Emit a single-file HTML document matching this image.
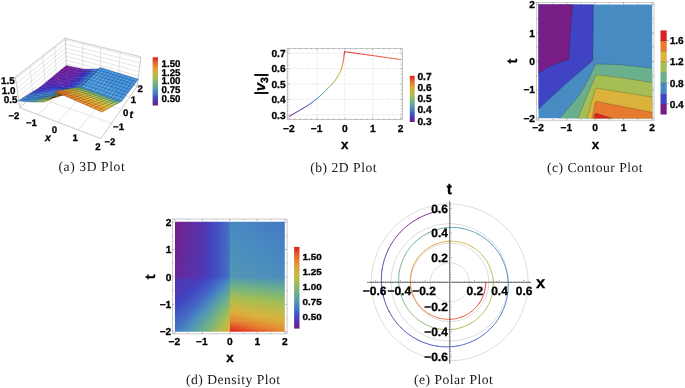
<!DOCTYPE html>
<html><head><meta charset="utf-8"><title>Plots</title>
<style>html,body{margin:0;padding:0;background:#fff}svg{display:block}</style></head>
<body>
<svg width="685" height="388" viewBox="0 0 685 388" font-family="Liberation Sans, Arial, Helvetica, sans-serif" text-rendering="geometricPrecision">
<style>text{stroke:#000;stroke-width:0.3px}text.cap{stroke:none}</style>
<defs><linearGradient id="cb" x1="0" y1="0" x2="0" y2="1"><stop offset="0.000" stop-color="#db2121"/><stop offset="0.083" stop-color="#e3552a"/><stop offset="0.167" stop-color="#e68332"/><stop offset="0.250" stop-color="#dea439"/><stop offset="0.333" stop-color="#c9b644"/><stop offset="0.417" stop-color="#aabd52"/><stop offset="0.500" stop-color="#88b770"/><stop offset="0.583" stop-color="#68ad91"/><stop offset="0.667" stop-color="#5497b0"/><stop offset="0.750" stop-color="#4679c3"/><stop offset="0.833" stop-color="#414fc4"/><stop offset="0.917" stop-color="#5733aa"/><stop offset="1.000" stop-color="#781c86"/></linearGradient></defs>
<rect width="685" height="388" fill="#fff"/>
<g id="p2d"><line x1="289.2" y1="48.3" x2="289.2" y2="119.4" stroke="#d2d2d2" stroke-width="0.6" stroke-dasharray="2 1.2 0.6 1.2"/>
<line x1="317.0" y1="48.3" x2="317.0" y2="119.4" stroke="#d2d2d2" stroke-width="0.6" stroke-dasharray="2 1.2 0.6 1.2"/>
<line x1="344.9" y1="48.3" x2="344.9" y2="119.4" stroke="#d2d2d2" stroke-width="0.6" stroke-dasharray="2 1.2 0.6 1.2"/>
<line x1="372.8" y1="48.3" x2="372.8" y2="119.4" stroke="#d2d2d2" stroke-width="0.6" stroke-dasharray="2 1.2 0.6 1.2"/>
<line x1="400.6" y1="48.3" x2="400.6" y2="119.4" stroke="#d2d2d2" stroke-width="0.6" stroke-dasharray="2 1.2 0.6 1.2"/>
<line x1="287.2" y1="114.9" x2="402.6" y2="114.9" stroke="#d2d2d2" stroke-width="0.6" stroke-dasharray="2 1.2 0.6 1.2"/>
<line x1="287.2" y1="99.4" x2="402.6" y2="99.4" stroke="#d2d2d2" stroke-width="0.6" stroke-dasharray="2 1.2 0.6 1.2"/>
<line x1="287.2" y1="83.9" x2="402.6" y2="83.9" stroke="#d2d2d2" stroke-width="0.6" stroke-dasharray="2 1.2 0.6 1.2"/>
<line x1="287.2" y1="68.5" x2="402.6" y2="68.5" stroke="#d2d2d2" stroke-width="0.6" stroke-dasharray="2 1.2 0.6 1.2"/>
<line x1="287.2" y1="53.0" x2="402.6" y2="53.0" stroke="#d2d2d2" stroke-width="0.6" stroke-dasharray="2 1.2 0.6 1.2"/>
<rect x="287.2" y="48.3" width="115.4" height="71.1" fill="none" stroke="#aaa" stroke-width="0.7"/>
<path d="M289.2 119.4v-2.2M289.2 48.3v2.2" stroke="#888" stroke-width="0.5"/>
<path d="M294.8 119.4v-1.2M294.8 48.3v1.2" stroke="#888" stroke-width="0.5"/>
<path d="M300.3 119.4v-1.2M300.3 48.3v1.2" stroke="#888" stroke-width="0.5"/>
<path d="M305.9 119.4v-1.2M305.9 48.3v1.2" stroke="#888" stroke-width="0.5"/>
<path d="M311.5 119.4v-1.2M311.5 48.3v1.2" stroke="#888" stroke-width="0.5"/>
<path d="M317.0 119.4v-2.2M317.0 48.3v2.2" stroke="#888" stroke-width="0.5"/>
<path d="M322.6 119.4v-1.2M322.6 48.3v1.2" stroke="#888" stroke-width="0.5"/>
<path d="M328.2 119.4v-1.2M328.2 48.3v1.2" stroke="#888" stroke-width="0.5"/>
<path d="M333.8 119.4v-1.2M333.8 48.3v1.2" stroke="#888" stroke-width="0.5"/>
<path d="M339.3 119.4v-1.2M339.3 48.3v1.2" stroke="#888" stroke-width="0.5"/>
<path d="M344.9 119.4v-2.2M344.9 48.3v2.2" stroke="#888" stroke-width="0.5"/>
<path d="M350.5 119.4v-1.2M350.5 48.3v1.2" stroke="#888" stroke-width="0.5"/>
<path d="M356.0 119.4v-1.2M356.0 48.3v1.2" stroke="#888" stroke-width="0.5"/>
<path d="M361.6 119.4v-1.2M361.6 48.3v1.2" stroke="#888" stroke-width="0.5"/>
<path d="M367.2 119.4v-1.2M367.2 48.3v1.2" stroke="#888" stroke-width="0.5"/>
<path d="M372.7 119.4v-2.2M372.7 48.3v2.2" stroke="#888" stroke-width="0.5"/>
<path d="M378.3 119.4v-1.2M378.3 48.3v1.2" stroke="#888" stroke-width="0.5"/>
<path d="M383.9 119.4v-1.2M383.9 48.3v1.2" stroke="#888" stroke-width="0.5"/>
<path d="M389.5 119.4v-1.2M389.5 48.3v1.2" stroke="#888" stroke-width="0.5"/>
<path d="M395.0 119.4v-1.2M395.0 48.3v1.2" stroke="#888" stroke-width="0.5"/>
<path d="M400.6 119.4v-2.2M400.6 48.3v2.2" stroke="#888" stroke-width="0.5"/>
<path d="M287.2 118.0h1.2M402.6 118.0h-1.2" stroke="#888" stroke-width="0.5"/>
<path d="M287.2 114.9h2.2M402.6 114.9h-2.2" stroke="#888" stroke-width="0.5"/>
<path d="M287.2 111.8h1.2M402.6 111.8h-1.2" stroke="#888" stroke-width="0.5"/>
<path d="M287.2 108.7h1.2M402.6 108.7h-1.2" stroke="#888" stroke-width="0.5"/>
<path d="M287.2 105.6h1.2M402.6 105.6h-1.2" stroke="#888" stroke-width="0.5"/>
<path d="M287.2 102.5h1.2M402.6 102.5h-1.2" stroke="#888" stroke-width="0.5"/>
<path d="M287.2 99.4h2.2M402.6 99.4h-2.2" stroke="#888" stroke-width="0.5"/>
<path d="M287.2 96.3h1.2M402.6 96.3h-1.2" stroke="#888" stroke-width="0.5"/>
<path d="M287.2 93.2h1.2M402.6 93.2h-1.2" stroke="#888" stroke-width="0.5"/>
<path d="M287.2 90.1h1.2M402.6 90.1h-1.2" stroke="#888" stroke-width="0.5"/>
<path d="M287.2 87.0h1.2M402.6 87.0h-1.2" stroke="#888" stroke-width="0.5"/>
<path d="M287.2 83.9h2.2M402.6 83.9h-2.2" stroke="#888" stroke-width="0.5"/>
<path d="M287.2 80.8h1.2M402.6 80.8h-1.2" stroke="#888" stroke-width="0.5"/>
<path d="M287.2 77.7h1.2M402.6 77.7h-1.2" stroke="#888" stroke-width="0.5"/>
<path d="M287.2 74.7h1.2M402.6 74.7h-1.2" stroke="#888" stroke-width="0.5"/>
<path d="M287.2 71.6h1.2M402.6 71.6h-1.2" stroke="#888" stroke-width="0.5"/>
<path d="M287.2 68.5h2.2M402.6 68.5h-2.2" stroke="#888" stroke-width="0.5"/>
<path d="M287.2 65.4h1.2M402.6 65.4h-1.2" stroke="#888" stroke-width="0.5"/>
<path d="M287.2 62.3h1.2M402.6 62.3h-1.2" stroke="#888" stroke-width="0.5"/>
<path d="M287.2 59.2h1.2M402.6 59.2h-1.2" stroke="#888" stroke-width="0.5"/>
<path d="M287.2 56.1h1.2M402.6 56.1h-1.2" stroke="#888" stroke-width="0.5"/>
<path d="M287.2 53.0h2.2M402.6 53.0h-2.2" stroke="#888" stroke-width="0.5"/>
<line x1="289.20" y1="116.29" x2="290.47" y2="115.59" stroke="#751e89" stroke-width="0.85" stroke-linecap="round"/>
<line x1="290.47" y1="115.59" x2="291.72" y2="114.89" stroke="#71218e" stroke-width="0.85" stroke-linecap="round"/>
<line x1="291.72" y1="114.89" x2="292.97" y2="114.19" stroke="#6c2493" stroke-width="0.85" stroke-linecap="round"/>
<line x1="292.97" y1="114.19" x2="294.20" y2="113.49" stroke="#682798" stroke-width="0.85" stroke-linecap="round"/>
<line x1="294.20" y1="113.49" x2="295.43" y2="112.78" stroke="#642a9d" stroke-width="0.85" stroke-linecap="round"/>
<line x1="295.43" y1="112.78" x2="296.64" y2="112.08" stroke="#5f2da1" stroke-width="0.85" stroke-linecap="round"/>
<line x1="296.64" y1="112.08" x2="297.84" y2="111.39" stroke="#5b30a6" stroke-width="0.85" stroke-linecap="round"/>
<line x1="297.84" y1="111.39" x2="299.03" y2="110.69" stroke="#5733ab" stroke-width="0.85" stroke-linecap="round"/>
<line x1="299.03" y1="110.69" x2="300.21" y2="110.00" stroke="#5236b0" stroke-width="0.85" stroke-linecap="round"/>
<line x1="300.21" y1="110.00" x2="301.37" y2="109.32" stroke="#4e39b4" stroke-width="0.85" stroke-linecap="round"/>
<line x1="301.37" y1="109.32" x2="302.53" y2="108.64" stroke="#4a3cb9" stroke-width="0.85" stroke-linecap="round"/>
<line x1="302.53" y1="108.64" x2="303.67" y2="107.96" stroke="#463fbe" stroke-width="0.85" stroke-linecap="round"/>
<line x1="303.67" y1="107.96" x2="304.80" y2="107.29" stroke="#4242c2" stroke-width="0.85" stroke-linecap="round"/>
<line x1="304.80" y1="107.29" x2="305.92" y2="106.60" stroke="#4046c4" stroke-width="0.85" stroke-linecap="round"/>
<line x1="305.92" y1="106.60" x2="307.03" y2="105.90" stroke="#414cc4" stroke-width="0.85" stroke-linecap="round"/>
<line x1="307.03" y1="105.90" x2="308.13" y2="105.19" stroke="#4252c4" stroke-width="0.85" stroke-linecap="round"/>
<line x1="308.13" y1="105.19" x2="309.21" y2="104.45" stroke="#4257c3" stroke-width="0.85" stroke-linecap="round"/>
<line x1="309.21" y1="104.45" x2="310.28" y2="103.71" stroke="#435dc3" stroke-width="0.85" stroke-linecap="round"/>
<line x1="310.28" y1="103.71" x2="311.34" y2="102.96" stroke="#4463c3" stroke-width="0.85" stroke-linecap="round"/>
<line x1="311.34" y1="102.96" x2="312.39" y2="102.20" stroke="#4469c3" stroke-width="0.85" stroke-linecap="round"/>
<line x1="312.39" y1="102.20" x2="313.42" y2="101.43" stroke="#456fc3" stroke-width="0.85" stroke-linecap="round"/>
<line x1="313.42" y1="101.43" x2="314.44" y2="100.64" stroke="#4675c3" stroke-width="0.85" stroke-linecap="round"/>
<line x1="314.44" y1="100.64" x2="315.45" y2="99.85" stroke="#467cc2" stroke-width="0.85" stroke-linecap="round"/>
<line x1="315.45" y1="99.85" x2="316.45" y2="99.06" stroke="#4782c2" stroke-width="0.85" stroke-linecap="round"/>
<line x1="316.45" y1="99.06" x2="317.43" y2="98.25" stroke="#4888c2" stroke-width="0.85" stroke-linecap="round"/>
<line x1="317.43" y1="98.25" x2="318.40" y2="97.43" stroke="#4a8dbf" stroke-width="0.85" stroke-linecap="round"/>
<line x1="318.40" y1="97.43" x2="319.36" y2="96.60" stroke="#4d90ba" stroke-width="0.85" stroke-linecap="round"/>
<line x1="319.36" y1="96.60" x2="320.30" y2="95.76" stroke="#5094b5" stroke-width="0.85" stroke-linecap="round"/>
<line x1="320.30" y1="95.76" x2="321.23" y2="94.90" stroke="#5397b0" stroke-width="0.85" stroke-linecap="round"/>
<line x1="321.23" y1="94.90" x2="322.15" y2="94.05" stroke="#579bab" stroke-width="0.85" stroke-linecap="round"/>
<line x1="322.15" y1="94.05" x2="323.05" y2="93.19" stroke="#5a9ea6" stroke-width="0.85" stroke-linecap="round"/>
<line x1="323.05" y1="93.19" x2="323.94" y2="92.33" stroke="#5da2a1" stroke-width="0.85" stroke-linecap="round"/>
<line x1="323.94" y1="92.33" x2="324.82" y2="91.47" stroke="#61a59c" stroke-width="0.85" stroke-linecap="round"/>
<line x1="324.82" y1="91.47" x2="325.68" y2="90.62" stroke="#64a997" stroke-width="0.85" stroke-linecap="round"/>
<line x1="325.68" y1="90.62" x2="326.53" y2="89.77" stroke="#67ac92" stroke-width="0.85" stroke-linecap="round"/>
<line x1="326.53" y1="89.77" x2="327.36" y2="88.94" stroke="#6aaf8d" stroke-width="0.85" stroke-linecap="round"/>
<line x1="327.36" y1="88.94" x2="328.18" y2="88.13" stroke="#6fb188" stroke-width="0.85" stroke-linecap="round"/>
<line x1="328.18" y1="88.13" x2="328.98" y2="87.33" stroke="#75b283" stroke-width="0.85" stroke-linecap="round"/>
<line x1="328.98" y1="87.33" x2="329.77" y2="86.53" stroke="#7ab47e" stroke-width="0.85" stroke-linecap="round"/>
<line x1="329.77" y1="86.53" x2="330.54" y2="85.72" stroke="#7fb579" stroke-width="0.85" stroke-linecap="round"/>
<line x1="330.54" y1="85.72" x2="331.30" y2="84.92" stroke="#84b674" stroke-width="0.85" stroke-linecap="round"/>
<line x1="331.30" y1="84.92" x2="332.04" y2="84.10" stroke="#89b76f" stroke-width="0.85" stroke-linecap="round"/>
<line x1="332.04" y1="84.10" x2="332.77" y2="83.26" stroke="#8fb96a" stroke-width="0.85" stroke-linecap="round"/>
<line x1="332.77" y1="83.26" x2="333.48" y2="82.41" stroke="#94ba64" stroke-width="0.85" stroke-linecap="round"/>
<line x1="333.48" y1="82.41" x2="334.17" y2="81.54" stroke="#9abb5f" stroke-width="0.85" stroke-linecap="round"/>
<line x1="334.17" y1="81.54" x2="334.85" y2="80.67" stroke="#9fbd5a" stroke-width="0.85" stroke-linecap="round"/>
<line x1="334.85" y1="80.67" x2="335.51" y2="79.78" stroke="#a5be54" stroke-width="0.85" stroke-linecap="round"/>
<line x1="335.51" y1="79.78" x2="336.16" y2="78.87" stroke="#aabd52" stroke-width="0.85" stroke-linecap="round"/>
<line x1="336.16" y1="78.87" x2="336.79" y2="77.93" stroke="#b0bc4f" stroke-width="0.85" stroke-linecap="round"/>
<line x1="336.79" y1="77.93" x2="337.40" y2="76.97" stroke="#b5ba4d" stroke-width="0.85" stroke-linecap="round"/>
<line x1="337.40" y1="76.97" x2="337.99" y2="75.97" stroke="#bbb94a" stroke-width="0.85" stroke-linecap="round"/>
<line x1="337.99" y1="75.97" x2="338.56" y2="74.95" stroke="#c1b847" stroke-width="0.85" stroke-linecap="round"/>
<line x1="338.56" y1="74.95" x2="339.11" y2="73.93" stroke="#c7b645" stroke-width="0.85" stroke-linecap="round"/>
<line x1="339.11" y1="73.93" x2="339.65" y2="72.90" stroke="#cdb542" stroke-width="0.85" stroke-linecap="round"/>
<line x1="339.65" y1="72.90" x2="340.16" y2="71.83" stroke="#d4b43f" stroke-width="0.85" stroke-linecap="round"/>
<line x1="340.16" y1="71.83" x2="340.66" y2="70.71" stroke="#dab23c" stroke-width="0.85" stroke-linecap="round"/>
<line x1="340.66" y1="70.71" x2="341.13" y2="69.52" stroke="#dcac3b" stroke-width="0.85" stroke-linecap="round"/>
<line x1="341.13" y1="69.52" x2="341.59" y2="68.26" stroke="#dea439" stroke-width="0.85" stroke-linecap="round"/>
<line x1="341.59" y1="68.26" x2="342.02" y2="66.93" stroke="#e09c37" stroke-width="0.85" stroke-linecap="round"/>
<line x1="342.02" y1="66.93" x2="342.42" y2="65.43" stroke="#e29335" stroke-width="0.85" stroke-linecap="round"/>
<line x1="342.42" y1="65.43" x2="342.81" y2="63.72" stroke="#e48a33" stroke-width="0.85" stroke-linecap="round"/>
<line x1="342.81" y1="63.72" x2="343.17" y2="61.88" stroke="#e77f31" stroke-width="0.85" stroke-linecap="round"/>
<line x1="343.17" y1="61.88" x2="343.50" y2="59.99" stroke="#e66f2e" stroke-width="0.85" stroke-linecap="round"/>
<line x1="343.50" y1="59.99" x2="343.81" y2="57.60" stroke="#e35a2b" stroke-width="0.85" stroke-linecap="round"/>
<line x1="343.81" y1="57.60" x2="344.08" y2="55.13" stroke="#e04227" stroke-width="0.85" stroke-linecap="round"/>
<line x1="344.08" y1="55.13" x2="344.33" y2="53.51" stroke="#dd2e23" stroke-width="0.85" stroke-linecap="round"/>
<line x1="344.33" y1="53.51" x2="344.54" y2="52.66" stroke="#db2221" stroke-width="0.85" stroke-linecap="round"/>
<line x1="344.54" y1="52.66" x2="344.71" y2="52.11" stroke="#db2121" stroke-width="0.85" stroke-linecap="round"/>
<line x1="344.71" y1="52.11" x2="344.84" y2="51.83" stroke="#db2121" stroke-width="0.85" stroke-linecap="round"/>
<line x1="344.84" y1="51.83" x2="344.90" y2="51.74" stroke="#db2121" stroke-width="0.85" stroke-linecap="round"/>
<line x1="344.90" y1="51.74" x2="349.54" y2="52.39" stroke="#db2121" stroke-width="0.85" stroke-linecap="round"/>
<line x1="349.54" y1="52.39" x2="354.18" y2="53.03" stroke="#db2121" stroke-width="0.85" stroke-linecap="round"/>
<line x1="354.18" y1="53.03" x2="358.82" y2="53.68" stroke="#dc2522" stroke-width="0.85" stroke-linecap="round"/>
<line x1="358.82" y1="53.68" x2="363.47" y2="54.32" stroke="#dc2b23" stroke-width="0.85" stroke-linecap="round"/>
<line x1="363.47" y1="54.32" x2="368.11" y2="54.97" stroke="#dd3124" stroke-width="0.85" stroke-linecap="round"/>
<line x1="368.11" y1="54.97" x2="372.75" y2="55.61" stroke="#de3825" stroke-width="0.85" stroke-linecap="round"/>
<line x1="372.75" y1="55.61" x2="377.39" y2="56.26" stroke="#df3e26" stroke-width="0.85" stroke-linecap="round"/>
<line x1="377.39" y1="56.26" x2="382.03" y2="56.90" stroke="#e04427" stroke-width="0.85" stroke-linecap="round"/>
<line x1="382.03" y1="56.90" x2="386.67" y2="57.55" stroke="#e14b28" stroke-width="0.85" stroke-linecap="round"/>
<line x1="386.67" y1="57.55" x2="391.32" y2="58.19" stroke="#e25129" stroke-width="0.85" stroke-linecap="round"/>
<line x1="391.32" y1="58.19" x2="395.96" y2="58.84" stroke="#e3572a" stroke-width="0.85" stroke-linecap="round"/>
<line x1="395.96" y1="58.84" x2="400.60" y2="59.48" stroke="#e45e2b" stroke-width="0.85" stroke-linecap="round"/>
<text x="288.8" y="131.9" font-size="10.2" font-weight="bold" text-anchor="middle" fill="#000" >−2</text>
<text x="316.6" y="131.9" font-size="10.2" font-weight="bold" text-anchor="middle" fill="#000" >−1</text>
<text x="344.9" y="131.9" font-size="10.2" font-weight="bold" text-anchor="middle" fill="#000" >0</text>
<text x="372.8" y="131.9" font-size="10.2" font-weight="bold" text-anchor="middle" fill="#000" >1</text>
<text x="400.6" y="131.9" font-size="10.2" font-weight="bold" text-anchor="middle" fill="#000" >2</text>
<text x="285.6" y="118.5" font-size="10.2" font-weight="bold" text-anchor="end" fill="#000" >0.3</text>
<text x="285.6" y="103.0" font-size="10.2" font-weight="bold" text-anchor="end" fill="#000" >0.4</text>
<text x="285.6" y="87.5" font-size="10.2" font-weight="bold" text-anchor="end" fill="#000" >0.5</text>
<text x="285.6" y="72.1" font-size="10.2" font-weight="bold" text-anchor="end" fill="#000" >0.6</text>
<text x="285.6" y="56.6" font-size="10.2" font-weight="bold" text-anchor="end" fill="#000" >0.7</text>
<text x="344.8" y="148.6" font-size="13.4" font-weight="bold" text-anchor="middle" fill="#000" >x</text>
<text transform="translate(265.2,84) rotate(-90)" font-size="14.5" font-weight="bold" text-anchor="middle">|<tspan font-style="italic">v</tspan><tspan font-size="10.5" dy="2.6">3</tspan><tspan dy="-2.6">|</tspan></text>
<rect x="409.8" y="75.8" width="4.9" height="46.2" fill="url(#cb)"/>
<text x="417.4" y="79.7" font-size="10.2" font-weight="bold" text-anchor="start" fill="#000" >0.7</text>
<text x="417.4" y="90.9" font-size="10.2" font-weight="bold" text-anchor="start" fill="#000" >0.6</text>
<text x="417.4" y="102.1" font-size="10.2" font-weight="bold" text-anchor="start" fill="#000" >0.5</text>
<text x="417.4" y="113.3" font-size="10.2" font-weight="bold" text-anchor="start" fill="#000" >0.4</text>
<text x="417.4" y="124.5" font-size="10.2" font-weight="bold" text-anchor="start" fill="#000" >0.3</text></g>
<g id="pcont"><clipPath id="cclip"><rect x="538.5" y="4.5" width="113.7" height="113.7"/></clipPath>
<g clip-path="url(#cclip)" stroke="#222" stroke-opacity="0.55" stroke-width="0.4" stroke-linejoin="round">
<rect x="537.5" y="3.5" width="115.70000000000005" height="115.7" fill="#488bc2" stroke="none"/>
<path d="M593.5 3.5 L593.2 30 L592.9 59.3 Q592.8 60.6 591 62.2 L566 83.5 L537.5 110 L537.5 3.5 Z" fill="#4043c4"/>
<path d="M572.8 3.5 L570.5 30 L568.9 57.5 Q568.8 59.8 566 60.6 Q551 64 537.5 74 L537.5 3.5 Z" fill="#781c86"/>
<path d="M558.8 119.2 L575 100.5 Q586 87 594.4 66.2 Q595.2 64.2 597 64 L620 64.7 L653.2 68.3 L653.2 119.2 Z" fill="#6bb08c"/>
<path d="M577.4 119.2 L595.2 76.4 Q595.6 74.6 597 74.8 L620 77.6 L653.2 82.7 L653.2 119.2 Z" fill="#a5be54"/>
<path d="M586.6 119.2 L595.4 89.2 Q595.6 88 597 88.2 L653.2 97.2 L653.2 119.2 Z" fill="#dbb23c"/>
<path d="M592 119.2 L595.3 102.4 Q595.5 101.3 597 101.5 L653.2 112.5 L653.2 119.2 Z" fill="#e87a30"/>
<path d="M594.1 119.2 L595 113.8 Q595.2 113.2 596.5 113.5 L613 118.4 L613 119.2 Z" fill="#db2121"/>
</g>
<rect x="536.6" y="2.3" width="117.4" height="117.9" fill="none" stroke="#aaa" stroke-width="0.6"/>
<path d="M538.4 120.2v-2.0M538.4 2.3v2.0" stroke="#777" stroke-width="0.5"/>
<path d="M536.6 118.2h2.0M654.0 118.2h-2.0" stroke="#777" stroke-width="0.5"/>
<path d="M552.6 120.2v-1.2M552.6 2.3v1.2" stroke="#777" stroke-width="0.5"/>
<path d="M536.6 104.0h1.2M654.0 104.0h-1.2" stroke="#777" stroke-width="0.5"/>
<path d="M566.8 120.2v-2.0M566.8 2.3v2.0" stroke="#777" stroke-width="0.5"/>
<path d="M536.6 89.8h2.0M654.0 89.8h-2.0" stroke="#777" stroke-width="0.5"/>
<path d="M581.0 120.2v-1.2M581.0 2.3v1.2" stroke="#777" stroke-width="0.5"/>
<path d="M536.6 75.6h1.2M654.0 75.6h-1.2" stroke="#777" stroke-width="0.5"/>
<path d="M595.2 120.2v-2.0M595.2 2.3v2.0" stroke="#777" stroke-width="0.5"/>
<path d="M536.6 61.4h2.0M654.0 61.4h-2.0" stroke="#777" stroke-width="0.5"/>
<path d="M609.4 120.2v-1.2M609.4 2.3v1.2" stroke="#777" stroke-width="0.5"/>
<path d="M536.6 47.2h1.2M654.0 47.2h-1.2" stroke="#777" stroke-width="0.5"/>
<path d="M623.6 120.2v-2.0M623.6 2.3v2.0" stroke="#777" stroke-width="0.5"/>
<path d="M536.6 33.0h2.0M654.0 33.0h-2.0" stroke="#777" stroke-width="0.5"/>
<path d="M637.8 120.2v-1.2M637.8 2.3v1.2" stroke="#777" stroke-width="0.5"/>
<path d="M536.6 18.8h1.2M654.0 18.8h-1.2" stroke="#777" stroke-width="0.5"/>
<path d="M652.0 120.2v-2.0M652.0 2.3v2.0" stroke="#777" stroke-width="0.5"/>
<path d="M536.6 4.6h2.0M654.0 4.6h-2.0" stroke="#777" stroke-width="0.5"/>
<text x="538.0" y="131.3" font-size="10.2" font-weight="bold" text-anchor="middle" fill="#000" >−2</text>
<text x="535.0" y="121.8" font-size="10.2" font-weight="bold" text-anchor="end" fill="#000" >−2</text>
<text x="566.4" y="131.3" font-size="10.2" font-weight="bold" text-anchor="middle" fill="#000" >−1</text>
<text x="535.0" y="93.4" font-size="10.2" font-weight="bold" text-anchor="end" fill="#000" >−1</text>
<text x="595.2" y="131.3" font-size="10.2" font-weight="bold" text-anchor="middle" fill="#000" >0</text>
<text x="535.0" y="65.0" font-size="10.2" font-weight="bold" text-anchor="end" fill="#000" >0</text>
<text x="623.6" y="131.3" font-size="10.2" font-weight="bold" text-anchor="middle" fill="#000" >1</text>
<text x="535.0" y="36.6" font-size="10.2" font-weight="bold" text-anchor="end" fill="#000" >1</text>
<text x="652.0" y="131.3" font-size="10.2" font-weight="bold" text-anchor="middle" fill="#000" >2</text>
<text x="535.0" y="8.2" font-size="10.2" font-weight="bold" text-anchor="end" fill="#000" >2</text>
<text x="595.4" y="148.8" font-size="13.4" font-weight="bold" text-anchor="middle" fill="#000" >x</text>
<text transform="translate(516.5,61) rotate(-90)" font-size="14.5" font-weight="bold" text-anchor="middle">t</text>
<rect x="660.5" y="103.90" width="6.2" height="10.6" fill="#781c86"/>
<rect x="660.5" y="93.40" width="6.2" height="10.6" fill="#4043c4"/>
<rect x="660.5" y="82.90" width="6.2" height="10.6" fill="#488bc2"/>
<rect x="660.5" y="72.40" width="6.2" height="10.6" fill="#6bb08c"/>
<rect x="660.5" y="61.90" width="6.2" height="10.6" fill="#a5be54"/>
<rect x="660.5" y="51.40" width="6.2" height="10.6" fill="#dbb23c"/>
<rect x="660.5" y="40.90" width="6.2" height="10.6" fill="#e87a30"/>
<rect x="660.5" y="30.40" width="6.2" height="10.6" fill="#db2121"/>
<line x1="660.5" x2="666.7" y1="103.90" y2="103.90" stroke="#333" stroke-opacity="0.5" stroke-width="0.4"/>
<line x1="660.5" x2="666.7" y1="93.40" y2="93.40" stroke="#333" stroke-opacity="0.5" stroke-width="0.4"/>
<line x1="660.5" x2="666.7" y1="82.90" y2="82.90" stroke="#333" stroke-opacity="0.5" stroke-width="0.4"/>
<line x1="660.5" x2="666.7" y1="72.40" y2="72.40" stroke="#333" stroke-opacity="0.5" stroke-width="0.4"/>
<line x1="660.5" x2="666.7" y1="61.90" y2="61.90" stroke="#333" stroke-opacity="0.5" stroke-width="0.4"/>
<line x1="660.5" x2="666.7" y1="51.40" y2="51.40" stroke="#333" stroke-opacity="0.5" stroke-width="0.4"/>
<line x1="660.5" x2="666.7" y1="40.90" y2="40.90" stroke="#333" stroke-opacity="0.5" stroke-width="0.4"/>
<line x1="666.7" x2="668.7" y1="40.60" y2="40.60" stroke="#555" stroke-width="0.5"/>
<text x="669.7" y="44.2" font-size="10.1" font-weight="bold" text-anchor="start" fill="#000" >1.6</text>
<line x1="666.7" x2="668.7" y1="61.80" y2="61.80" stroke="#555" stroke-width="0.5"/>
<text x="669.7" y="65.4" font-size="10.1" font-weight="bold" text-anchor="start" fill="#000" >1.2</text>
<line x1="666.7" x2="668.7" y1="82.90" y2="82.90" stroke="#555" stroke-width="0.5"/>
<text x="669.7" y="86.5" font-size="10.1" font-weight="bold" text-anchor="start" fill="#000" >0.8</text>
<line x1="666.7" x2="668.7" y1="103.90" y2="103.90" stroke="#555" stroke-width="0.5"/>
<text x="669.7" y="107.5" font-size="10.1" font-weight="bold" text-anchor="start" fill="#000" >0.4</text></g>
<g id="pdens"><clipPath id="dclip"><rect x="174.8" y="221.7" width="110.1" height="110.0"/></clipPath>
<defs><linearGradient id="d0"><stop offset="0.0000" stop-color="#781c86"/><stop offset="0.0625" stop-color="#6e2391"/><stop offset="0.1250" stop-color="#65299b"/><stop offset="0.1875" stop-color="#5d2fa4"/><stop offset="0.2500" stop-color="#5733aa"/><stop offset="0.3125" stop-color="#483dbb"/><stop offset="0.3750" stop-color="#414dc4"/><stop offset="0.4250" stop-color="#435bc3"/><stop offset="0.4625" stop-color="#4466c3"/><stop offset="0.4875" stop-color="#4571c3"/><stop offset="0.5000" stop-color="#467ac2"/><stop offset="0.5000" stop-color="#488ac2"/><stop offset="0.7500" stop-color="#4781c2"/><stop offset="1.0000" stop-color="#4678c3"/></linearGradient><linearGradient id="d1"><stop offset="0.0000" stop-color="#781c87"/><stop offset="0.0625" stop-color="#6d2392"/><stop offset="0.1250" stop-color="#642a9c"/><stop offset="0.1875" stop-color="#5d2fa4"/><stop offset="0.2500" stop-color="#5733ab"/><stop offset="0.3125" stop-color="#483dbb"/><stop offset="0.3750" stop-color="#414dc4"/><stop offset="0.4250" stop-color="#435bc3"/><stop offset="0.4625" stop-color="#4466c3"/><stop offset="0.4875" stop-color="#4571c3"/><stop offset="0.5000" stop-color="#467ac2"/><stop offset="0.5000" stop-color="#488bc2"/><stop offset="0.7500" stop-color="#4782c2"/><stop offset="1.0000" stop-color="#4679c3"/></linearGradient><linearGradient id="d2"><stop offset="0.0000" stop-color="#771d87"/><stop offset="0.0625" stop-color="#6d2492"/><stop offset="0.1250" stop-color="#642a9c"/><stop offset="0.1875" stop-color="#5c2fa5"/><stop offset="0.2500" stop-color="#5733ab"/><stop offset="0.3125" stop-color="#483dbb"/><stop offset="0.3750" stop-color="#414dc4"/><stop offset="0.4250" stop-color="#435bc3"/><stop offset="0.4625" stop-color="#4466c3"/><stop offset="0.4875" stop-color="#4571c3"/><stop offset="0.5000" stop-color="#467ac2"/><stop offset="0.5000" stop-color="#488bc1"/><stop offset="0.7500" stop-color="#4783c2"/><stop offset="1.0000" stop-color="#467ac2"/></linearGradient><linearGradient id="d3"><stop offset="0.0000" stop-color="#761d88"/><stop offset="0.0625" stop-color="#6d2493"/><stop offset="0.1250" stop-color="#642a9d"/><stop offset="0.1875" stop-color="#5c2fa5"/><stop offset="0.2500" stop-color="#5733ab"/><stop offset="0.3125" stop-color="#483ebb"/><stop offset="0.3750" stop-color="#414dc4"/><stop offset="0.4250" stop-color="#435cc3"/><stop offset="0.4625" stop-color="#4466c3"/><stop offset="0.4875" stop-color="#4571c3"/><stop offset="0.5000" stop-color="#467ac2"/><stop offset="0.5000" stop-color="#498cc1"/><stop offset="0.7500" stop-color="#4784c2"/><stop offset="1.0000" stop-color="#467ac2"/></linearGradient><linearGradient id="d4"><stop offset="0.0000" stop-color="#761d88"/><stop offset="0.0625" stop-color="#6c2493"/><stop offset="0.1250" stop-color="#632a9d"/><stop offset="0.1875" stop-color="#5c30a5"/><stop offset="0.2500" stop-color="#5633ab"/><stop offset="0.3125" stop-color="#483ebb"/><stop offset="0.3750" stop-color="#414dc4"/><stop offset="0.4250" stop-color="#435cc3"/><stop offset="0.4625" stop-color="#4466c3"/><stop offset="0.4875" stop-color="#4571c3"/><stop offset="0.5000" stop-color="#467ac2"/><stop offset="0.5000" stop-color="#498cc0"/><stop offset="0.7500" stop-color="#4784c2"/><stop offset="1.0000" stop-color="#467bc2"/></linearGradient><linearGradient id="d5"><stop offset="0.0000" stop-color="#751e89"/><stop offset="0.0625" stop-color="#6c2594"/><stop offset="0.1250" stop-color="#632b9d"/><stop offset="0.1875" stop-color="#5c30a6"/><stop offset="0.2500" stop-color="#5634ab"/><stop offset="0.3125" stop-color="#483ebc"/><stop offset="0.3750" stop-color="#414dc4"/><stop offset="0.4250" stop-color="#435cc3"/><stop offset="0.4625" stop-color="#4466c3"/><stop offset="0.4875" stop-color="#4571c3"/><stop offset="0.5000" stop-color="#467ac2"/><stop offset="0.5000" stop-color="#4a8dc0"/><stop offset="0.7500" stop-color="#4785c2"/><stop offset="1.0000" stop-color="#467cc2"/></linearGradient><linearGradient id="d6"><stop offset="0.0000" stop-color="#751e89"/><stop offset="0.0625" stop-color="#6b2594"/><stop offset="0.1250" stop-color="#622b9e"/><stop offset="0.1875" stop-color="#5b30a6"/><stop offset="0.2500" stop-color="#5634ac"/><stop offset="0.3125" stop-color="#473ebc"/><stop offset="0.3750" stop-color="#414dc4"/><stop offset="0.4250" stop-color="#435cc3"/><stop offset="0.4625" stop-color="#4466c3"/><stop offset="0.4875" stop-color="#4571c3"/><stop offset="0.5000" stop-color="#467ac2"/><stop offset="0.5000" stop-color="#4a8dbf"/><stop offset="0.7500" stop-color="#4786c2"/><stop offset="1.0000" stop-color="#467dc2"/></linearGradient><linearGradient id="d7"><stop offset="0.0000" stop-color="#741f8a"/><stop offset="0.0625" stop-color="#6b2595"/><stop offset="0.1250" stop-color="#622b9e"/><stop offset="0.1875" stop-color="#5b30a6"/><stop offset="0.2500" stop-color="#5634ac"/><stop offset="0.3125" stop-color="#473ebc"/><stop offset="0.3750" stop-color="#414dc4"/><stop offset="0.4250" stop-color="#435cc3"/><stop offset="0.4625" stop-color="#4466c3"/><stop offset="0.4875" stop-color="#4571c3"/><stop offset="0.5000" stop-color="#467ac2"/><stop offset="0.5000" stop-color="#4a8ebe"/><stop offset="0.7500" stop-color="#4887c2"/><stop offset="1.0000" stop-color="#477ec2"/></linearGradient><linearGradient id="d8"><stop offset="0.0000" stop-color="#741f8b"/><stop offset="0.0625" stop-color="#6a2595"/><stop offset="0.1250" stop-color="#622b9f"/><stop offset="0.1875" stop-color="#5b30a6"/><stop offset="0.2500" stop-color="#5634ac"/><stop offset="0.3125" stop-color="#473ebc"/><stop offset="0.3750" stop-color="#414ec4"/><stop offset="0.4250" stop-color="#435cc3"/><stop offset="0.4625" stop-color="#4466c3"/><stop offset="0.4875" stop-color="#4571c3"/><stop offset="0.5000" stop-color="#467ac2"/><stop offset="0.5000" stop-color="#4b8ebe"/><stop offset="0.7500" stop-color="#4888c2"/><stop offset="1.0000" stop-color="#477ec2"/></linearGradient><linearGradient id="d9"><stop offset="0.0000" stop-color="#731f8b"/><stop offset="0.0625" stop-color="#6a2696"/><stop offset="0.1250" stop-color="#612c9f"/><stop offset="0.1875" stop-color="#5a31a7"/><stop offset="0.2500" stop-color="#5534ac"/><stop offset="0.3125" stop-color="#473ebc"/><stop offset="0.3750" stop-color="#414ec4"/><stop offset="0.4250" stop-color="#435cc3"/><stop offset="0.4625" stop-color="#4466c3"/><stop offset="0.4875" stop-color="#4571c3"/><stop offset="0.5000" stop-color="#467ac2"/><stop offset="0.5000" stop-color="#4b8ebd"/><stop offset="0.7500" stop-color="#4888c2"/><stop offset="1.0000" stop-color="#477fc2"/></linearGradient><linearGradient id="d10"><stop offset="0.0000" stop-color="#73208c"/><stop offset="0.0625" stop-color="#6a2696"/><stop offset="0.1250" stop-color="#612c9f"/><stop offset="0.1875" stop-color="#5a31a7"/><stop offset="0.2500" stop-color="#5534ad"/><stop offset="0.3125" stop-color="#473ebc"/><stop offset="0.3750" stop-color="#414ec4"/><stop offset="0.4250" stop-color="#435cc3"/><stop offset="0.4625" stop-color="#4466c3"/><stop offset="0.4875" stop-color="#4571c3"/><stop offset="0.5000" stop-color="#467ac2"/><stop offset="0.5000" stop-color="#4c8fbc"/><stop offset="0.7500" stop-color="#4889c2"/><stop offset="1.0000" stop-color="#4780c2"/></linearGradient><linearGradient id="d11"><stop offset="0.0000" stop-color="#72208c"/><stop offset="0.0625" stop-color="#692697"/><stop offset="0.1250" stop-color="#612ca0"/><stop offset="0.1875" stop-color="#5a31a7"/><stop offset="0.2500" stop-color="#5534ad"/><stop offset="0.3125" stop-color="#473ebd"/><stop offset="0.3750" stop-color="#414ec4"/><stop offset="0.4250" stop-color="#435cc3"/><stop offset="0.4625" stop-color="#4466c3"/><stop offset="0.4875" stop-color="#4571c3"/><stop offset="0.5000" stop-color="#467ac2"/><stop offset="0.5000" stop-color="#4c8fbc"/><stop offset="0.7500" stop-color="#488ac2"/><stop offset="1.0000" stop-color="#4781c2"/></linearGradient><linearGradient id="d12"><stop offset="0.0000" stop-color="#72208d"/><stop offset="0.0625" stop-color="#692797"/><stop offset="0.1250" stop-color="#602ca0"/><stop offset="0.1875" stop-color="#5a31a8"/><stop offset="0.2500" stop-color="#5535ad"/><stop offset="0.3125" stop-color="#473ebd"/><stop offset="0.3750" stop-color="#414ec4"/><stop offset="0.4250" stop-color="#435cc3"/><stop offset="0.4625" stop-color="#4466c3"/><stop offset="0.4875" stop-color="#4571c3"/><stop offset="0.5000" stop-color="#467ac2"/><stop offset="0.5000" stop-color="#4c90bb"/><stop offset="0.7500" stop-color="#488bc2"/><stop offset="1.0000" stop-color="#4782c2"/></linearGradient><linearGradient id="d13"><stop offset="0.0000" stop-color="#71218d"/><stop offset="0.0625" stop-color="#682798"/><stop offset="0.1250" stop-color="#602da1"/><stop offset="0.1875" stop-color="#5931a8"/><stop offset="0.2500" stop-color="#5535ad"/><stop offset="0.3125" stop-color="#463fbd"/><stop offset="0.3750" stop-color="#414ec4"/><stop offset="0.4250" stop-color="#435cc3"/><stop offset="0.4625" stop-color="#4466c3"/><stop offset="0.4875" stop-color="#4571c3"/><stop offset="0.5000" stop-color="#467ac2"/><stop offset="0.5000" stop-color="#4d90bb"/><stop offset="0.7500" stop-color="#488bc2"/><stop offset="1.0000" stop-color="#4782c2"/></linearGradient><linearGradient id="d14"><stop offset="0.0000" stop-color="#71218e"/><stop offset="0.0625" stop-color="#682798"/><stop offset="0.1250" stop-color="#602da1"/><stop offset="0.1875" stop-color="#5932a8"/><stop offset="0.2500" stop-color="#5435ad"/><stop offset="0.3125" stop-color="#463fbd"/><stop offset="0.3750" stop-color="#414ec4"/><stop offset="0.4250" stop-color="#435cc3"/><stop offset="0.4625" stop-color="#4466c3"/><stop offset="0.4875" stop-color="#4571c3"/><stop offset="0.5000" stop-color="#467ac2"/><stop offset="0.5000" stop-color="#4d90ba"/><stop offset="0.7500" stop-color="#498cc1"/><stop offset="1.0000" stop-color="#4783c2"/></linearGradient><linearGradient id="d15"><stop offset="0.0000" stop-color="#70218f"/><stop offset="0.0625" stop-color="#672898"/><stop offset="0.1250" stop-color="#5f2da1"/><stop offset="0.1875" stop-color="#5932a9"/><stop offset="0.2500" stop-color="#5435ae"/><stop offset="0.3125" stop-color="#463fbd"/><stop offset="0.3750" stop-color="#414ec4"/><stop offset="0.4250" stop-color="#435cc3"/><stop offset="0.4625" stop-color="#4466c3"/><stop offset="0.4875" stop-color="#4571c3"/><stop offset="0.5000" stop-color="#467ac2"/><stop offset="0.5000" stop-color="#4e91b9"/><stop offset="0.7500" stop-color="#498cc0"/><stop offset="1.0000" stop-color="#4784c2"/></linearGradient><linearGradient id="d16"><stop offset="0.0000" stop-color="#70228f"/><stop offset="0.0625" stop-color="#672899"/><stop offset="0.1250" stop-color="#5f2da2"/><stop offset="0.1875" stop-color="#5832a9"/><stop offset="0.2500" stop-color="#5435ae"/><stop offset="0.3125" stop-color="#463fbd"/><stop offset="0.3750" stop-color="#414fc4"/><stop offset="0.4250" stop-color="#435cc3"/><stop offset="0.4625" stop-color="#4466c3"/><stop offset="0.4875" stop-color="#4571c3"/><stop offset="0.5000" stop-color="#467ac2"/><stop offset="0.5000" stop-color="#4e91b9"/><stop offset="0.7500" stop-color="#498dc0"/><stop offset="1.0000" stop-color="#4785c2"/></linearGradient><linearGradient id="d17"><stop offset="0.0000" stop-color="#6f2290"/><stop offset="0.0625" stop-color="#662899"/><stop offset="0.1250" stop-color="#5f2ea2"/><stop offset="0.1875" stop-color="#5832a9"/><stop offset="0.2500" stop-color="#5435ae"/><stop offset="0.3125" stop-color="#463fbe"/><stop offset="0.3750" stop-color="#414fc4"/><stop offset="0.4250" stop-color="#435dc3"/><stop offset="0.4625" stop-color="#4466c3"/><stop offset="0.4875" stop-color="#4571c3"/><stop offset="0.5000" stop-color="#467ac2"/><stop offset="0.5000" stop-color="#4e92b8"/><stop offset="0.7500" stop-color="#4a8dbf"/><stop offset="1.0000" stop-color="#4786c2"/></linearGradient><linearGradient id="d18"><stop offset="0.0000" stop-color="#6f2390"/><stop offset="0.0625" stop-color="#66299a"/><stop offset="0.1250" stop-color="#5e2ea3"/><stop offset="0.1875" stop-color="#5832aa"/><stop offset="0.2500" stop-color="#5435ae"/><stop offset="0.3125" stop-color="#463fbe"/><stop offset="0.3750" stop-color="#414fc4"/><stop offset="0.4250" stop-color="#435dc3"/><stop offset="0.4625" stop-color="#4466c3"/><stop offset="0.4875" stop-color="#4571c3"/><stop offset="0.5000" stop-color="#467ac2"/><stop offset="0.5000" stop-color="#4f92b8"/><stop offset="0.7500" stop-color="#4a8dbf"/><stop offset="1.0000" stop-color="#4786c2"/></linearGradient><linearGradient id="d19"><stop offset="0.0000" stop-color="#6e2391"/><stop offset="0.0625" stop-color="#66299a"/><stop offset="0.1250" stop-color="#5e2ea3"/><stop offset="0.1875" stop-color="#5833aa"/><stop offset="0.2500" stop-color="#5336af"/><stop offset="0.3125" stop-color="#463fbe"/><stop offset="0.3750" stop-color="#414fc4"/><stop offset="0.4250" stop-color="#435dc3"/><stop offset="0.4625" stop-color="#4466c3"/><stop offset="0.4875" stop-color="#4571c3"/><stop offset="0.5000" stop-color="#467ac2"/><stop offset="0.5000" stop-color="#4f92b7"/><stop offset="0.7500" stop-color="#4b8ebe"/><stop offset="1.0000" stop-color="#4887c2"/></linearGradient><linearGradient id="d20"><stop offset="0.0000" stop-color="#6e2392"/><stop offset="0.0625" stop-color="#65299b"/><stop offset="0.1250" stop-color="#5d2fa3"/><stop offset="0.1875" stop-color="#5733aa"/><stop offset="0.2500" stop-color="#5336af"/><stop offset="0.3125" stop-color="#453fbe"/><stop offset="0.3750" stop-color="#414fc4"/><stop offset="0.4250" stop-color="#435dc3"/><stop offset="0.4625" stop-color="#4467c3"/><stop offset="0.4875" stop-color="#4571c3"/><stop offset="0.5000" stop-color="#467ac2"/><stop offset="0.5000" stop-color="#4f93b6"/><stop offset="0.7500" stop-color="#4b8ebd"/><stop offset="1.0000" stop-color="#4888c2"/></linearGradient><linearGradient id="d21"><stop offset="0.0000" stop-color="#6d2492"/><stop offset="0.0625" stop-color="#65299b"/><stop offset="0.1250" stop-color="#5d2fa4"/><stop offset="0.1875" stop-color="#5733ab"/><stop offset="0.2500" stop-color="#5336af"/><stop offset="0.3125" stop-color="#453fbe"/><stop offset="0.3750" stop-color="#414fc4"/><stop offset="0.4250" stop-color="#435dc3"/><stop offset="0.4625" stop-color="#4467c3"/><stop offset="0.4875" stop-color="#4571c3"/><stop offset="0.5000" stop-color="#467ac2"/><stop offset="0.5000" stop-color="#5093b6"/><stop offset="0.7500" stop-color="#4b8fbd"/><stop offset="1.0000" stop-color="#4889c2"/></linearGradient><linearGradient id="d22"><stop offset="0.0000" stop-color="#6d2493"/><stop offset="0.0625" stop-color="#642a9c"/><stop offset="0.1250" stop-color="#5d2fa4"/><stop offset="0.1875" stop-color="#5733ab"/><stop offset="0.2500" stop-color="#5336af"/><stop offset="0.3125" stop-color="#453fbe"/><stop offset="0.3750" stop-color="#414fc4"/><stop offset="0.4250" stop-color="#435dc3"/><stop offset="0.4625" stop-color="#4467c3"/><stop offset="0.4875" stop-color="#4571c3"/><stop offset="0.5000" stop-color="#467ac2"/><stop offset="0.5000" stop-color="#5094b5"/><stop offset="0.7500" stop-color="#4c8fbc"/><stop offset="1.0000" stop-color="#488ac2"/></linearGradient><linearGradient id="d23"><stop offset="0.0000" stop-color="#6c2493"/><stop offset="0.0625" stop-color="#642a9c"/><stop offset="0.1250" stop-color="#5c2fa5"/><stop offset="0.1875" stop-color="#5633ab"/><stop offset="0.2500" stop-color="#5336af"/><stop offset="0.3125" stop-color="#4540bf"/><stop offset="0.3750" stop-color="#414fc4"/><stop offset="0.4250" stop-color="#435dc3"/><stop offset="0.4625" stop-color="#4467c3"/><stop offset="0.4875" stop-color="#4571c3"/><stop offset="0.5000" stop-color="#467ac2"/><stop offset="0.5000" stop-color="#5194b5"/><stop offset="0.7500" stop-color="#4c8fbc"/><stop offset="1.0000" stop-color="#488ac2"/></linearGradient><linearGradient id="d24"><stop offset="0.0000" stop-color="#6c2594"/><stop offset="0.0625" stop-color="#632a9d"/><stop offset="0.1250" stop-color="#5c30a5"/><stop offset="0.1875" stop-color="#5634ab"/><stop offset="0.2500" stop-color="#5236b0"/><stop offset="0.3125" stop-color="#4540bf"/><stop offset="0.3750" stop-color="#4150c4"/><stop offset="0.4250" stop-color="#435dc3"/><stop offset="0.4625" stop-color="#4467c3"/><stop offset="0.4875" stop-color="#4571c3"/><stop offset="0.5000" stop-color="#467ac2"/><stop offset="0.5000" stop-color="#5195b4"/><stop offset="0.7500" stop-color="#4d90bb"/><stop offset="1.0000" stop-color="#488bc2"/></linearGradient><linearGradient id="d25"><stop offset="0.0000" stop-color="#6b2594"/><stop offset="0.0625" stop-color="#632b9d"/><stop offset="0.1250" stop-color="#5c30a5"/><stop offset="0.1875" stop-color="#5634ac"/><stop offset="0.2500" stop-color="#5236b0"/><stop offset="0.3125" stop-color="#4540bf"/><stop offset="0.3750" stop-color="#4150c4"/><stop offset="0.4250" stop-color="#435dc3"/><stop offset="0.4625" stop-color="#4467c3"/><stop offset="0.4875" stop-color="#4571c3"/><stop offset="0.5000" stop-color="#467ac2"/><stop offset="0.5000" stop-color="#5195b3"/><stop offset="0.7500" stop-color="#4d90ba"/><stop offset="1.0000" stop-color="#498cc1"/></linearGradient><linearGradient id="d26"><stop offset="0.0000" stop-color="#6a2595"/><stop offset="0.0625" stop-color="#622b9e"/><stop offset="0.1250" stop-color="#5b30a6"/><stop offset="0.1875" stop-color="#5634ac"/><stop offset="0.2500" stop-color="#5236b0"/><stop offset="0.3125" stop-color="#4440bf"/><stop offset="0.3750" stop-color="#4150c4"/><stop offset="0.4250" stop-color="#435dc3"/><stop offset="0.4625" stop-color="#4467c3"/><stop offset="0.4875" stop-color="#4571c3"/><stop offset="0.5000" stop-color="#467ac2"/><stop offset="0.5000" stop-color="#5295b3"/><stop offset="0.7500" stop-color="#4d91ba"/><stop offset="1.0000" stop-color="#498cc1"/></linearGradient><linearGradient id="d27"><stop offset="0.0000" stop-color="#6a2696"/><stop offset="0.0625" stop-color="#622b9e"/><stop offset="0.1250" stop-color="#5b30a6"/><stop offset="0.1875" stop-color="#5534ac"/><stop offset="0.2500" stop-color="#5237b0"/><stop offset="0.3125" stop-color="#4440bf"/><stop offset="0.3750" stop-color="#4150c4"/><stop offset="0.4250" stop-color="#435dc3"/><stop offset="0.4625" stop-color="#4467c3"/><stop offset="0.4875" stop-color="#4571c3"/><stop offset="0.5000" stop-color="#467ac2"/><stop offset="0.5000" stop-color="#5296b2"/><stop offset="0.7500" stop-color="#4e91b9"/><stop offset="1.0000" stop-color="#498cc0"/></linearGradient><linearGradient id="d28"><stop offset="0.0000" stop-color="#602da1"/><stop offset="0.0625" stop-color="#5b30a7"/><stop offset="0.1250" stop-color="#5634ac"/><stop offset="0.1875" stop-color="#5236b0"/><stop offset="0.2500" stop-color="#4d3ab6"/><stop offset="0.3125" stop-color="#4043c4"/><stop offset="0.3750" stop-color="#4255c3"/><stop offset="0.4250" stop-color="#4463c3"/><stop offset="0.4625" stop-color="#456ec3"/><stop offset="0.4875" stop-color="#467ac2"/><stop offset="0.5000" stop-color="#4782c2"/><stop offset="0.5000" stop-color="#5699ad"/><stop offset="0.7500" stop-color="#5194b4"/><stop offset="1.0000" stop-color="#4c8fbb"/></linearGradient><linearGradient id="d29"><stop offset="0.0000" stop-color="#4e39b4"/><stop offset="0.0625" stop-color="#4d3ab5"/><stop offset="0.1250" stop-color="#4d3ab6"/><stop offset="0.1875" stop-color="#4c3ab6"/><stop offset="0.2500" stop-color="#4440c0"/><stop offset="0.3125" stop-color="#414ec4"/><stop offset="0.3750" stop-color="#435fc3"/><stop offset="0.4250" stop-color="#456cc3"/><stop offset="0.4625" stop-color="#467cc2"/><stop offset="0.4875" stop-color="#488ac2"/><stop offset="0.5000" stop-color="#4b8ebe"/><stop offset="0.5000" stop-color="#5ca0a4"/><stop offset="0.7500" stop-color="#569aac"/><stop offset="1.0000" stop-color="#5195b4"/></linearGradient><linearGradient id="d30"><stop offset="0.0000" stop-color="#4c3bb7"/><stop offset="0.0625" stop-color="#4c3bb7"/><stop offset="0.1250" stop-color="#4c3ab6"/><stop offset="0.1875" stop-color="#483dbb"/><stop offset="0.2500" stop-color="#4045c4"/><stop offset="0.3125" stop-color="#4254c4"/><stop offset="0.3750" stop-color="#4464c3"/><stop offset="0.4250" stop-color="#4572c3"/><stop offset="0.4625" stop-color="#4786c2"/><stop offset="0.4875" stop-color="#4c8fbc"/><stop offset="0.5000" stop-color="#4f93b7"/><stop offset="0.5000" stop-color="#62a69a"/><stop offset="0.7500" stop-color="#5ca0a3"/><stop offset="1.0000" stop-color="#569aac"/></linearGradient><linearGradient id="d31"><stop offset="0.0000" stop-color="#4e39b5"/><stop offset="0.0625" stop-color="#4e39b5"/><stop offset="0.1250" stop-color="#4c3ab6"/><stop offset="0.1875" stop-color="#453fbe"/><stop offset="0.2500" stop-color="#4149c4"/><stop offset="0.3125" stop-color="#4258c3"/><stop offset="0.3750" stop-color="#4469c3"/><stop offset="0.4250" stop-color="#467ac2"/><stop offset="0.4625" stop-color="#4a8dc0"/><stop offset="0.4875" stop-color="#5093b6"/><stop offset="0.5000" stop-color="#5397b1"/><stop offset="0.5000" stop-color="#68ac91"/><stop offset="0.7500" stop-color="#62a69b"/><stop offset="1.0000" stop-color="#5b9fa4"/></linearGradient><linearGradient id="d32"><stop offset="0.0000" stop-color="#4f38b3"/><stop offset="0.0625" stop-color="#4f39b3"/><stop offset="0.1250" stop-color="#4a3cb9"/><stop offset="0.1875" stop-color="#4242c2"/><stop offset="0.2500" stop-color="#414ec4"/><stop offset="0.3125" stop-color="#435dc3"/><stop offset="0.3750" stop-color="#456dc3"/><stop offset="0.4250" stop-color="#4783c2"/><stop offset="0.4625" stop-color="#4d91ba"/><stop offset="0.4875" stop-color="#5498b0"/><stop offset="0.5000" stop-color="#579baa"/><stop offset="0.5000" stop-color="#6fb188"/><stop offset="0.7500" stop-color="#67ac92"/><stop offset="1.0000" stop-color="#60a59c"/></linearGradient><linearGradient id="d33"><stop offset="0.0000" stop-color="#5038b2"/><stop offset="0.0625" stop-color="#4e3ab5"/><stop offset="0.1250" stop-color="#473ebc"/><stop offset="0.1875" stop-color="#4045c4"/><stop offset="0.2500" stop-color="#4252c4"/><stop offset="0.3125" stop-color="#4361c3"/><stop offset="0.3750" stop-color="#4573c3"/><stop offset="0.4250" stop-color="#488bc2"/><stop offset="0.4625" stop-color="#5195b3"/><stop offset="0.4875" stop-color="#589ca9"/><stop offset="0.5000" stop-color="#5b9fa4"/><stop offset="0.5000" stop-color="#79b37e"/><stop offset="0.7500" stop-color="#6eb189"/><stop offset="1.0000" stop-color="#65aa95"/></linearGradient><linearGradient id="d34"><stop offset="0.0000" stop-color="#5038b2"/><stop offset="0.0625" stop-color="#4b3bb7"/><stop offset="0.1250" stop-color="#4540bf"/><stop offset="0.1875" stop-color="#4149c4"/><stop offset="0.2500" stop-color="#4256c3"/><stop offset="0.3125" stop-color="#4466c3"/><stop offset="0.3750" stop-color="#467ac2"/><stop offset="0.4250" stop-color="#4c8fbc"/><stop offset="0.4625" stop-color="#5599ad"/><stop offset="0.4875" stop-color="#5ca0a3"/><stop offset="0.5000" stop-color="#5fa49e"/><stop offset="0.5000" stop-color="#84b674"/><stop offset="0.7500" stop-color="#77b381"/><stop offset="1.0000" stop-color="#6baf8d"/></linearGradient><linearGradient id="d35"><stop offset="0.0000" stop-color="#4f39b4"/><stop offset="0.0625" stop-color="#493dba"/><stop offset="0.1250" stop-color="#4242c2"/><stop offset="0.1875" stop-color="#414dc4"/><stop offset="0.2500" stop-color="#435bc3"/><stop offset="0.3125" stop-color="#446ac3"/><stop offset="0.3750" stop-color="#4783c2"/><stop offset="0.4250" stop-color="#5093b6"/><stop offset="0.4625" stop-color="#599da7"/><stop offset="0.4875" stop-color="#60a59d"/><stop offset="0.5000" stop-color="#64a898"/><stop offset="0.5000" stop-color="#8eb86b"/><stop offset="0.7500" stop-color="#80b578"/><stop offset="1.0000" stop-color="#73b285"/></linearGradient><linearGradient id="d36"><stop offset="0.0000" stop-color="#4d3ab6"/><stop offset="0.0625" stop-color="#473ebd"/><stop offset="0.1250" stop-color="#4045c4"/><stop offset="0.1875" stop-color="#4251c4"/><stop offset="0.2500" stop-color="#435fc3"/><stop offset="0.3125" stop-color="#456fc3"/><stop offset="0.3750" stop-color="#488bc2"/><stop offset="0.4250" stop-color="#5497b0"/><stop offset="0.4625" stop-color="#5da2a1"/><stop offset="0.4875" stop-color="#64a996"/><stop offset="0.5000" stop-color="#68ad91"/><stop offset="0.5000" stop-color="#98bb61"/><stop offset="0.7500" stop-color="#89b76f"/><stop offset="1.0000" stop-color="#7bb47d"/></linearGradient><linearGradient id="d37"><stop offset="0.0000" stop-color="#4b3cb8"/><stop offset="0.0625" stop-color="#4440bf"/><stop offset="0.1250" stop-color="#4148c4"/><stop offset="0.1875" stop-color="#4255c3"/><stop offset="0.2500" stop-color="#4464c3"/><stop offset="0.3125" stop-color="#4675c3"/><stop offset="0.3750" stop-color="#4c8fbc"/><stop offset="0.4250" stop-color="#589caa"/><stop offset="0.4625" stop-color="#62a69a"/><stop offset="0.4875" stop-color="#68ad90"/><stop offset="0.5000" stop-color="#6db08a"/><stop offset="0.5000" stop-color="#a1bd58"/><stop offset="0.7500" stop-color="#92ba66"/><stop offset="1.0000" stop-color="#83b674"/></linearGradient><linearGradient id="d38"><stop offset="0.0000" stop-color="#483dbb"/><stop offset="0.0625" stop-color="#4142c2"/><stop offset="0.1250" stop-color="#414cc4"/><stop offset="0.1875" stop-color="#4259c3"/><stop offset="0.2500" stop-color="#4468c3"/><stop offset="0.3125" stop-color="#467dc2"/><stop offset="0.3750" stop-color="#4f93b7"/><stop offset="0.4250" stop-color="#5ba0a4"/><stop offset="0.4625" stop-color="#66aa94"/><stop offset="0.4875" stop-color="#6eb189"/><stop offset="0.5000" stop-color="#74b284"/><stop offset="0.5000" stop-color="#aabd52"/><stop offset="0.7500" stop-color="#9cbc5d"/><stop offset="1.0000" stop-color="#8cb86c"/></linearGradient><linearGradient id="d39"><stop offset="0.0000" stop-color="#463fbd"/><stop offset="0.0625" stop-color="#4045c4"/><stop offset="0.1250" stop-color="#4150c4"/><stop offset="0.1875" stop-color="#435ec3"/><stop offset="0.2500" stop-color="#456dc3"/><stop offset="0.3125" stop-color="#4785c2"/><stop offset="0.3750" stop-color="#5397b1"/><stop offset="0.4250" stop-color="#60a49e"/><stop offset="0.4625" stop-color="#6aaf8e"/><stop offset="0.4875" stop-color="#75b283"/><stop offset="0.5000" stop-color="#7bb47d"/><stop offset="0.5000" stop-color="#b1bb4e"/><stop offset="0.7500" stop-color="#a4be55"/><stop offset="1.0000" stop-color="#94ba64"/></linearGradient><linearGradient id="d40"><stop offset="0.0000" stop-color="#4341c0"/><stop offset="0.0625" stop-color="#4148c4"/><stop offset="0.1250" stop-color="#4254c4"/><stop offset="0.1875" stop-color="#4362c3"/><stop offset="0.2500" stop-color="#4572c3"/><stop offset="0.3125" stop-color="#498cc1"/><stop offset="0.3750" stop-color="#579aab"/><stop offset="0.4250" stop-color="#64a897"/><stop offset="0.4625" stop-color="#70b187"/><stop offset="0.4875" stop-color="#7cb47c"/><stop offset="0.5000" stop-color="#82b676"/><stop offset="0.5000" stop-color="#b9ba4b"/><stop offset="0.7500" stop-color="#acbc51"/><stop offset="1.0000" stop-color="#9dbc5c"/></linearGradient><linearGradient id="d41"><stop offset="0.0000" stop-color="#4142c3"/><stop offset="0.0625" stop-color="#414cc4"/><stop offset="0.1250" stop-color="#4258c3"/><stop offset="0.1875" stop-color="#4466c3"/><stop offset="0.2500" stop-color="#4677c3"/><stop offset="0.3125" stop-color="#4c8fbc"/><stop offset="0.3750" stop-color="#5a9ea6"/><stop offset="0.4250" stop-color="#68ac91"/><stop offset="0.4625" stop-color="#77b381"/><stop offset="0.4875" stop-color="#83b675"/><stop offset="0.5000" stop-color="#89b76f"/><stop offset="0.5000" stop-color="#c0b848"/><stop offset="0.7500" stop-color="#b3bb4e"/><stop offset="1.0000" stop-color="#a5be54"/></linearGradient><linearGradient id="d42"><stop offset="0.0000" stop-color="#4045c4"/><stop offset="0.0625" stop-color="#4150c4"/><stop offset="0.1250" stop-color="#435dc3"/><stop offset="0.1875" stop-color="#446bc3"/><stop offset="0.2500" stop-color="#477fc2"/><stop offset="0.3125" stop-color="#5093b6"/><stop offset="0.3750" stop-color="#5ea2a0"/><stop offset="0.4250" stop-color="#6cb08b"/><stop offset="0.4625" stop-color="#7db47b"/><stop offset="0.4875" stop-color="#8ab76e"/><stop offset="0.5000" stop-color="#91b968"/><stop offset="0.5000" stop-color="#c7b745"/><stop offset="0.7500" stop-color="#b9b94b"/><stop offset="1.0000" stop-color="#abbd51"/></linearGradient><linearGradient id="d43"><stop offset="0.0000" stop-color="#4149c4"/><stop offset="0.0625" stop-color="#4254c4"/><stop offset="0.1250" stop-color="#4361c3"/><stop offset="0.1875" stop-color="#456fc3"/><stop offset="0.2500" stop-color="#4786c2"/><stop offset="0.3125" stop-color="#5397b1"/><stop offset="0.3750" stop-color="#62a69a"/><stop offset="0.4250" stop-color="#72b285"/><stop offset="0.4625" stop-color="#83b675"/><stop offset="0.4875" stop-color="#91b967"/><stop offset="0.5000" stop-color="#98bb61"/><stop offset="0.5000" stop-color="#ceb542"/><stop offset="0.7500" stop-color="#c0b848"/><stop offset="1.0000" stop-color="#b2bb4e"/></linearGradient><linearGradient id="d44"><stop offset="0.0000" stop-color="#414cc4"/><stop offset="0.0625" stop-color="#4258c3"/><stop offset="0.1250" stop-color="#4465c3"/><stop offset="0.1875" stop-color="#4574c3"/><stop offset="0.2500" stop-color="#498cc0"/><stop offset="0.3125" stop-color="#569aac"/><stop offset="0.3750" stop-color="#66aa94"/><stop offset="0.4250" stop-color="#78b37f"/><stop offset="0.4625" stop-color="#8bb86e"/><stop offset="0.4875" stop-color="#99bb60"/><stop offset="0.5000" stop-color="#9fbd5a"/><stop offset="0.5000" stop-color="#d6b33e"/><stop offset="0.7500" stop-color="#c6b745"/><stop offset="1.0000" stop-color="#b8ba4c"/></linearGradient><linearGradient id="d45"><stop offset="0.0000" stop-color="#4150c4"/><stop offset="0.0625" stop-color="#435cc3"/><stop offset="0.1250" stop-color="#4469c3"/><stop offset="0.1875" stop-color="#467bc2"/><stop offset="0.2500" stop-color="#4c90bb"/><stop offset="0.3125" stop-color="#599da7"/><stop offset="0.3750" stop-color="#69ae8f"/><stop offset="0.4250" stop-color="#7eb579"/><stop offset="0.4625" stop-color="#92b966"/><stop offset="0.4875" stop-color="#a0bd59"/><stop offset="0.5000" stop-color="#a6be54"/><stop offset="0.5000" stop-color="#dcaf3b"/><stop offset="0.7500" stop-color="#cdb542"/><stop offset="1.0000" stop-color="#beb949"/></linearGradient><linearGradient id="d46"><stop offset="0.0000" stop-color="#4254c4"/><stop offset="0.0625" stop-color="#4360c3"/><stop offset="0.1250" stop-color="#456dc3"/><stop offset="0.1875" stop-color="#4781c2"/><stop offset="0.2500" stop-color="#5093b6"/><stop offset="0.3125" stop-color="#5da1a2"/><stop offset="0.3750" stop-color="#6eb189"/><stop offset="0.4250" stop-color="#84b674"/><stop offset="0.4625" stop-color="#9abb5f"/><stop offset="0.4875" stop-color="#a7be53"/><stop offset="0.5000" stop-color="#acbd51"/><stop offset="0.5000" stop-color="#dea539"/><stop offset="0.7500" stop-color="#d4b43f"/><stop offset="1.0000" stop-color="#c4b746"/></linearGradient><linearGradient id="d47"><stop offset="0.0000" stop-color="#4258c3"/><stop offset="0.0625" stop-color="#4464c3"/><stop offset="0.1250" stop-color="#4572c3"/><stop offset="0.1875" stop-color="#4888c2"/><stop offset="0.2500" stop-color="#5396b1"/><stop offset="0.3125" stop-color="#60a59d"/><stop offset="0.3750" stop-color="#74b284"/><stop offset="0.4250" stop-color="#8ab76e"/><stop offset="0.4625" stop-color="#a1bd57"/><stop offset="0.4875" stop-color="#adbc51"/><stop offset="0.5000" stop-color="#b1bb4f"/><stop offset="0.5000" stop-color="#e09c37"/><stop offset="0.7500" stop-color="#dbb13c"/><stop offset="1.0000" stop-color="#cab644"/></linearGradient><linearGradient id="d48"><stop offset="0.0000" stop-color="#435cc3"/><stop offset="0.0625" stop-color="#4468c3"/><stop offset="0.1250" stop-color="#4676c3"/><stop offset="0.1875" stop-color="#4a8dbf"/><stop offset="0.2500" stop-color="#569aad"/><stop offset="0.3125" stop-color="#64a897"/><stop offset="0.3750" stop-color="#79b37e"/><stop offset="0.4250" stop-color="#91b967"/><stop offset="0.4625" stop-color="#a8bd53"/><stop offset="0.4875" stop-color="#b2bb4e"/><stop offset="0.5000" stop-color="#b7ba4c"/><stop offset="0.5000" stop-color="#e29235"/><stop offset="0.7500" stop-color="#dda93a"/><stop offset="1.0000" stop-color="#d0b541"/></linearGradient><linearGradient id="d49"><stop offset="0.0000" stop-color="#435fc3"/><stop offset="0.0625" stop-color="#456cc3"/><stop offset="0.1250" stop-color="#467dc2"/><stop offset="0.1875" stop-color="#4d90ba"/><stop offset="0.2500" stop-color="#599da8"/><stop offset="0.3125" stop-color="#67ac92"/><stop offset="0.3750" stop-color="#7fb579"/><stop offset="0.4250" stop-color="#99bb5f"/><stop offset="0.4625" stop-color="#aebc50"/><stop offset="0.4875" stop-color="#b8ba4c"/><stop offset="0.5000" stop-color="#bcb94a"/><stop offset="0.5000" stop-color="#e58833"/><stop offset="0.7500" stop-color="#dfa038"/><stop offset="1.0000" stop-color="#d6b33e"/></linearGradient><linearGradient id="d50"><stop offset="0.0000" stop-color="#4463c3"/><stop offset="0.0625" stop-color="#4570c3"/><stop offset="0.1250" stop-color="#4784c2"/><stop offset="0.1875" stop-color="#5093b6"/><stop offset="0.2500" stop-color="#5ba0a4"/><stop offset="0.3125" stop-color="#6bb08d"/><stop offset="0.3750" stop-color="#84b674"/><stop offset="0.4250" stop-color="#a1bd58"/><stop offset="0.4625" stop-color="#b4bb4e"/><stop offset="0.4875" stop-color="#bdb949"/><stop offset="0.5000" stop-color="#c1b848"/><stop offset="0.5000" stop-color="#e87b30"/><stop offset="0.7500" stop-color="#e19736"/><stop offset="1.0000" stop-color="#dcaf3b"/></linearGradient><linearGradient id="d51"><stop offset="0.0000" stop-color="#4467c3"/><stop offset="0.0625" stop-color="#4574c3"/><stop offset="0.1250" stop-color="#488ac2"/><stop offset="0.1875" stop-color="#5396b1"/><stop offset="0.2500" stop-color="#5fa39f"/><stop offset="0.3125" stop-color="#70b188"/><stop offset="0.3750" stop-color="#88b770"/><stop offset="0.4250" stop-color="#a8bd53"/><stop offset="0.4625" stop-color="#b9ba4b"/><stop offset="0.4875" stop-color="#c2b747"/><stop offset="0.5000" stop-color="#c6b745"/><stop offset="0.5000" stop-color="#e5662d"/><stop offset="0.7500" stop-color="#e38e34"/><stop offset="1.0000" stop-color="#dda73a"/></linearGradient><linearGradient id="d52"><stop offset="0.0000" stop-color="#446bc3"/><stop offset="0.0625" stop-color="#4679c2"/><stop offset="0.1250" stop-color="#4a8ebe"/><stop offset="0.1875" stop-color="#5599ad"/><stop offset="0.2500" stop-color="#62a79a"/><stop offset="0.3125" stop-color="#75b283"/><stop offset="0.3750" stop-color="#8eb86a"/><stop offset="0.4250" stop-color="#aebc50"/><stop offset="0.4625" stop-color="#beb849"/><stop offset="0.4875" stop-color="#c8b645"/><stop offset="0.5000" stop-color="#cbb643"/><stop offset="0.5000" stop-color="#e25129"/><stop offset="0.7500" stop-color="#e68432"/><stop offset="1.0000" stop-color="#df9f38"/></linearGradient><linearGradient id="d53"><stop offset="0.0000" stop-color="#456ec3"/><stop offset="0.0625" stop-color="#4780c2"/><stop offset="0.1250" stop-color="#4d91ba"/><stop offset="0.1875" stop-color="#589ca9"/><stop offset="0.2500" stop-color="#65aa95"/><stop offset="0.3125" stop-color="#79b37e"/><stop offset="0.3750" stop-color="#96ba62"/><stop offset="0.4250" stop-color="#b3bb4e"/><stop offset="0.4625" stop-color="#c4b746"/><stop offset="0.4875" stop-color="#cdb542"/><stop offset="0.5000" stop-color="#d1b441"/><stop offset="0.5000" stop-color="#df3e26"/><stop offset="0.7500" stop-color="#e8772f"/><stop offset="1.0000" stop-color="#e19736"/></linearGradient><linearGradient id="d54"><stop offset="0.0000" stop-color="#4572c3"/><stop offset="0.0625" stop-color="#4786c2"/><stop offset="0.1250" stop-color="#5093b6"/><stop offset="0.1875" stop-color="#5b9fa5"/><stop offset="0.2500" stop-color="#68ad90"/><stop offset="0.3125" stop-color="#7eb57a"/><stop offset="0.3750" stop-color="#9ebc5b"/><stop offset="0.4250" stop-color="#b8ba4b"/><stop offset="0.4625" stop-color="#cab644"/><stop offset="0.4875" stop-color="#d3b440"/><stop offset="0.5000" stop-color="#d7b33e"/><stop offset="0.5000" stop-color="#dd2e23"/><stop offset="0.7500" stop-color="#e5632c"/><stop offset="1.0000" stop-color="#e38f35"/></linearGradient><linearGradient id="d55"><stop offset="0.0000" stop-color="#4675c3"/><stop offset="0.0625" stop-color="#488bc2"/><stop offset="0.1250" stop-color="#5296b2"/><stop offset="0.1875" stop-color="#5da1a1"/><stop offset="0.2500" stop-color="#6bb08c"/><stop offset="0.3125" stop-color="#82b576"/><stop offset="0.3750" stop-color="#a4be55"/><stop offset="0.4250" stop-color="#bdb949"/><stop offset="0.4625" stop-color="#cfb542"/><stop offset="0.4875" stop-color="#d8b33d"/><stop offset="0.5000" stop-color="#dbb13c"/><stop offset="0.5000" stop-color="#db2121"/><stop offset="0.7500" stop-color="#e25229"/><stop offset="1.0000" stop-color="#e58833"/></linearGradient></defs>
<g clip-path="url(#dclip)"><rect x="174.8" y="221" width="110.1" height="2" fill="url(#d0)"/><rect x="174.8" y="223" width="110.1" height="2" fill="url(#d1)"/><rect x="174.8" y="225" width="110.1" height="2" fill="url(#d2)"/><rect x="174.8" y="227" width="110.1" height="2" fill="url(#d3)"/><rect x="174.8" y="229" width="110.1" height="2" fill="url(#d4)"/><rect x="174.8" y="231" width="110.1" height="2" fill="url(#d5)"/><rect x="174.8" y="233" width="110.1" height="2" fill="url(#d6)"/><rect x="174.8" y="235" width="110.1" height="2" fill="url(#d7)"/><rect x="174.8" y="237" width="110.1" height="2" fill="url(#d8)"/><rect x="174.8" y="239" width="110.1" height="2" fill="url(#d9)"/><rect x="174.8" y="241" width="110.1" height="2" fill="url(#d10)"/><rect x="174.8" y="243" width="110.1" height="2" fill="url(#d11)"/><rect x="174.8" y="245" width="110.1" height="2" fill="url(#d12)"/><rect x="174.8" y="247" width="110.1" height="2" fill="url(#d13)"/><rect x="174.8" y="249" width="110.1" height="2" fill="url(#d14)"/><rect x="174.8" y="251" width="110.1" height="2" fill="url(#d15)"/><rect x="174.8" y="253" width="110.1" height="2" fill="url(#d16)"/><rect x="174.8" y="255" width="110.1" height="2" fill="url(#d17)"/><rect x="174.8" y="257" width="110.1" height="2" fill="url(#d18)"/><rect x="174.8" y="259" width="110.1" height="2" fill="url(#d19)"/><rect x="174.8" y="261" width="110.1" height="2" fill="url(#d20)"/><rect x="174.8" y="263" width="110.1" height="2" fill="url(#d21)"/><rect x="174.8" y="265" width="110.1" height="2" fill="url(#d22)"/><rect x="174.8" y="267" width="110.1" height="2" fill="url(#d23)"/><rect x="174.8" y="269" width="110.1" height="2" fill="url(#d24)"/><rect x="174.8" y="271" width="110.1" height="2" fill="url(#d25)"/><rect x="174.8" y="273" width="110.1" height="2" fill="url(#d26)"/><rect x="174.8" y="275" width="110.1" height="2" fill="url(#d27)"/><rect x="174.8" y="277" width="110.1" height="2" fill="url(#d28)"/><rect x="174.8" y="279" width="110.1" height="2" fill="url(#d29)"/><rect x="174.8" y="281" width="110.1" height="2" fill="url(#d30)"/><rect x="174.8" y="283" width="110.1" height="2" fill="url(#d31)"/><rect x="174.8" y="285" width="110.1" height="2" fill="url(#d32)"/><rect x="174.8" y="287" width="110.1" height="2" fill="url(#d33)"/><rect x="174.8" y="289" width="110.1" height="2" fill="url(#d34)"/><rect x="174.8" y="291" width="110.1" height="2" fill="url(#d35)"/><rect x="174.8" y="293" width="110.1" height="2" fill="url(#d36)"/><rect x="174.8" y="295" width="110.1" height="2" fill="url(#d37)"/><rect x="174.8" y="297" width="110.1" height="2" fill="url(#d38)"/><rect x="174.8" y="299" width="110.1" height="2" fill="url(#d39)"/><rect x="174.8" y="301" width="110.1" height="2" fill="url(#d40)"/><rect x="174.8" y="303" width="110.1" height="2" fill="url(#d41)"/><rect x="174.8" y="305" width="110.1" height="2" fill="url(#d42)"/><rect x="174.8" y="307" width="110.1" height="2" fill="url(#d43)"/><rect x="174.8" y="309" width="110.1" height="2" fill="url(#d44)"/><rect x="174.8" y="311" width="110.1" height="2" fill="url(#d45)"/><rect x="174.8" y="313" width="110.1" height="2" fill="url(#d46)"/><rect x="174.8" y="315" width="110.1" height="2" fill="url(#d47)"/><rect x="174.8" y="317" width="110.1" height="2" fill="url(#d48)"/><rect x="174.8" y="319" width="110.1" height="2" fill="url(#d49)"/><rect x="174.8" y="321" width="110.1" height="2" fill="url(#d50)"/><rect x="174.8" y="323" width="110.1" height="2" fill="url(#d51)"/><rect x="174.8" y="325" width="110.1" height="2" fill="url(#d52)"/><rect x="174.8" y="327" width="110.1" height="2" fill="url(#d53)"/><rect x="174.8" y="329" width="110.1" height="2" fill="url(#d54)"/><rect x="174.8" y="331" width="110.1" height="2" fill="url(#d55)"/></g>
<rect x="172.3" y="219.0" width="114.8" height="114.9" fill="none" stroke="#aaa" stroke-width="0.6"/>
<path d="M174.8 333.9v-2.0M174.8 219.0v2.0" stroke="#777" stroke-width="0.5"/>
<path d="M172.3 331.7h2.0M287.1 331.7h-2.0" stroke="#777" stroke-width="0.5"/>
<path d="M188.6 333.9v-1.2M188.6 219.0v1.2" stroke="#777" stroke-width="0.5"/>
<path d="M172.3 318.0h1.2M287.1 318.0h-1.2" stroke="#777" stroke-width="0.5"/>
<path d="M202.3 333.9v-2.0M202.3 219.0v2.0" stroke="#777" stroke-width="0.5"/>
<path d="M172.3 304.3h2.0M287.1 304.3h-2.0" stroke="#777" stroke-width="0.5"/>
<path d="M216.1 333.9v-1.2M216.1 219.0v1.2" stroke="#777" stroke-width="0.5"/>
<path d="M172.3 290.6h1.2M287.1 290.6h-1.2" stroke="#777" stroke-width="0.5"/>
<path d="M229.8 333.9v-2.0M229.8 219.0v2.0" stroke="#777" stroke-width="0.5"/>
<path d="M172.3 276.9h2.0M287.1 276.9h-2.0" stroke="#777" stroke-width="0.5"/>
<path d="M243.6 333.9v-1.2M243.6 219.0v1.2" stroke="#777" stroke-width="0.5"/>
<path d="M172.3 263.2h1.2M287.1 263.2h-1.2" stroke="#777" stroke-width="0.5"/>
<path d="M257.4 333.9v-2.0M257.4 219.0v2.0" stroke="#777" stroke-width="0.5"/>
<path d="M172.3 249.5h2.0M287.1 249.5h-2.0" stroke="#777" stroke-width="0.5"/>
<path d="M271.1 333.9v-1.2M271.1 219.0v1.2" stroke="#777" stroke-width="0.5"/>
<path d="M172.3 235.8h1.2M287.1 235.8h-1.2" stroke="#777" stroke-width="0.5"/>
<path d="M284.9 333.9v-2.0M284.9 219.0v2.0" stroke="#777" stroke-width="0.5"/>
<path d="M172.3 222.1h2.0M287.1 222.1h-2.0" stroke="#777" stroke-width="0.5"/>
<text x="174.4" y="344.7" font-size="10.2" font-weight="bold" text-anchor="middle" fill="#000" >−2</text>
<text x="171.3" y="335.3" font-size="10.2" font-weight="bold" text-anchor="end" fill="#000" >−2</text>
<text x="201.9" y="344.7" font-size="10.2" font-weight="bold" text-anchor="middle" fill="#000" >−1</text>
<text x="171.3" y="307.9" font-size="10.2" font-weight="bold" text-anchor="end" fill="#000" >−1</text>
<text x="229.8" y="344.7" font-size="10.2" font-weight="bold" text-anchor="middle" fill="#000" >0</text>
<text x="171.3" y="280.5" font-size="10.2" font-weight="bold" text-anchor="end" fill="#000" >0</text>
<text x="257.4" y="344.7" font-size="10.2" font-weight="bold" text-anchor="middle" fill="#000" >1</text>
<text x="171.3" y="253.1" font-size="10.2" font-weight="bold" text-anchor="end" fill="#000" >1</text>
<text x="284.9" y="344.7" font-size="10.2" font-weight="bold" text-anchor="middle" fill="#000" >2</text>
<text x="171.3" y="225.7" font-size="10.2" font-weight="bold" text-anchor="end" fill="#000" >2</text>
<text x="230.0" y="361.8" font-size="13.4" font-weight="bold" text-anchor="middle" fill="#000" >x</text>
<text transform="translate(154.5,276.8) rotate(-90)" font-size="14.5" font-weight="bold" text-anchor="middle">t</text>
<rect x="294.1" y="246.9" width="5.4" height="81.7" fill="url(#cb)"/>
<text transform="translate(302.6,260.2) scale(1.13,1)" font-size="8.7" font-weight="bold">1.50</text>
<text transform="translate(302.6,275.1) scale(1.13,1)" font-size="8.7" font-weight="bold">1.25</text>
<text transform="translate(302.6,290.1) scale(1.13,1)" font-size="8.7" font-weight="bold">1.00</text>
<text transform="translate(302.6,304.9) scale(1.13,1)" font-size="8.7" font-weight="bold">0.75</text>
<text transform="translate(302.6,319.9) scale(1.13,1)" font-size="8.7" font-weight="bold">0.50</text></g>
<g id="ppolar"><circle cx="449.7" cy="282.4" r="19.6" fill="none" stroke="#bbb" stroke-width="0.5"/>
<circle cx="449.7" cy="282.4" r="39.2" fill="none" stroke="#bbb" stroke-width="0.5"/>
<circle cx="449.7" cy="282.4" r="58.8" fill="none" stroke="#bbb" stroke-width="0.5"/>
<circle cx="449.7" cy="282.4" r="78.4" fill="none" stroke="#bbb" stroke-width="0.5"/>
<path d="M485.70 282.40 L485.66 284.27 L485.52 286.13 L485.29 287.99 L484.96 289.83 L484.54 291.65 L484.03 293.45" fill="none" stroke="#dc2722" stroke-width="0.9" stroke-linecap="round"/>
<path d="M484.03 293.45 L483.42 295.23 L482.73 296.97 L481.95 298.67 L481.08 300.34 L480.13 301.96 L479.10 303.52" fill="none" stroke="#dd3224" stroke-width="0.9" stroke-linecap="round"/>
<path d="M479.10 303.52 L477.99 305.04 L476.80 306.50 L475.53 307.89 L474.20 309.22 L472.79 310.49 L471.32 311.68" fill="none" stroke="#df3d26" stroke-width="0.9" stroke-linecap="round"/>
<path d="M471.32 311.68 L469.80 312.79 L468.21 313.82 L466.57 314.78 L464.89 315.65 L463.16 316.43 L461.39 317.12" fill="none" stroke="#e14928" stroke-width="0.9" stroke-linecap="round"/>
<path d="M461.39 317.12 L459.58 317.72 L457.74 318.22 L455.88 318.64 L454.00 318.95 L452.10 319.17 L450.18 319.29" fill="none" stroke="#e2542a" stroke-width="0.9" stroke-linecap="round"/>
<path d="M450.18 319.29 L448.27 319.31 L446.35 319.23 L444.43 319.07 L442.53 318.80 L440.63 318.45 L438.75 317.99" fill="none" stroke="#e45f2b" stroke-width="0.9" stroke-linecap="round"/>
<path d="M438.75 317.99 L436.89 317.45 L435.06 316.81 L433.26 316.08 L431.49 315.25 L429.77 314.34 L428.08 313.33" fill="none" stroke="#e66b2d" stroke-width="0.9" stroke-linecap="round"/>
<path d="M428.08 313.33 L426.45 312.24 L424.87 311.07 L423.35 309.81 L421.90 308.47 L420.51 307.05 L419.19 305.56" fill="none" stroke="#e7762f" stroke-width="0.9" stroke-linecap="round"/>
<path d="M419.19 305.56 L417.95 304.00 L416.79 302.38 L415.71 300.69 L414.72 298.94 L413.83 297.13 L413.02 295.28" fill="none" stroke="#e77f31" stroke-width="0.9" stroke-linecap="round"/>
<path d="M413.02 295.28 L412.32 293.39 L411.71 291.45 L411.21 289.48 L410.82 287.49 L410.53 285.47 L410.35 283.43" fill="none" stroke="#e58632" stroke-width="0.9" stroke-linecap="round"/>
<path d="M410.35 283.43 L410.28 281.39 L410.32 279.34 L410.46 277.29 L410.72 275.25 L411.08 273.22 L411.55 271.21" fill="none" stroke="#e48d34" stroke-width="0.9" stroke-linecap="round"/>
<path d="M411.55 271.21 L412.13 269.23 L412.81 267.27 L413.59 265.35 L414.47 263.48 L415.45 261.64 L416.53 259.86" fill="none" stroke="#e29436" stroke-width="0.9" stroke-linecap="round"/>
<path d="M416.53 259.86 L417.70 258.14 L418.96 256.47 L420.31 254.88 L421.74 253.35 L423.24 251.89 L424.83 250.52" fill="none" stroke="#e09b37" stroke-width="0.9" stroke-linecap="round"/>
<path d="M424.83 250.52 L426.49 249.23 L428.21 248.02 L430.00 246.90 L431.84 245.87 L433.74 244.94 L435.68 244.11" fill="none" stroke="#dfa239" stroke-width="0.9" stroke-linecap="round"/>
<path d="M435.68 244.11 L437.67 243.38 L439.70 242.75 L441.76 242.22 L443.84 241.80 L445.95 241.49 L448.08 241.28" fill="none" stroke="#dda93a" stroke-width="0.9" stroke-linecap="round"/>
<path d="M448.08 241.28 L450.22 241.19 L452.36 241.20 L454.50 241.33 L456.64 241.56 L458.76 241.91 L460.87 242.37" fill="none" stroke="#dbb03c" stroke-width="0.9" stroke-linecap="round"/>
<path d="M460.87 242.37 L462.96 242.93 L465.01 243.61 L467.04 244.39 L469.02 245.27 L470.96 246.26 L472.84 247.35" fill="none" stroke="#d6b33e" stroke-width="0.9" stroke-linecap="round"/>
<path d="M472.84 247.35 L474.68 248.54 L476.45 249.82 L478.16 251.20 L479.79 252.66 L481.35 254.21 L482.84 255.84" fill="none" stroke="#cfb541" stroke-width="0.9" stroke-linecap="round"/>
<path d="M482.84 255.84 L484.24 257.55 L485.55 259.33 L486.77 261.18 L487.89 263.10 L488.92 265.07 L489.85 267.10" fill="none" stroke="#c8b644" stroke-width="0.9" stroke-linecap="round"/>
<path d="M489.85 267.10 L490.67 269.18 L491.39 271.30 L491.99 273.46 L492.49 275.65 L492.87 277.87 L493.14 280.11" fill="none" stroke="#c1b848" stroke-width="0.9" stroke-linecap="round"/>
<path d="M493.14 280.11 L493.30 282.37 L493.34 284.64 L493.26 286.91 L493.07 289.18 L492.76 291.45 L492.34 293.70" fill="none" stroke="#bab94b" stroke-width="0.9" stroke-linecap="round"/>
<path d="M492.34 293.70 L491.80 295.93 L491.14 298.13 L490.37 300.31 L489.49 302.45 L488.50 304.54 L487.40 306.59" fill="none" stroke="#b3bb4e" stroke-width="0.9" stroke-linecap="round"/>
<path d="M487.40 306.59 L486.19 308.59 L484.88 310.52 L483.46 312.39 L481.95 314.19 L480.34 315.91 L478.64 317.55" fill="none" stroke="#adbc51" stroke-width="0.9" stroke-linecap="round"/>
<path d="M478.64 317.55 L476.85 319.11 L474.98 320.57 L473.03 321.94 L471.00 323.21 L468.91 324.38 L466.75 325.44" fill="none" stroke="#a6be54" stroke-width="0.9" stroke-linecap="round"/>
<path d="M466.75 325.44 L464.53 326.38 L462.27 327.22 L459.95 327.93 L457.60 328.52 L455.21 329.00 L452.79 329.34" fill="none" stroke="#9ebc5a" stroke-width="0.9" stroke-linecap="round"/>
<path d="M452.79 329.34 L450.35 329.56 L447.90 329.66 L445.43 329.62 L442.97 329.46 L440.52 329.17 L438.07 328.75" fill="none" stroke="#97bb62" stroke-width="0.9" stroke-linecap="round"/>
<path d="M438.07 328.75 L435.65 328.20 L433.24 327.52 L430.88 326.72 L428.55 325.80 L426.26 324.75 L424.03 323.58" fill="none" stroke="#8fb969" stroke-width="0.9" stroke-linecap="round"/>
<path d="M424.03 323.58 L421.86 322.30 L419.75 320.90 L417.71 319.39 L415.74 317.77 L413.86 316.04 L412.07 314.22" fill="none" stroke="#88b770" stroke-width="0.9" stroke-linecap="round"/>
<path d="M412.07 314.22 L410.36 312.30 L408.76 310.29 L407.26 308.19 L405.87 306.02 L404.59 303.76 L403.42 301.44" fill="none" stroke="#81b577" stroke-width="0.9" stroke-linecap="round"/>
<path d="M403.42 301.44 L402.37 299.06 L401.45 296.61 L400.66 294.12 L399.99 291.58 L399.45 289.01 L399.05 286.40" fill="none" stroke="#79b37e" stroke-width="0.9" stroke-linecap="round"/>
<path d="M399.05 286.40 L398.78 283.77 L398.65 281.12 L398.66 278.47 L398.81 275.81 L399.09 273.15 L399.51 270.51" fill="none" stroke="#72b286" stroke-width="0.9" stroke-linecap="round"/>
<path d="M399.51 270.51 L400.08 267.88 L400.77 265.28 L401.61 262.72 L402.58 260.19 L403.68 257.71 L404.91 255.29" fill="none" stroke="#6bb08d" stroke-width="0.9" stroke-linecap="round"/>
<path d="M404.91 255.29 L406.27 252.93 L407.75 250.64 L409.36 248.42 L411.08 246.28 L412.91 244.23 L414.86 242.28" fill="none" stroke="#66ab94" stroke-width="0.9" stroke-linecap="round"/>
<path d="M414.86 242.28 L416.91 240.42 L419.06 238.67 L421.30 237.03 L423.63 235.50 L426.04 234.09 L428.53 232.81" fill="none" stroke="#62a69a" stroke-width="0.9" stroke-linecap="round"/>
<path d="M428.53 232.81 L431.09 231.66 L433.71 230.64 L436.39 229.76 L439.11 229.01 L441.88 228.41 L444.68 227.95" fill="none" stroke="#5da1a1" stroke-width="0.9" stroke-linecap="round"/>
<path d="M444.68 227.95 L447.51 227.64 L450.35 227.48 L453.21 227.46 L456.07 227.60 L458.93 227.89 L461.77 228.33" fill="none" stroke="#599da8" stroke-width="0.9" stroke-linecap="round"/>
<path d="M461.77 228.33 L464.59 228.92 L467.38 229.65 L470.13 230.54 L472.84 231.57 L475.50 232.74 L478.10 234.05" fill="none" stroke="#5498af" stroke-width="0.9" stroke-linecap="round"/>
<path d="M478.10 234.05 L480.63 235.50 L483.09 237.08 L485.46 238.79 L487.75 240.62 L489.95 242.58 L492.04 244.65" fill="none" stroke="#5093b6" stroke-width="0.9" stroke-linecap="round"/>
<path d="M492.04 244.65 L494.03 246.82 L495.91 249.11 L497.67 251.49 L499.32 253.96 L500.83 256.52 L502.22 259.16" fill="none" stroke="#4b8fbd" stroke-width="0.9" stroke-linecap="round"/>
<path d="M502.22 259.16 L503.47 261.87 L504.58 264.65 L505.55 267.49 L506.38 270.38 L507.06 273.32 L507.59 276.29" fill="none" stroke="#4889c2" stroke-width="0.9" stroke-linecap="round"/>
<path d="M507.59 276.29 L507.97 279.30 L508.20 282.33 L508.27 285.37 L508.20 288.42 L507.97 291.48 L507.60 294.52" fill="none" stroke="#4780c2" stroke-width="0.9" stroke-linecap="round"/>
<path d="M507.60 294.52 L507.06 297.56 L506.38 300.57 L505.54 303.56 L504.55 306.51 L503.40 309.41 L502.11 312.27" fill="none" stroke="#4677c3" stroke-width="0.9" stroke-linecap="round"/>
<path d="M502.11 312.27 L500.66 315.06 L499.07 317.78 L497.34 320.43 L495.46 323.00 L493.45 325.47 L491.30 327.84" fill="none" stroke="#456dc3" stroke-width="0.9" stroke-linecap="round"/>
<path d="M491.30 327.84 L489.02 330.10 L486.62 332.25 L484.10 334.28 L481.47 336.18 L478.74 337.94 L475.90 339.56" fill="none" stroke="#4464c3" stroke-width="0.9" stroke-linecap="round"/>
<path d="M475.90 339.56 L472.97 341.04 L469.96 342.35 L466.88 343.51 L463.72 344.50 L460.51 345.33 L457.25 345.98" fill="none" stroke="#435bc3" stroke-width="0.9" stroke-linecap="round"/>
<path d="M457.25 345.98 L453.95 346.45 L450.63 346.75 L447.28 346.87 L443.92 346.80 L440.57 346.56 L437.22 346.14" fill="none" stroke="#4252c4" stroke-width="0.9" stroke-linecap="round"/>
<path d="M437.22 346.14 L433.90 345.55 L430.60 344.77 L427.34 343.82 L424.13 342.70 L420.98 341.41 L417.90 339.96" fill="none" stroke="#4149c4" stroke-width="0.9" stroke-linecap="round"/>
<path d="M417.90 339.96 L414.88 338.33 L411.96 336.55 L409.12 334.62 L406.39 332.54 L403.76 330.31 L401.25 327.94" fill="none" stroke="#4341c1" stroke-width="0.9" stroke-linecap="round"/>
<path d="M401.25 327.94 L398.86 325.44 L396.60 322.82 L394.47 320.08 L392.49 317.22 L390.65 314.26 L388.97 311.21" fill="none" stroke="#4a3cb9" stroke-width="0.9" stroke-linecap="round"/>
<path d="M388.97 311.21 L387.44 308.06 L386.08 304.84 L384.88 301.54 L383.85 298.18 L383.00 294.76 L382.32 291.30" fill="none" stroke="#5137b1" stroke-width="0.9" stroke-linecap="round"/>
<path d="M382.32 291.30 L381.82 287.80 L381.50 284.28 L381.36 280.73 L381.40 277.18 L381.63 273.62 L382.04 270.08" fill="none" stroke="#5832a9" stroke-width="0.9" stroke-linecap="round"/>
<path d="M382.04 270.08 L382.64 266.55 L383.42 263.05 L384.38 259.59 L385.53 256.18 L386.85 252.83 L388.34 249.54" fill="none" stroke="#5f2da2" stroke-width="0.9" stroke-linecap="round"/>
<path d="M388.34 249.54 L390.01 246.33 L391.85 243.20 L393.85 240.17 L396.01 237.23 L398.32 234.41 L400.78 231.71" fill="none" stroke="#66289a" stroke-width="0.9" stroke-linecap="round"/>
<path d="M400.78 231.71 L403.38 229.13 L406.12 226.68 L408.99 224.38 L411.98 222.22 L415.09 220.22 L418.30 218.38" fill="none" stroke="#6d2392" stroke-width="0.9" stroke-linecap="round"/>
<path d="M418.30 218.38 L421.60 216.70 L425.00 215.19 L428.48 213.86 L432.03 212.71 L435.64 211.75 L439.30 210.96" fill="none" stroke="#741e8a" stroke-width="0.9" stroke-linecap="round"/>
<path d="M367.0 282.4H531.1M449.7 200.8V364.0" stroke="#666" stroke-width="0.9"/>
<path d="M370.7 282.4v-1.3M449.7 361.4h1.3" stroke="#555" stroke-width="0.5"/>
<path d="M373.2 282.4v-1.3M449.7 358.9h1.3" stroke="#555" stroke-width="0.5"/>
<path d="M375.7 282.4v-2.3M449.7 356.4h2.3" stroke="#555" stroke-width="0.5"/>
<path d="M378.1 282.4v-1.3M449.7 354.0h1.3" stroke="#555" stroke-width="0.5"/>
<path d="M380.6 282.4v-1.3M449.7 351.5h1.3" stroke="#555" stroke-width="0.5"/>
<path d="M383.1 282.4v-1.3M449.7 349.0h1.3" stroke="#555" stroke-width="0.5"/>
<path d="M385.5 282.4v-1.3M449.7 346.6h1.3" stroke="#555" stroke-width="0.5"/>
<path d="M388.0 282.4v-1.3M449.7 344.1h1.3" stroke="#555" stroke-width="0.5"/>
<path d="M390.5 282.4v-1.3M449.7 341.6h1.3" stroke="#555" stroke-width="0.5"/>
<path d="M392.9 282.4v-1.3M449.7 339.2h1.3" stroke="#555" stroke-width="0.5"/>
<path d="M395.4 282.4v-1.3M449.7 336.7h1.3" stroke="#555" stroke-width="0.5"/>
<path d="M397.9 282.4v-1.3M449.7 334.2h1.3" stroke="#555" stroke-width="0.5"/>
<path d="M400.3 282.4v-2.3M449.7 331.8h2.3" stroke="#555" stroke-width="0.5"/>
<path d="M402.8 282.4v-1.3M449.7 329.3h1.3" stroke="#555" stroke-width="0.5"/>
<path d="M405.3 282.4v-1.3M449.7 326.8h1.3" stroke="#555" stroke-width="0.5"/>
<path d="M407.7 282.4v-1.3M449.7 324.4h1.3" stroke="#555" stroke-width="0.5"/>
<path d="M410.2 282.4v-1.3M449.7 321.9h1.3" stroke="#555" stroke-width="0.5"/>
<path d="M412.7 282.4v-1.3M449.7 319.4h1.3" stroke="#555" stroke-width="0.5"/>
<path d="M415.1 282.4v-1.3M449.7 317.0h1.3" stroke="#555" stroke-width="0.5"/>
<path d="M417.6 282.4v-1.3M449.7 314.5h1.3" stroke="#555" stroke-width="0.5"/>
<path d="M420.1 282.4v-1.3M449.7 312.0h1.3" stroke="#555" stroke-width="0.5"/>
<path d="M422.6 282.4v-1.3M449.7 309.5h1.3" stroke="#555" stroke-width="0.5"/>
<path d="M425.0 282.4v-2.3M449.7 307.1h2.3" stroke="#555" stroke-width="0.5"/>
<path d="M427.5 282.4v-1.3M449.7 304.6h1.3" stroke="#555" stroke-width="0.5"/>
<path d="M430.0 282.4v-1.3M449.7 302.1h1.3" stroke="#555" stroke-width="0.5"/>
<path d="M432.4 282.4v-1.3M449.7 299.7h1.3" stroke="#555" stroke-width="0.5"/>
<path d="M434.9 282.4v-1.3M449.7 297.2h1.3" stroke="#555" stroke-width="0.5"/>
<path d="M437.4 282.4v-1.3M449.7 294.7h1.3" stroke="#555" stroke-width="0.5"/>
<path d="M439.8 282.4v-1.3M449.7 292.3h1.3" stroke="#555" stroke-width="0.5"/>
<path d="M442.3 282.4v-1.3M449.7 289.8h1.3" stroke="#555" stroke-width="0.5"/>
<path d="M444.8 282.4v-1.3M449.7 287.3h1.3" stroke="#555" stroke-width="0.5"/>
<path d="M447.2 282.4v-1.3M449.7 284.9h1.3" stroke="#555" stroke-width="0.5"/>
<path d="M452.2 282.4v-1.3M449.7 279.9h1.3" stroke="#555" stroke-width="0.5"/>
<path d="M454.6 282.4v-1.3M449.7 277.5h1.3" stroke="#555" stroke-width="0.5"/>
<path d="M457.1 282.4v-1.3M449.7 275.0h1.3" stroke="#555" stroke-width="0.5"/>
<path d="M459.6 282.4v-1.3M449.7 272.5h1.3" stroke="#555" stroke-width="0.5"/>
<path d="M462.0 282.4v-1.3M449.7 270.1h1.3" stroke="#555" stroke-width="0.5"/>
<path d="M464.5 282.4v-1.3M449.7 267.6h1.3" stroke="#555" stroke-width="0.5"/>
<path d="M467.0 282.4v-1.3M449.7 265.1h1.3" stroke="#555" stroke-width="0.5"/>
<path d="M469.4 282.4v-1.3M449.7 262.7h1.3" stroke="#555" stroke-width="0.5"/>
<path d="M471.9 282.4v-1.3M449.7 260.2h1.3" stroke="#555" stroke-width="0.5"/>
<path d="M474.4 282.4v-2.3M449.7 257.7h2.3" stroke="#555" stroke-width="0.5"/>
<path d="M476.8 282.4v-1.3M449.7 255.3h1.3" stroke="#555" stroke-width="0.5"/>
<path d="M479.3 282.4v-1.3M449.7 252.8h1.3" stroke="#555" stroke-width="0.5"/>
<path d="M481.8 282.4v-1.3M449.7 250.3h1.3" stroke="#555" stroke-width="0.5"/>
<path d="M484.3 282.4v-1.3M449.7 247.8h1.3" stroke="#555" stroke-width="0.5"/>
<path d="M486.7 282.4v-1.3M449.7 245.4h1.3" stroke="#555" stroke-width="0.5"/>
<path d="M489.2 282.4v-1.3M449.7 242.9h1.3" stroke="#555" stroke-width="0.5"/>
<path d="M491.7 282.4v-1.3M449.7 240.4h1.3" stroke="#555" stroke-width="0.5"/>
<path d="M494.1 282.4v-1.3M449.7 238.0h1.3" stroke="#555" stroke-width="0.5"/>
<path d="M496.6 282.4v-1.3M449.7 235.5h1.3" stroke="#555" stroke-width="0.5"/>
<path d="M499.1 282.4v-2.3M449.7 233.0h2.3" stroke="#555" stroke-width="0.5"/>
<path d="M501.5 282.4v-1.3M449.7 230.6h1.3" stroke="#555" stroke-width="0.5"/>
<path d="M504.0 282.4v-1.3M449.7 228.1h1.3" stroke="#555" stroke-width="0.5"/>
<path d="M506.5 282.4v-1.3M449.7 225.6h1.3" stroke="#555" stroke-width="0.5"/>
<path d="M508.9 282.4v-1.3M449.7 223.2h1.3" stroke="#555" stroke-width="0.5"/>
<path d="M511.4 282.4v-1.3M449.7 220.7h1.3" stroke="#555" stroke-width="0.5"/>
<path d="M513.9 282.4v-1.3M449.7 218.2h1.3" stroke="#555" stroke-width="0.5"/>
<path d="M516.3 282.4v-1.3M449.7 215.8h1.3" stroke="#555" stroke-width="0.5"/>
<path d="M518.8 282.4v-1.3M449.7 213.3h1.3" stroke="#555" stroke-width="0.5"/>
<path d="M521.3 282.4v-1.3M449.7 210.8h1.3" stroke="#555" stroke-width="0.5"/>
<path d="M523.7 282.4v-2.3M449.7 208.4h2.3" stroke="#555" stroke-width="0.5"/>
<path d="M526.2 282.4v-1.3M449.7 205.9h1.3" stroke="#555" stroke-width="0.5"/>
<path d="M528.7 282.4v-1.3M449.7 203.4h1.3" stroke="#555" stroke-width="0.5"/>
<text x="374.7" y="295.0" font-size="12" font-weight="bold" text-anchor="middle" fill="#000" >−0.6</text>
<text x="447.9" y="360.6" font-size="12" font-weight="bold" text-anchor="end" fill="#000" >−0.6</text>
<text x="399.3" y="295.0" font-size="12" font-weight="bold" text-anchor="middle" fill="#000" >−0.4</text>
<text x="447.9" y="336.0" font-size="12" font-weight="bold" text-anchor="end" fill="#000" >−0.4</text>
<text x="424.0" y="295.0" font-size="12" font-weight="bold" text-anchor="middle" fill="#000" >−0.2</text>
<text x="447.9" y="311.3" font-size="12" font-weight="bold" text-anchor="end" fill="#000" >−0.2</text>
<text x="474.8" y="295.0" font-size="12" font-weight="bold" text-anchor="middle" fill="#000" >0.2</text>
<text x="447.9" y="261.9" font-size="12" font-weight="bold" text-anchor="end" fill="#000" >0.2</text>
<text x="499.5" y="295.0" font-size="12" font-weight="bold" text-anchor="middle" fill="#000" >0.4</text>
<text x="447.9" y="237.2" font-size="12" font-weight="bold" text-anchor="end" fill="#000" >0.4</text>
<text x="524.1" y="295.0" font-size="12" font-weight="bold" text-anchor="middle" fill="#000" >0.6</text>
<text x="447.9" y="212.6" font-size="12" font-weight="bold" text-anchor="end" fill="#000" >0.6</text>
<text x="540.6" y="288.4" font-size="16.5" font-weight="bold" text-anchor="middle" fill="#000" >x</text>
<text x="449.3" y="193.6" font-size="15.5" font-weight="bold" text-anchor="middle" fill="#000" >t</text></g>
<text class="cap" x="58.5" y="171.4" font-family="Liberation Serif, Times New Roman, serif" font-size="13.6" textLength="66.2" lengthAdjust="spacing" fill="#1a1a1a">(a) 3D Plot</text>
<text class="cap" x="310.2" y="172.0" font-family="Liberation Serif, Times New Roman, serif" font-size="13.6" textLength="66.4" lengthAdjust="spacing" fill="#1a1a1a">(b) 2D Plot</text>
<text class="cap" x="547.0" y="172.0" font-family="Liberation Serif, Times New Roman, serif" font-size="13.6" textLength="95.5" lengthAdjust="spacing" fill="#1a1a1a">(c) Contour Plot</text>
<text class="cap" x="186.1" y="384.2" font-family="Liberation Serif, Times New Roman, serif" font-size="13.6" textLength="93.9" lengthAdjust="spacing" fill="#1a1a1a">(d) Density Plot</text>
<text class="cap" x="414.0" y="384.2" font-family="Liberation Serif, Times New Roman, serif" font-size="13.6" textLength="78.8" lengthAdjust="spacing" fill="#1a1a1a">(e) Polar Plot</text>
<g id="p3d"><path d="M33.2 95.7L29.7 65.9M82.7 70.4L82.7 42.5M38.2 114.7L82.7 70.4M33.2 95.7L111.5 123.3M45.3 84.8L42.8 55.8M100.0 75.4L100.9 47.0M57.8 122.2L100.0 75.4M45.3 84.8L121.0 109.6M56.3 74.8L54.6 46.6M118.2 80.6L120.3 51.7M78.6 130.1L118.2 80.6M56.3 74.8L129.6 97.3M19.5 105.6L66.3 63.8M66.3 63.8L137.6 84.1M18.9 101.4L66.2 60.0M66.2 60.0L138.1 80.0M18.2 97.0L66.0 56.1M66.0 56.1L138.5 75.9M17.6 92.6L65.9 52.1M65.9 52.1L139.0 71.6M16.9 88.1L65.7 48.0M65.7 48.0L139.5 67.3M16.2 83.5L65.5 43.9M65.5 43.9L140.1 62.9M15.5 78.8L65.4 39.8M65.4 39.8L140.6 58.4" stroke="#cacaca" stroke-width="0.5" fill="none"/>
<path d="M19.8 107.7L15.3 77.2M66.4 65.7L65.3 38.3M137.3 86.2L140.8 56.8M15.3 77.2L65.3 38.3M65.3 38.3L140.8 56.8M19.8 107.7L100.9 138.6M100.9 138.6L137.3 86.2M19.8 107.7L66.4 65.7M66.4 65.7L137.3 86.2" stroke="#a6a6a6" stroke-width="0.6" fill="none"/>
<style>.k0{fill:#8810a0;stroke:#8810a0}.k1{fill:#8818a0;stroke:#8818a0}.k2{fill:#8018a8;stroke:#8018a8}.k3{fill:#7818b0;stroke:#7818b0}.k4{fill:#7820b0;stroke:#7820b0}.k5{fill:#7020b8;stroke:#7020b8}.k6{fill:#6820c0;stroke:#6820c0}.k7{fill:#6828c0;stroke:#6828c0}.k8{fill:#6028c0;stroke:#6028c0}.k9{fill:#6028c8;stroke:#6028c8}.k10{fill:#5828c8;stroke:#5828c8}.k11{fill:#5030d0;stroke:#5030d0}.k12{fill:#4830d0;stroke:#4830d0}.k13{fill:#4038d8;stroke:#4038d8}.k14{fill:#3840e0;stroke:#3840e0}.k15{fill:#3850e0;stroke:#3850e0}.k16{fill:#3860e0;stroke:#3860e0}.k17{fill:#4070e0;stroke:#4070e0}.k18{fill:#4080e0;stroke:#4080e0}.k19{fill:#4088e0;stroke:#4088e0}.k20{fill:#4090e0;stroke:#4090e0}.k21{fill:#7020b0;stroke:#7020b0}.k22{fill:#5830c8;stroke:#5830c8}.k23{fill:#4090d8;stroke:#4090d8}.k24{fill:#6820b8;stroke:#6820b8}.k25{fill:#5030d8;stroke:#5030d8}.k26{fill:#4838d8;stroke:#4838d8}.k27{fill:#3838e0;stroke:#3838e0}.k28{fill:#3848e0;stroke:#3848e0}.k29{fill:#3858e0;stroke:#3858e0}.k30{fill:#3868e0;stroke:#3868e0}.k31{fill:#4078e0;stroke:#4078e0}.k32{fill:#4098d8;stroke:#4098d8}.k33{fill:#4830d8;stroke:#4830d8}.k34{fill:#4068e0;stroke:#4068e0}.k35{fill:#4838e0;stroke:#4838e0}.k36{fill:#4088d8;stroke:#4088d8}.k37{fill:#48a0c8;stroke:#48a0c8}.k38{fill:#60b0b8;stroke:#60b0b8}.k39{fill:#4098d0;stroke:#4098d0}.k40{fill:#58b0b8;stroke:#58b0b8}.k41{fill:#68c0a0;stroke:#68c0a0}.k42{fill:#70c090;stroke:#70c090}.k43{fill:#50a0c0;stroke:#50a0c0}.k44{fill:#60b8a8;stroke:#60b8a8}.k45{fill:#80c880;stroke:#80c880}.k46{fill:#90c878;stroke:#90c878}.k47{fill:#5030c8;stroke:#5030c8}.k48{fill:#3850d8;stroke:#3850d8}.k49{fill:#4090d0;stroke:#4090d0}.k50{fill:#4898d0;stroke:#4898d0}.k51{fill:#58b0b0;stroke:#58b0b0}.k52{fill:#68c098;stroke:#68c098}.k53{fill:#78c080;stroke:#78c080}.k54{fill:#90c870;stroke:#90c870}.k55{fill:#a0d060;stroke:#a0d060}.k56{fill:#a8d058;stroke:#a8d058}.k57{fill:#4038e0;stroke:#4038e0}.k58{fill:#50a8b8;stroke:#50a8b8}.k59{fill:#68b8a0;stroke:#68b8a0}.k60{fill:#70c088;stroke:#70c088}.k61{fill:#88c078;stroke:#88c078}.k62{fill:#98c860;stroke:#98c860}.k63{fill:#b0c850;stroke:#b0c850}.k64{fill:#b8d048;stroke:#b8d048}.k65{fill:#c0c848;stroke:#c0c848}.k66{fill:#4088d0;stroke:#4088d0}.k67{fill:#48a0c0;stroke:#48a0c0}.k68{fill:#60b8a0;stroke:#60b8a0}.k69{fill:#80c078;stroke:#80c078}.k70{fill:#98c868;stroke:#98c868}.k71{fill:#a8c850;stroke:#a8c850}.k72{fill:#b0c048;stroke:#b0c048}.k73{fill:#c0c040;stroke:#c0c040}.k74{fill:#c8c038;stroke:#c8c038}.k75{fill:#d0c038;stroke:#d0c038}.k76{fill:#4090c8;stroke:#4090c8}.k77{fill:#58b0a8;stroke:#58b0a8}.k78{fill:#68b890;stroke:#68b890}.k79{fill:#90c868;stroke:#90c868}.k80{fill:#b0c848;stroke:#b0c848}.k81{fill:#b8b840;stroke:#b8b840}.k82{fill:#c0b038;stroke:#c0b038}.k83{fill:#d0a830;stroke:#d0a830}.k84{fill:#e0b028;stroke:#e0b028}.k85{fill:#e8b028;stroke:#e8b028}.k86{fill:#50a0b0;stroke:#50a0b0}.k87{fill:#78c078;stroke:#78c078}.k88{fill:#90c068;stroke:#90c068}.k89{fill:#a0c850;stroke:#a0c850}.k90{fill:#b8c040;stroke:#b8c040}.k91{fill:#c8b838;stroke:#c8b838}.k92{fill:#c8a830;stroke:#c8a830}.k93{fill:#d0a028;stroke:#d0a028}.k94{fill:#d09020;stroke:#d09020}.k95{fill:#e89820;stroke:#e89820}.k96{fill:#f09828;stroke:#f09828}.k97{fill:#204080;stroke:#204080}.k98{fill:#285080;stroke:#285080}.k99{fill:#285880;stroke:#285880}.k100{fill:#306078;stroke:#306078}.k101{fill:#407060;stroke:#407060}.k102{fill:#487850;stroke:#487850}.k103{fill:#587840;stroke:#587840}.k104{fill:#688030;stroke:#688030}.k105{fill:#708030;stroke:#708030}.k106{fill:#787828;stroke:#787828}.k107{fill:#807820;stroke:#807820}.k108{fill:#907018;stroke:#907018}.k109{fill:#906818;stroke:#906818}.k110{fill:#906018;stroke:#906018}.k111{fill:#4098e8;stroke:#4098e8}.k112{fill:#48a0e8;stroke:#48a0e8}.k113{fill:#48a0e0;stroke:#48a0e0}.k114{fill:#a0d068;stroke:#a0d068}.k115{fill:#b8d050;stroke:#b8d050}.k116{fill:#c8d048;stroke:#c8d048}.k117{fill:#d8c840;stroke:#d8c840}.k118{fill:#e0c838;stroke:#e0c838}.k119{fill:#f0c030;stroke:#f0c030}.k120{fill:#f8b828;stroke:#f8b828}.k121{fill:#f8a828;stroke:#f8a828}.k122{fill:#f8a028;stroke:#f8a028}.k123{fill:#f89828;stroke:#f89828}.k124{fill:#ff9020;stroke:#ff9020}.k125{fill:#ff8020;stroke:#ff8020}.k126{fill:#ff7018;stroke:#ff7018}.k127{fill:#98d068;stroke:#98d068}.k128{fill:#d0c840;stroke:#d0c840}.k129{fill:#e8c030;stroke:#e8c030}.k130{fill:#f8b028;stroke:#f8b028}.k131{fill:#ff8820;stroke:#ff8820}.k132{fill:#ff7820;stroke:#ff7820}.k133{fill:#80c888;stroke:#80c888}.k134{fill:#b0d050;stroke:#b0d050}.k135{fill:#c0d048;stroke:#c0d048}.k136{fill:#d0d040;stroke:#d0d040}.k137{fill:#ff9820;stroke:#ff9820}.k138{fill:#4898e8;stroke:#4898e8}.k139{fill:#68b8a8;stroke:#68b8a8}.k140{fill:#78c888;stroke:#78c888}.k141{fill:#98d070;stroke:#98d070}.k142{fill:#b0d058;stroke:#b0d058}.k143{fill:#e8c838;stroke:#e8c838}.k144{fill:#60b8b0;stroke:#60b8b0}.k145{fill:#78c890;stroke:#78c890}.k146{fill:#d0d048;stroke:#d0d048}.k147{fill:#ff9828;stroke:#ff9828}.k148{fill:#70c890;stroke:#70c890}.k149{fill:#88c878;stroke:#88c878}.k150{fill:#a8d060;stroke:#a8d060}.k151{fill:#d8d040;stroke:#d8d040}.k152{fill:#f8b830;stroke:#f8b830}.k153{fill:#70c898;stroke:#70c898}.k154{fill:#88c880;stroke:#88c880}.k155{fill:#e8c830;stroke:#e8c830}.k156{fill:#f8c030;stroke:#f8c030}.k157{fill:#58a8c0;stroke:#58a8c0}.k158{fill:#70c098;stroke:#70c098}.k159{fill:#b8d850;stroke:#b8d850}.k160{fill:#e0c840;stroke:#e0c840}.k161{fill:#50a8c0;stroke:#50a8c0}.k162{fill:#ffa028;stroke:#ffa028}.k163{fill:#50a0c8;stroke:#50a0c8}.k164{fill:#f0c830;stroke:#f0c830}.k165{fill:#48a0d0;stroke:#48a0d0}.k166{fill:#68c0a8;stroke:#68c0a8}.k167{fill:#90d070;stroke:#90d070}.k168{fill:#c0d050;stroke:#c0d050}</style>
<g stroke-width="0.35" stroke-linejoin="round"><path class="k0" d="M65.2 66.7L67.8 67.3L69.0 66.3L66.4 65.7Z"/><path class="k1" d="M63.9 67.7L66.6 68.3L67.8 67.3L65.2 66.7Z"/><path class="k2" d="M62.7 68.8L65.4 69.4L66.6 68.3L63.9 67.7Z"/><path class="k2" d="M61.4 69.8L64.1 70.4L65.4 69.4L62.7 68.8Z"/><path class="k2" d="M60.1 70.8L62.9 71.5L64.1 70.4L61.4 69.8Z"/><path class="k2" d="M58.9 71.9L61.6 72.6L62.9 71.5L60.1 70.8Z"/><path class="k3" d="M57.6 73.0L60.3 73.7L61.6 72.6L58.9 71.9Z"/><path class="k3" d="M56.2 74.1L59.0 74.8L60.3 73.7L57.6 73.0Z"/><path class="k4" d="M54.9 75.1L57.7 75.9L59.0 74.8L56.2 74.1Z"/><path class="k4" d="M53.6 76.3L56.3 77.0L57.7 75.9L54.9 75.1Z"/><path class="k5" d="M52.2 77.4L55.0 78.1L56.3 77.0L53.6 76.3Z"/><path class="k5" d="M50.8 78.5L53.6 79.3L55.0 78.1L52.2 77.4Z"/><path class="k5" d="M49.4 79.7L52.2 80.5L53.6 79.3L50.8 78.5Z"/><path class="k5" d="M48.0 80.8L50.8 81.6L52.2 80.5L49.4 79.7Z"/><path class="k6" d="M46.6 82.0L49.4 82.8L50.8 81.6L48.0 80.8Z"/><path class="k7" d="M45.1 83.2L47.9 84.0L49.4 82.8L46.6 82.0Z"/><path class="k8" d="M43.7 84.4L46.5 84.9L47.9 83.6L45.1 83.2Z"/><path class="k9" d="M42.2 85.6L45.0 86.2L46.5 84.9L43.7 84.4Z"/><path class="k9" d="M40.7 86.8L43.5 87.5L45.0 86.2L42.2 85.6Z"/><path class="k10" d="M39.1 87.9L42.0 88.5L43.5 87.5L40.7 86.8Z"/><path class="k11" d="M37.6 88.9L40.4 89.5L42.0 88.5L39.1 87.9Z"/><path class="k12" d="M36.0 89.9L38.8 90.5L40.4 89.5L37.6 88.9Z"/><path class="k13" d="M34.4 90.9L37.2 91.5L38.8 90.5L36.0 89.9Z"/><path class="k14" d="M32.7 91.9L35.6 92.5L37.2 91.5L34.4 90.9Z"/><path class="k15" d="M31.1 92.9L34.0 93.5L35.6 92.5L32.7 91.9Z"/><path class="k16" d="M29.4 94.0L32.3 94.6L34.0 93.5L31.1 92.9Z"/><path class="k17" d="M27.7 95.1L30.6 95.6L32.3 94.6L29.4 94.0Z"/><path class="k18" d="M25.9 96.1L28.9 96.7L30.6 95.6L27.7 95.1Z"/><path class="k19" d="M24.2 97.2L27.1 97.8L28.9 96.7L25.9 96.1Z"/><path class="k19" d="M22.4 98.3L25.3 98.9L27.1 97.8L24.2 97.2Z"/><path class="k20" d="M20.6 99.5L23.5 100.0L25.3 98.9L22.4 98.3Z"/><path class="k20" d="M18.8 100.7L21.7 101.0L23.5 100.0L20.6 99.5Z"/><path class="k2" d="M67.8 67.3L70.5 67.9L71.7 66.9L69.0 66.3Z"/><path class="k2" d="M66.6 68.3L69.3 68.9L70.5 67.9L67.8 67.3Z"/><path class="k2" d="M65.4 69.4L68.1 70.0L69.3 68.9L66.6 68.3Z"/><path class="k2" d="M64.1 70.4L66.9 71.1L68.1 70.0L65.4 69.4Z"/><path class="k3" d="M62.9 71.5L65.6 72.2L66.9 71.1L64.1 70.4Z"/><path class="k3" d="M61.6 72.6L64.3 73.2L65.6 72.2L62.9 71.5Z"/><path class="k4" d="M60.3 73.7L63.0 74.4L64.3 73.2L61.6 72.6Z"/><path class="k4" d="M59.0 74.8L61.7 75.5L63.0 74.4L60.3 73.7Z"/><path class="k21" d="M57.7 75.9L60.4 76.6L61.7 75.5L59.0 74.8Z"/><path class="k5" d="M56.3 77.0L59.1 77.7L60.4 76.6L57.7 75.9Z"/><path class="k5" d="M55.0 78.1L57.8 78.9L59.1 77.7L56.3 77.0Z"/><path class="k5" d="M53.6 79.3L56.4 80.1L57.8 78.9L55.0 78.1Z"/><path class="k5" d="M52.2 80.5L55.0 81.3L56.4 80.1L53.6 79.3Z"/><path class="k6" d="M50.8 81.6L53.6 82.5L55.0 81.3L52.2 80.5Z"/><path class="k7" d="M49.4 82.8L52.2 83.7L53.6 82.5L50.8 81.6Z"/><path class="k7" d="M47.9 84.0L50.8 84.9L52.2 83.7L49.4 82.8Z"/><path class="k22" d="M46.5 84.9L49.3 85.5L50.7 84.1L47.9 83.6Z"/><path class="k22" d="M45.0 86.2L47.9 86.9L49.3 85.5L46.5 84.9Z"/><path class="k22" d="M43.5 87.5L46.4 88.0L47.9 86.9L45.0 86.2Z"/><path class="k11" d="M42.0 88.5L44.8 89.0L46.4 88.0L43.5 87.5Z"/><path class="k12" d="M40.4 89.5L43.3 90.0L44.8 89.0L42.0 88.5Z"/><path class="k13" d="M38.8 90.5L41.7 91.0L43.3 90.0L40.4 89.5Z"/><path class="k14" d="M37.2 91.5L40.1 92.0L41.7 91.0L38.8 90.5Z"/><path class="k15" d="M35.6 92.5L38.5 93.0L40.1 92.0L37.2 91.5Z"/><path class="k16" d="M34.0 93.5L36.9 94.1L38.5 93.0L35.6 92.5Z"/><path class="k17" d="M32.3 94.6L35.2 95.1L36.9 94.1L34.0 93.5Z"/><path class="k18" d="M30.6 95.6L33.5 96.2L35.2 95.1L32.3 94.6Z"/><path class="k19" d="M28.9 96.7L31.8 97.2L33.5 96.2L30.6 95.6Z"/><path class="k19" d="M27.1 97.8L30.1 98.4L31.8 97.2L28.9 96.7Z"/><path class="k20" d="M25.3 98.9L28.3 99.3L30.1 98.4L27.1 97.8Z"/><path class="k23" d="M23.5 100.0L26.5 100.2L28.3 99.3L25.3 98.9Z"/><path class="k23" d="M21.7 101.0L24.6 101.2L26.5 100.2L23.5 100.0Z"/><path class="k2" d="M70.5 67.9L73.3 68.5L74.4 67.4L71.7 66.9Z"/><path class="k2" d="M69.3 68.9L72.1 69.6L73.3 68.5L70.5 67.9Z"/><path class="k3" d="M68.1 70.0L70.8 70.6L72.1 69.6L69.3 68.9Z"/><path class="k3" d="M66.9 71.1L69.6 71.7L70.8 70.6L68.1 70.0Z"/><path class="k4" d="M65.6 72.2L68.4 72.8L69.6 71.7L66.9 71.1Z"/><path class="k4" d="M64.3 73.2L67.1 73.9L68.4 72.8L65.6 72.2Z"/><path class="k4" d="M63.0 74.4L65.8 75.1L67.1 73.9L64.3 73.2Z"/><path class="k5" d="M61.7 75.5L64.5 76.2L65.8 75.1L63.0 74.4Z"/><path class="k5" d="M60.4 76.6L63.2 77.3L64.5 76.2L61.7 75.5Z"/><path class="k5" d="M59.1 77.7L61.9 78.5L63.2 77.3L60.4 76.6Z"/><path class="k5" d="M57.8 78.9L60.6 79.7L61.9 78.5L59.1 77.7Z"/><path class="k24" d="M56.4 80.1L59.2 80.9L60.6 79.7L57.8 78.9Z"/><path class="k6" d="M55.0 81.3L57.9 82.1L59.2 80.9L56.4 80.1Z"/><path class="k7" d="M53.6 82.5L56.5 83.3L57.9 82.1L55.0 81.3Z"/><path class="k7" d="M52.2 83.7L55.1 84.5L56.5 83.3L53.6 82.5Z"/><path class="k7" d="M50.8 84.9L53.7 85.8L55.1 84.5L52.2 83.7Z"/><path class="k25" d="M49.3 85.5L52.2 86.1L53.6 84.6L50.7 84.1Z"/><path class="k11" d="M47.9 86.9L50.7 87.5L52.2 86.1L49.3 85.5Z"/><path class="k11" d="M46.4 88.0L49.3 88.5L50.7 87.5L47.9 86.9Z"/><path class="k26" d="M44.8 89.0L47.7 89.5L49.3 88.5L46.4 88.0Z"/><path class="k27" d="M43.3 90.0L46.2 90.5L47.7 89.5L44.8 89.0Z"/><path class="k28" d="M41.7 91.0L44.6 91.5L46.2 90.5L43.3 90.0Z"/><path class="k29" d="M40.1 92.0L43.1 92.5L44.6 91.5L41.7 91.0Z"/><path class="k30" d="M38.5 93.0L41.4 93.5L43.1 92.5L40.1 92.0Z"/><path class="k31" d="M36.9 94.1L39.8 94.6L41.4 93.5L38.5 93.0Z"/><path class="k18" d="M35.2 95.1L38.2 95.6L39.8 94.6L36.9 94.1Z"/><path class="k19" d="M33.5 96.2L36.5 96.7L38.2 95.6L35.2 95.1Z"/><path class="k19" d="M31.8 97.2L34.8 97.8L36.5 96.7L33.5 96.2Z"/><path class="k23" d="M30.1 98.4L33.0 98.6L34.8 97.8L31.8 97.2Z"/><path class="k23" d="M28.3 99.3L31.2 99.5L33.0 98.6L30.1 98.4Z"/><path class="k23" d="M26.5 100.2L29.4 100.5L31.2 99.5L28.3 99.3Z"/><path class="k32" d="M24.6 101.2L27.6 101.5L29.4 100.5L26.5 100.2Z"/><path class="k3" d="M73.3 68.5L76.0 69.1L77.2 68.0L74.4 67.4Z"/><path class="k4" d="M72.1 69.6L74.8 70.2L76.0 69.1L73.3 68.5Z"/><path class="k4" d="M70.8 70.6L73.6 71.3L74.8 70.2L72.1 69.6Z"/><path class="k4" d="M69.6 71.7L72.4 72.4L73.6 71.3L70.8 70.6Z"/><path class="k21" d="M68.4 72.8L71.2 73.5L72.4 72.4L69.6 71.7Z"/><path class="k5" d="M67.1 73.9L69.9 74.6L71.2 73.5L68.4 72.8Z"/><path class="k5" d="M65.8 75.1L68.6 75.8L69.9 74.6L67.1 73.9Z"/><path class="k5" d="M64.5 76.2L67.4 76.9L68.6 75.8L65.8 75.0Z"/><path class="k5" d="M63.2 77.3L66.1 78.1L67.4 76.9L64.5 76.2Z"/><path class="k5" d="M61.9 78.5L64.8 79.3L66.1 78.1L63.2 77.3Z"/><path class="k24" d="M60.6 79.7L63.4 80.5L64.8 79.3L61.9 78.5Z"/><path class="k7" d="M59.2 80.9L62.1 81.7L63.4 80.5L60.6 79.7Z"/><path class="k7" d="M57.9 82.1L60.8 82.9L62.1 81.7L59.2 80.9Z"/><path class="k7" d="M56.5 83.3L59.4 84.1L60.8 82.9L57.9 82.1Z"/><path class="k7" d="M55.1 84.5L58.0 85.4L59.4 84.1L56.5 83.3Z"/><path class="k8" d="M53.7 85.8L56.6 86.7L58.0 85.4L55.1 84.5Z"/><path class="k26" d="M52.2 86.1L55.1 86.9L56.5 85.4L53.6 84.6Z"/><path class="k33" d="M50.7 87.5L53.7 88.0L55.1 86.9L52.2 86.1Z"/><path class="k13" d="M49.3 88.5L52.2 89.0L53.7 88.0L50.7 87.5Z"/><path class="k27" d="M47.7 89.5L50.7 90.0L52.2 89.0L49.3 88.5Z"/><path class="k28" d="M46.2 90.5L49.1 91.0L50.7 90.0L47.7 89.5Z"/><path class="k29" d="M44.6 91.5L47.6 92.0L49.1 91.0L46.2 90.5Z"/><path class="k34" d="M43.1 92.5L46.0 93.0L47.6 92.0L44.6 91.5Z"/><path class="k31" d="M41.4 93.5L44.4 94.0L46.0 93.0L43.1 92.5Z"/><path class="k19" d="M39.8 94.6L42.8 95.1L44.4 94.0L41.4 93.5Z"/><path class="k19" d="M38.2 95.6L41.2 96.1L42.8 95.1L39.8 94.6Z"/><path class="k19" d="M36.5 96.7L39.5 97.0L41.2 96.1L38.2 95.6Z"/><path class="k23" d="M34.8 97.7L37.8 97.9L39.5 97.0L36.5 96.7Z"/><path class="k23" d="M33.0 98.6L36.0 98.7L37.8 97.9L34.8 97.7Z"/><path class="k23" d="M31.2 99.5L34.3 99.7L36.0 98.7L33.0 98.6Z"/><path class="k32" d="M29.4 100.5L32.5 100.7L34.3 99.7L31.2 99.5Z"/><path class="k32" d="M27.6 101.5L30.7 101.8L32.5 100.7L29.4 100.5Z"/><path class="k4" d="M76.0 69.1L78.8 69.7L80.0 68.6L77.2 68.0Z"/><path class="k21" d="M74.8 70.2L77.6 70.8L78.8 69.7L76.0 69.1Z"/><path class="k5" d="M73.6 71.3L76.4 71.9L77.6 70.8L74.8 70.2Z"/><path class="k5" d="M72.4 72.4L75.2 73.0L76.4 71.9L73.6 71.3Z"/><path class="k5" d="M71.2 73.5L74.0 74.2L75.2 73.0L72.4 72.4Z"/><path class="k5" d="M69.9 74.6L72.7 75.3L74.0 74.2L71.2 73.5Z"/><path class="k5" d="M68.6 75.8L71.5 76.5L72.7 75.3L69.9 74.6Z"/><path class="k5" d="M67.4 76.9L70.2 77.6L71.5 76.5L68.6 75.8Z"/><path class="k24" d="M66.1 78.1L68.9 78.8L70.2 77.6L67.4 76.9Z"/><path class="k6" d="M64.8 79.3L67.6 80.0L68.9 78.8L66.1 78.1Z"/><path class="k7" d="M63.4 80.5L66.3 81.3L67.6 80.0L64.8 79.3Z"/><path class="k7" d="M62.1 81.7L65.0 82.5L66.3 81.3L63.4 80.5Z"/><path class="k7" d="M60.8 82.9L63.7 83.7L65.0 82.5L62.1 81.7Z"/><path class="k7" d="M59.4 84.1L62.3 85.0L63.7 83.7L60.8 82.9Z"/><path class="k8" d="M58.0 85.4L60.9 86.3L62.3 85.0L59.4 84.1Z"/><path class="k9" d="M56.6 86.7L59.5 87.6L60.9 86.3L58.0 85.4Z"/><path class="k35" d="M55.1 86.9L58.1 87.7L59.5 86.4L56.5 85.4Z"/><path class="k13" d="M53.7 88.0L56.6 88.6L58.1 87.7L55.1 86.9Z"/><path class="k14" d="M52.2 89.0L55.1 89.5L56.6 88.6L53.7 88.0Z"/><path class="k15" d="M50.7 90.0L53.6 90.5L55.1 89.5L52.2 89.0Z"/><path class="k16" d="M49.1 91.0L52.1 91.5L53.6 90.5L50.7 90.0Z"/><path class="k17" d="M47.6 92.0L50.6 92.5L52.1 91.5L49.1 91.0Z"/><path class="k18" d="M46.0 93.0L49.0 93.5L50.6 92.5L47.6 92.0Z"/><path class="k19" d="M44.4 94.0L47.4 94.5L49.0 93.5L46.0 93.0Z"/><path class="k19" d="M42.8 95.1L45.8 95.5L47.4 94.5L44.4 94.0Z"/><path class="k36" d="M41.2 96.1L44.2 96.3L45.8 95.5L42.8 95.1Z"/><path class="k23" d="M39.5 97.0L42.5 97.1L44.2 96.3L41.2 96.1Z"/><path class="k23" d="M37.8 97.9L40.8 98.0L42.5 97.1L39.5 97.0Z"/><path class="k23" d="M36.0 98.7L39.1 98.9L40.8 98.0L37.8 97.9Z"/><path class="k32" d="M34.3 99.7L37.3 99.8L39.1 98.9L36.0 98.7Z"/><path class="k37" d="M32.5 100.7L35.5 100.9L37.3 99.8L34.3 99.7Z"/><path class="k38" d="M30.7 101.8L33.7 101.9L35.5 100.9L32.5 100.7Z"/><path class="k5" d="M78.8 69.7L81.6 70.3L82.7 69.2L80.0 68.6Z"/><path class="k5" d="M77.6 70.8L80.4 71.4L81.6 70.3L78.8 69.7Z"/><path class="k5" d="M76.4 71.9L79.2 72.5L80.4 71.4L77.6 70.8Z"/><path class="k5" d="M75.2 73.0L78.0 73.7L79.2 72.5L76.4 71.9Z"/><path class="k24" d="M74.0 74.2L76.8 74.8L78.0 73.7L75.2 73.0Z"/><path class="k24" d="M72.7 75.3L75.6 76.0L76.8 74.8L74.0 74.2Z"/><path class="k6" d="M71.5 76.5L74.3 77.2L75.6 76.0L72.7 75.3Z"/><path class="k7" d="M70.2 77.6L73.1 78.4L74.3 77.2L71.5 76.5Z"/><path class="k7" d="M68.9 78.8L71.8 79.6L73.1 78.4L70.2 77.6Z"/><path class="k7" d="M67.6 80.0L70.5 80.8L71.8 79.6L68.9 78.8Z"/><path class="k7" d="M66.3 81.3L69.2 82.0L70.5 80.8L67.6 80.0Z"/><path class="k7" d="M65.0 82.5L67.9 83.3L69.2 82.0L66.3 81.3Z"/><path class="k8" d="M63.7 83.7L66.6 84.6L67.9 83.3L65.0 82.5Z"/><path class="k8" d="M62.3 85.0L65.2 85.8L66.6 84.6L63.7 83.7Z"/><path class="k9" d="M60.9 86.3L63.9 87.1L65.2 85.8L62.3 85.0Z"/><path class="k9" d="M59.5 87.6L62.5 88.5L63.9 87.1L60.9 86.3Z"/><path class="k13" d="M58.1 87.7L61.0 88.2L62.4 87.4L59.5 86.4Z"/><path class="k14" d="M56.6 88.6L59.6 89.1L61.0 88.2L58.1 87.7Z"/><path class="k15" d="M55.1 89.5L58.1 90.0L59.6 89.1L56.6 88.6Z"/><path class="k16" d="M53.6 90.5L56.6 91.0L58.1 90.0L55.1 89.5Z"/><path class="k17" d="M52.1 91.5L55.1 91.9L56.6 91.0L53.6 90.5Z"/><path class="k18" d="M50.6 92.5L53.6 92.9L55.1 91.9L52.1 91.5Z"/><path class="k19" d="M49.0 93.5L52.0 93.9L53.6 92.9L50.6 92.5Z"/><path class="k19" d="M47.4 94.5L50.5 94.8L52.0 93.9L49.0 93.5Z"/><path class="k36" d="M45.8 95.5L48.8 95.6L50.5 94.8L47.4 94.5Z"/><path class="k23" d="M44.2 96.3L47.2 96.4L48.8 95.6L45.8 95.5Z"/><path class="k23" d="M42.5 97.1L45.5 97.2L47.2 96.4L44.2 96.3Z"/><path class="k23" d="M40.8 98.0L43.8 98.1L45.5 97.2L42.5 97.1Z"/><path class="k39" d="M39.1 98.9L42.1 99.0L43.8 98.1L40.8 98.0Z"/><path class="k40" d="M37.3 99.8L40.4 99.8L42.1 99.0L39.1 98.9Z"/><path class="k41" d="M35.5 100.9L38.6 100.8L40.4 99.8L37.3 99.8Z"/><path class="k42" d="M33.7 101.9L36.8 101.9L38.6 100.8L35.5 100.9Z"/><path class="k7" d="M81.6 70.3L84.4 70.5L85.6 69.3L82.7 69.2Z"/><path class="k8" d="M80.4 71.4L83.3 71.6L84.4 70.5L81.6 70.3Z"/><path class="k8" d="M79.2 72.5L82.1 72.7L83.3 71.6L80.4 71.4Z"/><path class="k8" d="M78.0 73.7L80.9 73.9L82.1 72.7L79.2 72.5Z"/><path class="k8" d="M76.8 74.8L79.7 75.1L80.9 73.9L78.0 73.7Z"/><path class="k8" d="M75.6 76.0L78.5 76.2L79.7 75.1L76.8 74.8Z"/><path class="k8" d="M74.3 77.2L77.2 77.4L78.5 76.2L75.6 76.0Z"/><path class="k8" d="M73.1 78.4L76.0 78.7L77.2 77.4L74.3 77.2Z"/><path class="k8" d="M71.8 79.6L74.7 79.9L76.0 78.7L73.1 78.4Z"/><path class="k8" d="M70.5 80.8L73.5 81.1L74.7 79.9L71.8 79.6Z"/><path class="k10" d="M69.2 82.0L72.2 82.4L73.5 81.1L70.5 80.8Z"/><path class="k10" d="M67.9 83.3L70.9 83.6L72.2 82.4L69.2 82.0Z"/><path class="k10" d="M66.6 84.6L69.5 84.9L70.9 83.6L67.9 83.3Z"/><path class="k10" d="M65.2 85.8L68.2 86.2L69.5 84.9L66.6 84.6Z"/><path class="k10" d="M63.9 87.1L66.8 87.5L68.2 86.2L65.2 85.8Z"/><path class="k10" d="M62.5 88.5L65.5 88.9L66.8 87.5L63.9 87.1Z"/><path class="k14" d="M61.0 88.2L64.0 88.6L65.4 87.8L62.4 87.4Z"/><path class="k15" d="M59.6 89.1L62.6 89.5L64.0 88.6L61.0 88.2Z"/><path class="k16" d="M58.1 90.0L61.1 90.4L62.6 89.5L59.6 89.1Z"/><path class="k31" d="M56.6 91.0L59.7 91.4L61.1 90.4L58.1 90.0Z"/><path class="k19" d="M55.1 91.9L58.2 92.4L59.7 91.4L56.6 91.0Z"/><path class="k19" d="M53.6 92.9L56.7 93.3L58.2 92.4L55.1 91.9Z"/><path class="k36" d="M52.0 93.9L55.1 94.1L56.7 93.3L53.6 92.9Z"/><path class="k36" d="M50.5 94.8L53.5 94.8L55.1 94.1L52.0 93.9Z"/><path class="k23" d="M48.8 95.6L51.9 95.6L53.5 94.8L50.5 94.8Z"/><path class="k23" d="M47.2 96.4L50.3 96.4L51.9 95.6L48.8 95.6Z"/><path class="k39" d="M45.5 97.2L48.6 97.3L50.3 96.4L47.2 96.4Z"/><path class="k43" d="M43.8 98.1L46.9 98.1L48.6 97.3L45.5 97.2Z"/><path class="k44" d="M42.1 99.0L45.2 98.8L46.9 98.1L43.8 98.1Z"/><path class="k42" d="M40.4 99.8L43.5 99.6L45.2 98.8L42.1 99.0Z"/><path class="k45" d="M38.6 100.8L41.7 100.7L43.5 99.6L40.4 99.8Z"/><path class="k46" d="M36.8 101.9L40.0 101.9L41.7 100.7L38.6 100.8Z"/><path class="k47" d="M84.4 70.5L87.3 70.4L88.4 69.3L85.6 69.3Z"/><path class="k47" d="M83.3 71.6L86.1 71.6L87.3 70.4L84.4 70.5Z"/><path class="k47" d="M82.1 72.7L85.0 72.7L86.1 71.6L83.3 71.6Z"/><path class="k47" d="M80.9 73.9L83.8 73.9L85.0 72.7L82.1 72.7Z"/><path class="k11" d="M79.7 75.1L82.6 75.1L83.8 73.9L80.9 73.9Z"/><path class="k11" d="M78.5 76.2L81.4 76.3L82.6 75.1L79.7 75.1Z"/><path class="k11" d="M77.2 77.4L80.2 77.5L81.4 76.3L78.5 76.2Z"/><path class="k11" d="M76.0 78.7L78.9 78.7L80.2 77.5L77.2 77.4Z"/><path class="k11" d="M74.7 79.9L77.7 80.0L78.9 78.7L76.0 78.7Z"/><path class="k11" d="M73.5 81.1L76.4 81.2L77.7 80.0L74.7 79.9Z"/><path class="k12" d="M72.2 82.4L75.1 82.5L76.4 81.2L73.5 81.1Z"/><path class="k12" d="M70.9 83.6L73.8 83.8L75.1 82.5L72.2 82.4Z"/><path class="k12" d="M69.5 84.9L72.5 85.1L73.8 83.8L70.9 83.6Z"/><path class="k12" d="M68.2 86.2L71.2 86.4L72.5 85.1L69.5 84.9Z"/><path class="k12" d="M66.8 87.5L69.8 87.7L71.2 86.4L68.2 86.2Z"/><path class="k33" d="M65.5 88.9L68.5 89.1L69.8 87.7L66.8 87.5Z"/><path class="k48" d="M64.0 88.6L67.0 89.0L68.4 88.1L65.4 87.8Z"/><path class="k30" d="M62.6 89.5L65.6 89.9L67.0 89.0L64.0 88.6Z"/><path class="k31" d="M61.1 90.4L64.2 90.8L65.6 89.9L62.6 89.5Z"/><path class="k19" d="M59.7 91.4L62.7 91.8L64.2 90.8L61.1 90.4Z"/><path class="k36" d="M58.2 92.4L61.2 92.6L62.7 91.8L59.7 91.4Z"/><path class="k36" d="M56.7 93.3L59.7 93.3L61.2 92.6L58.2 92.4Z"/><path class="k23" d="M55.1 94.1L58.2 94.0L59.7 93.3L56.7 93.3Z"/><path class="k23" d="M53.5 94.8L56.6 94.8L58.2 94.0L55.1 94.1Z"/><path class="k49" d="M51.9 95.6L55.0 95.6L56.6 94.8L53.5 94.8Z"/><path class="k50" d="M50.3 96.4L53.4 96.4L55.0 95.6L51.9 95.6Z"/><path class="k51" d="M48.6 97.3L51.8 97.2L53.4 96.4L50.3 96.4Z"/><path class="k52" d="M46.9 98.1L50.1 97.8L51.8 97.2L48.6 97.3Z"/><path class="k53" d="M45.2 98.8L48.4 98.5L50.1 97.8L46.9 98.1Z"/><path class="k54" d="M43.5 99.6L46.6 99.3L48.4 98.5L45.2 98.8Z"/><path class="k55" d="M41.7 100.7L44.9 100.6L46.6 99.3L43.5 99.6Z"/><path class="k56" d="M40.0 101.9L43.2 101.9L44.9 100.6L41.7 100.7Z"/><path class="k13" d="M87.3 70.4L90.2 70.4L91.3 69.3L88.4 69.3Z"/><path class="k13" d="M86.1 71.6L89.0 71.6L90.2 70.4L87.3 70.4Z"/><path class="k57" d="M85.0 72.7L87.9 72.7L89.0 71.6L86.1 71.6Z"/><path class="k57" d="M83.8 73.9L86.7 73.9L87.9 72.7L85.0 72.7Z"/><path class="k27" d="M82.6 75.1L85.5 75.1L86.7 73.9L83.8 73.9Z"/><path class="k27" d="M81.4 76.3L84.3 76.3L85.5 75.1L82.6 75.1Z"/><path class="k27" d="M80.2 77.5L83.1 77.5L84.3 76.3L81.4 76.3Z"/><path class="k27" d="M78.9 78.7L81.9 78.8L83.1 77.5L80.2 77.5Z"/><path class="k27" d="M77.7 80.0L80.6 80.0L81.9 78.8L78.9 78.7Z"/><path class="k27" d="M76.4 81.2L79.4 81.3L80.6 80.0L77.7 80.0Z"/><path class="k14" d="M75.1 82.5L78.1 82.6L79.4 81.3L76.4 81.2Z"/><path class="k14" d="M73.8 83.8L76.8 83.9L78.1 82.6L75.1 82.5Z"/><path class="k14" d="M72.5 85.1L75.5 85.2L76.8 83.9L73.8 83.8Z"/><path class="k14" d="M71.2 86.4L74.2 86.5L75.5 85.2L72.5 85.1Z"/><path class="k14" d="M69.8 87.7L72.9 87.9L74.2 86.5L71.2 86.4Z"/><path class="k14" d="M68.5 89.1L71.5 89.3L72.9 87.9L69.8 87.7Z"/><path class="k30" d="M67.0 89.0L70.1 89.3L71.5 88.4L68.4 88.1Z"/><path class="k18" d="M65.6 89.9L68.7 90.2L70.1 89.3L67.0 89.0Z"/><path class="k19" d="M64.2 90.8L67.3 91.2L68.7 90.2L65.6 89.9Z"/><path class="k36" d="M62.7 91.8L65.8 91.8L67.3 91.2L64.2 90.8Z"/><path class="k36" d="M61.2 92.6L64.3 92.5L65.8 91.8L62.7 91.8Z"/><path class="k49" d="M59.7 93.3L62.8 93.2L64.3 92.5L61.2 92.6Z"/><path class="k49" d="M58.2 94.0L61.3 93.9L62.8 93.2L59.7 93.3Z"/><path class="k49" d="M56.6 94.8L59.8 94.6L61.3 93.9L58.2 94.0Z"/><path class="k58" d="M55.0 95.6L58.2 95.3L59.8 94.6L56.6 94.7Z"/><path class="k59" d="M53.4 96.4L56.6 96.1L58.2 95.3L55.0 95.6Z"/><path class="k60" d="M51.8 97.2L54.9 96.9L56.6 96.1L53.4 96.4Z"/><path class="k61" d="M50.1 97.8L53.2 97.5L54.9 96.9L51.8 97.2Z"/><path class="k62" d="M48.4 98.5L51.5 98.1L53.2 97.5L50.1 97.8Z"/><path class="k63" d="M46.6 99.3L49.8 98.9L51.5 98.1L48.4 98.5Z"/><path class="k64" d="M44.9 100.6L48.1 99.9L49.8 98.9L46.6 99.3Z"/><path class="k65" d="M43.2 101.9L46.3 100.9L48.1 99.9L44.9 100.6Z"/><path class="k29" d="M90.2 70.4L93.1 70.4L94.2 69.2L91.3 69.2Z"/><path class="k29" d="M89.0 71.6L92.0 71.5L93.1 70.4L90.2 70.4Z"/><path class="k29" d="M87.9 72.7L90.8 72.7L92.0 71.5L89.0 71.6Z"/><path class="k29" d="M86.7 73.9L89.7 73.9L90.8 72.7L87.9 72.7Z"/><path class="k29" d="M85.5 75.1L88.5 75.1L89.7 73.9L86.7 73.9Z"/><path class="k29" d="M84.3 76.3L87.3 76.4L88.5 75.1L85.5 75.1Z"/><path class="k29" d="M83.1 77.5L86.1 77.6L87.3 76.4L84.3 76.3Z"/><path class="k29" d="M81.9 78.8L84.9 78.9L86.1 77.6L83.1 77.5Z"/><path class="k29" d="M80.6 80.0L83.7 80.1L84.9 78.9L81.9 78.8Z"/><path class="k29" d="M79.4 81.3L82.4 81.4L83.7 80.1L80.6 80.0Z"/><path class="k29" d="M78.1 82.6L81.1 82.7L82.4 81.4L79.4 81.3Z"/><path class="k16" d="M76.8 83.9L79.9 84.0L81.1 82.7L78.1 82.6Z"/><path class="k16" d="M75.5 85.2L78.6 85.4L79.9 84.0L76.8 83.9Z"/><path class="k16" d="M74.2 86.5L77.3 86.7L78.6 85.4L75.5 85.2Z"/><path class="k16" d="M72.9 87.9L75.9 88.1L77.3 86.7L74.2 86.5Z"/><path class="k16" d="M71.5 89.3L74.6 89.5L75.9 88.1L72.9 87.9Z"/><path class="k36" d="M70.1 89.3L73.2 89.6L74.6 88.7L71.5 88.4Z"/><path class="k36" d="M68.7 90.2L71.8 90.5L73.2 89.6L70.1 89.3Z"/><path class="k36" d="M67.3 91.2L70.4 91.0L71.8 90.5L68.7 90.2Z"/><path class="k66" d="M65.8 91.8L69.0 91.6L70.4 91.0L67.3 91.2Z"/><path class="k49" d="M64.3 92.5L67.5 92.3L69.0 91.6L65.8 91.8Z"/><path class="k49" d="M62.8 93.2L66.0 92.9L67.5 92.3L64.3 92.5Z"/><path class="k67" d="M61.3 93.9L64.5 93.6L66.0 92.9L62.8 93.2Z"/><path class="k68" d="M59.8 94.6L62.9 94.2L64.5 93.6L61.3 93.9Z"/><path class="k42" d="M58.2 95.3L61.4 94.9L62.9 94.2L59.7 94.6Z"/><path class="k69" d="M56.6 96.1L59.8 95.7L61.4 94.9L58.2 95.3Z"/><path class="k70" d="M54.9 96.9L58.1 96.5L59.8 95.7L56.6 96.1Z"/><path class="k71" d="M53.2 97.5L56.5 96.8L58.1 96.5L54.9 96.9Z"/><path class="k72" d="M51.5 98.1L54.7 97.0L56.5 96.8L53.2 97.4Z"/><path class="k73" d="M49.8 98.9L53.0 97.2L54.7 97.0L51.5 98.1Z"/><path class="k74" d="M48.1 99.9L51.3 98.4L53.0 97.2L49.8 98.9Z"/><path class="k75" d="M46.3 100.9L49.5 99.7L51.3 98.4L48.1 99.9Z"/><path class="k31" d="M93.1 70.4L96.1 70.3L97.2 69.2L94.2 69.2Z"/><path class="k31" d="M92.0 71.5L95.0 71.5L96.1 70.3L93.1 70.4Z"/><path class="k31" d="M90.8 72.7L93.8 72.7L95.0 71.5L92.0 71.5Z"/><path class="k31" d="M89.7 73.9L92.7 73.9L93.8 72.7L90.8 72.7Z"/><path class="k31" d="M88.5 75.1L91.5 75.2L92.7 73.9L89.7 73.9Z"/><path class="k31" d="M87.3 76.4L90.3 76.4L91.5 75.2L88.5 75.1Z"/><path class="k31" d="M86.1 77.6L89.1 77.7L90.3 76.4L87.3 76.4Z"/><path class="k31" d="M84.9 78.9L87.9 78.9L89.1 77.7L86.1 77.6Z"/><path class="k31" d="M83.7 80.1L86.7 80.2L87.9 78.9L84.9 78.9Z"/><path class="k31" d="M82.4 81.4L85.5 81.5L86.7 80.2L83.7 80.1Z"/><path class="k31" d="M81.1 82.7L84.2 82.8L85.5 81.5L82.4 81.4Z"/><path class="k31" d="M79.9 84.0L82.9 84.2L84.2 82.8L81.1 82.7Z"/><path class="k18" d="M78.6 85.4L81.7 85.5L82.9 84.2L79.9 84.0Z"/><path class="k18" d="M77.3 86.7L80.4 86.9L81.7 85.5L78.6 85.4Z"/><path class="k18" d="M75.9 88.1L79.1 88.3L80.4 86.9L77.3 86.7Z"/><path class="k18" d="M74.6 89.5L77.7 89.7L79.1 88.3L75.9 88.1Z"/><path class="k36" d="M73.2 89.6L76.4 89.7L77.7 89.0L74.6 88.7Z"/><path class="k36" d="M71.8 90.5L75.0 90.1L76.4 89.7L73.2 89.6Z"/><path class="k66" d="M70.4 91.0L73.6 90.7L75.0 90.1L71.8 90.5Z"/><path class="k49" d="M69.0 91.6L72.1 91.3L73.6 90.7L70.4 91.0Z"/><path class="k76" d="M67.5 92.3L70.7 91.9L72.1 91.3L69.0 91.6Z"/><path class="k77" d="M66.0 92.9L69.2 92.4L70.7 91.9L67.5 92.3Z"/><path class="k78" d="M64.5 93.6L67.7 93.0L69.2 92.4L66.0 92.9Z"/><path class="k69" d="M62.9 94.2L66.1 93.6L67.7 93.0L64.5 93.6Z"/><path class="k79" d="M61.4 94.9L64.6 94.3L66.1 93.6L62.9 94.2Z"/><path class="k71" d="M59.8 95.7L63.0 94.9L64.6 94.3L61.4 94.9Z"/><path class="k80" d="M58.1 96.5L61.4 95.4L63.0 94.9L59.8 95.7Z"/><path class="k81" d="M56.5 96.8L59.7 95.2L61.4 95.4L58.1 96.5Z"/><path class="k82" d="M54.7 97.0L58.0 95.1L59.7 95.2L56.5 96.8Z"/><path class="k83" d="M53.0 97.2L56.2 95.0L58.0 95.1L54.7 97.0Z"/><path class="k84" d="M51.3 98.4L54.5 96.6L56.2 95.0L53.0 97.2Z"/><path class="k85" d="M49.5 99.7L52.8 98.1L54.5 96.6L51.3 98.4Z"/><path class="k36" d="M96.1 70.3L99.1 69.8L100.2 68.6L97.2 69.2Z"/><path class="k36" d="M95.0 71.5L98.0 71.0L99.1 69.8L96.1 70.3Z"/><path class="k36" d="M93.8 72.7L96.9 72.2L98.0 71.0L95.0 71.5Z"/><path class="k36" d="M92.7 73.9L95.7 73.4L96.9 72.2L93.8 72.7Z"/><path class="k36" d="M91.5 75.2L94.6 74.6L95.7 73.4L92.7 73.9Z"/><path class="k36" d="M90.3 76.4L93.4 75.9L94.6 74.6L91.5 75.2Z"/><path class="k36" d="M89.1 77.7L92.2 77.2L93.4 75.9L90.3 76.4Z"/><path class="k36" d="M87.9 78.9L91.0 78.4L92.2 77.2L89.1 77.7Z"/><path class="k36" d="M86.7 80.2L89.8 79.7L91.0 78.4L87.9 78.9Z"/><path class="k36" d="M85.5 81.5L88.6 81.1L89.8 79.7L86.7 80.2Z"/><path class="k36" d="M84.2 82.8L87.3 82.4L88.6 81.1L85.5 81.5Z"/><path class="k36" d="M82.9 84.2L86.1 83.7L87.3 82.4L84.2 82.8Z"/><path class="k36" d="M81.7 85.5L84.8 85.1L86.1 83.7L82.9 84.2Z"/><path class="k36" d="M80.4 86.9L83.5 86.5L84.8 85.1L81.7 85.5Z"/><path class="k36" d="M79.1 88.3L82.2 87.9L83.5 86.5L80.4 86.9Z"/><path class="k36" d="M77.7 89.7L80.9 89.3L82.2 87.9L79.1 88.3Z"/><path class="k66" d="M76.4 89.7L79.5 89.2L80.9 88.7L77.7 89.0Z"/><path class="k49" d="M75.0 90.1L78.2 89.7L79.5 89.2L76.4 89.7Z"/><path class="k49" d="M73.6 90.7L76.8 90.2L78.2 89.7L75.0 90.1Z"/><path class="k86" d="M72.1 91.3L75.3 90.7L76.8 90.2L73.6 90.7Z"/><path class="k78" d="M70.7 91.9L73.9 91.1L75.3 90.7L72.1 91.3Z"/><path class="k87" d="M69.2 92.4L72.4 91.6L73.9 91.1L70.7 91.9Z"/><path class="k88" d="M67.7 93.0L70.9 92.1L72.4 91.6L69.2 92.4Z"/><path class="k89" d="M66.1 93.6L69.4 92.5L70.9 92.1L67.7 93.0Z"/><path class="k72" d="M64.6 94.3L67.9 93.0L69.4 92.5L66.1 93.6Z"/><path class="k90" d="M63.0 94.9L66.3 93.5L67.9 93.0L64.6 94.3Z"/><path class="k91" d="M61.4 95.4L64.7 94.0L66.3 93.5L63.0 94.9Z"/><path class="k92" d="M59.7 95.2L63.0 93.3L64.7 93.9L61.4 95.4Z"/><path class="k93" d="M58.0 95.1L61.2 92.7L63.0 93.3L59.7 95.2Z"/><path class="k94" d="M56.2 95.0L59.4 92.1L61.2 92.7L58.0 95.1Z"/><path class="k95" d="M54.5 96.6L57.8 94.3L59.4 92.1L56.2 95.0Z"/><path class="k96" d="M52.8 98.1L56.1 96.5L57.8 94.3L54.5 96.6Z"/></g>
<path d="M18.8 100.7L19.7 100.1L20.6 99.5L21.5 98.9L22.4 98.3L23.3 97.8L24.2 97.2L25.1 96.7L25.9 96.1L26.8 95.6L27.7 95.1L28.5 94.5L29.4 94.0L30.2 93.5L31.1 92.9L31.9 92.4L32.7 91.9L33.5 91.4L34.4 90.9L35.2 90.4L36.0 89.9L36.8 89.4L37.6 88.9L38.4 88.4L39.1 87.9L39.9 87.4L40.7 86.8L41.4 86.2L42.2 85.6L42.9 85.0L43.7 84.4L44.4 83.8L45.1 83.2L45.8 82.6L46.6 82.0L47.3 81.4L48.0 80.8L48.7 80.2L49.4 79.7L50.1 79.1L50.8 78.5L51.5 77.9L52.2 77.4L52.9 76.8L53.6 76.3L54.2 75.7L54.9 75.1L55.6 74.6L56.2 74.1L56.9 73.5L57.6 73.0L58.2 72.4L58.9 71.9L59.5 71.4L60.1 70.8L60.8 70.3L61.4 69.8L62.1 69.3L62.7 68.8L63.3 68.3L63.9 67.7L64.5 67.2L65.2 66.7L65.8 66.2L66.4 65.7M21.7 101.0L22.6 100.5L23.5 100.0L24.5 99.5L25.3 98.9L26.2 98.4L27.1 97.8L28.0 97.2L28.9 96.7L29.7 96.2L30.6 95.6L31.4 95.1L32.3 94.6L33.1 94.0L34.0 93.5L34.8 93.0L35.6 92.5L36.4 92.0L37.2 91.5L38.0 91.0L38.8 90.5L39.6 90.0L40.4 89.5L41.2 89.0L42.0 88.5L42.7 88.0L43.5 87.5L44.3 86.9L45.0 86.2L45.7 85.6L46.5 84.9L47.2 84.3L47.9 84.0L48.7 83.4L49.4 82.8L50.1 82.2L50.8 81.6L51.5 81.0L52.2 80.5L52.9 79.9L53.6 79.3L54.3 78.7L55.0 78.1L55.6 77.6L56.3 77.0L57.0 76.4L57.7 75.9L58.3 75.3L59.0 74.8L59.6 74.2L60.3 73.7L60.9 73.1L61.6 72.6L62.2 72.0L62.9 71.5L63.5 71.0L64.1 70.4L64.7 69.9L65.4 69.4L66.0 68.9L66.6 68.3L67.2 67.8L67.8 67.3L68.4 66.8L69.0 66.3M24.6 101.2L25.6 100.7L26.5 100.2L27.4 99.8L28.3 99.3L29.2 98.9L30.1 98.4L30.9 97.8L31.8 97.2L32.7 96.7L33.5 96.2L34.4 95.6L35.2 95.1L36.0 94.6L36.9 94.1L37.7 93.5L38.5 93.0L39.3 92.5L40.1 92.0L40.9 91.5L41.7 91.0L42.5 90.5L43.3 90.0L44.1 89.5L44.8 89.0L45.6 88.5L46.4 88.0L47.1 87.5L47.9 86.9L48.6 86.2L49.3 85.5L50.0 84.8L50.8 84.9L51.5 84.3L52.2 83.7L52.9 83.1L53.6 82.5L54.3 81.9L55.0 81.3L55.7 80.7L56.4 80.1L57.1 79.5L57.8 78.9L58.4 78.3L59.1 77.7L59.8 77.2L60.4 76.6L61.1 76.0L61.7 75.5L62.4 74.9L63.0 74.4L63.7 73.8L64.3 73.2L65.0 72.7L65.6 72.2L66.2 71.6L66.9 71.1L67.5 70.5L68.1 70.0L68.7 69.5L69.3 68.9L69.9 68.4L70.5 67.9L71.1 67.4L71.7 66.9M27.6 101.5L28.5 101.0L29.4 100.5L30.4 100.0L31.2 99.5L32.1 99.0L33.0 98.6L33.9 98.2L34.8 97.7L35.6 97.2L36.5 96.7L37.3 96.2L38.2 95.6L39.0 95.1L39.8 94.6L40.6 94.0L41.4 93.5L42.3 93.0L43.1 92.5L43.8 92.0L44.6 91.5L45.4 91.0L46.2 90.5L47.0 90.0L47.7 89.5L48.5 89.0L49.3 88.5L50.0 88.0L50.7 87.5L51.5 86.9L52.2 86.1L52.9 85.4L53.7 85.8L54.4 85.2L55.1 84.5L55.8 83.9L56.5 83.3L57.2 82.7L57.9 82.1L58.6 81.5L59.2 80.9L59.9 80.3L60.6 79.7L61.3 79.1L61.9 78.5L62.6 77.9L63.2 77.3L63.9 76.8L64.5 76.2L65.2 75.6L65.8 75.1L66.5 74.5L67.1 73.9L67.7 73.4L68.4 72.8L69.0 72.3L69.6 71.7L70.2 71.2L70.8 70.6L71.4 70.1L72.1 69.6L72.7 69.0L73.3 68.5L73.9 68.0L74.4 67.4M30.7 101.8L31.6 101.3L32.5 100.7L33.4 100.2L34.3 99.7L35.1 99.2L36.0 98.7L36.9 98.3L37.8 97.9L38.6 97.4L39.5 97.0L40.3 96.6L41.2 96.1L42.0 95.6L42.8 95.1L43.6 94.5L44.4 94.0L45.2 93.5L46.0 93.0L46.8 92.5L47.6 92.0L48.4 91.5L49.1 91.0L49.9 90.5L50.7 90.0L51.4 89.5L52.2 89.0L52.9 88.5L53.7 88.0L54.4 87.6L55.1 86.9L55.8 86.2L56.6 86.7L57.3 86.0L58.0 85.4L58.7 84.8L59.4 84.1L60.1 83.5L60.8 82.9L61.4 82.3L62.1 81.7L62.8 81.1L63.4 80.5L64.1 79.9L64.8 79.3L65.4 78.7L66.1 78.1L66.7 77.5L67.4 76.9L68.0 76.3L68.6 75.8L69.3 75.2L69.9 74.6L70.5 74.0L71.2 73.5L71.8 72.9L72.4 72.4L73.0 71.8L73.6 71.3L74.2 70.7L74.8 70.2L75.4 69.6L76.0 69.1L76.6 68.6L77.2 68.0M33.7 101.9L34.6 101.4L35.5 100.9L36.4 100.4L37.3 99.8L38.2 99.4L39.1 98.9L39.9 98.4L40.8 98.0L41.6 97.6L42.5 97.1L43.3 96.7L44.2 96.3L45.0 95.9L45.8 95.5L46.6 95.0L47.4 94.5L48.2 94.0L49.0 93.5L49.8 93.0L50.6 92.5L51.3 92.0L52.1 91.5L52.9 91.0L53.6 90.5L54.4 90.0L55.1 89.5L55.9 89.1L56.6 88.6L57.3 88.1L58.1 87.7L58.8 87.1L59.5 87.6L60.2 86.9L60.9 86.3L61.6 85.6L62.3 85.0L63.0 84.4L63.7 83.7L64.3 83.1L65.0 82.5L65.7 81.9L66.3 81.3L67.0 80.6L67.6 80.0L68.3 79.4L68.9 78.8L69.6 78.2L70.2 77.6L70.9 77.1L71.5 76.5L72.1 75.9L72.7 75.3L73.4 74.7L74.0 74.2L74.6 73.6L75.2 73.0L75.8 72.5L76.4 71.9L77.0 71.3L77.6 70.8L78.2 70.2L78.8 69.7L79.4 69.2L80.0 68.6M36.8 101.9L37.7 101.4L38.6 100.8L39.5 100.3L40.4 99.8L41.3 99.4L42.1 99.0L43.0 98.5L43.8 98.1L44.7 97.7L45.5 97.2L46.4 96.8L47.2 96.4L48.0 96.0L48.8 95.6L49.7 95.2L50.5 94.8L51.3 94.4L52.0 93.9L52.8 93.4L53.6 92.9L54.4 92.4L55.1 91.9L55.9 91.4L56.6 91.0L57.4 90.5L58.1 90.0L58.8 89.5L59.6 89.1L60.3 88.6L61.0 88.2L61.7 87.8L62.5 88.5L63.2 87.8L63.9 87.1L64.6 86.5L65.2 85.8L65.9 85.2L66.6 84.6L67.3 83.9L67.9 83.3L68.6 82.7L69.2 82.0L69.9 81.4L70.5 80.8L71.2 80.2L71.8 79.6L72.5 79.0L73.1 78.4L73.7 77.8L74.3 77.2L75.0 76.6L75.6 76.0L76.2 75.4L76.8 74.8L77.4 74.3L78.0 73.7L78.6 73.1L79.2 72.5L79.8 72.0L80.4 71.4L81.0 70.9L81.6 70.3L82.2 69.7L82.7 69.2M40.0 101.9L40.8 101.3L41.7 100.7L42.6 100.2L43.5 99.6L44.4 99.2L45.2 98.8L46.1 98.4L46.9 98.1L47.8 97.7L48.6 97.3L49.5 96.9L50.3 96.4L51.1 96.0L51.9 95.6L52.7 95.2L53.5 94.8L54.3 94.4L55.1 94.1L55.9 93.7L56.7 93.3L57.4 92.9L58.2 92.4L58.9 91.9L59.7 91.4L60.4 90.9L61.1 90.4L61.9 89.9L62.6 89.5L63.3 89.0L64.0 88.6L64.7 88.2L65.5 88.9L66.2 88.2L66.8 87.5L67.5 86.9L68.2 86.2L68.9 85.6L69.5 84.9L70.2 84.3L70.9 83.6L71.5 83.0L72.2 82.4L72.8 81.7L73.5 81.1L74.1 80.5L74.7 79.9L75.4 79.3L76.0 78.7L76.6 78.0L77.2 77.4L77.9 76.8L78.5 76.2L79.1 75.7L79.7 75.1L80.3 74.5L80.9 73.9L81.5 73.3L82.1 72.7L82.7 72.2L83.3 71.6L83.8 71.0L84.4 70.5L85.0 69.9L85.6 69.3M43.2 101.9L44.0 101.3L44.9 100.6L45.8 100.0L46.6 99.3L47.5 98.9L48.4 98.5L49.2 98.2L50.1 97.8L50.9 97.5L51.8 97.2L52.6 96.8L53.4 96.4L54.2 96.0L55.0 95.6L55.8 95.1L56.6 94.8L57.4 94.4L58.2 94.0L59.0 93.6L59.7 93.3L60.5 92.9L61.2 92.6L62.0 92.2L62.7 91.8L63.5 91.3L64.2 90.8L64.9 90.3L65.6 89.9L66.3 89.4L67.0 89.0L67.7 88.5L68.5 89.1L69.2 88.4L69.8 87.7L70.5 87.0L71.2 86.4L71.8 85.7L72.5 85.1L73.2 84.4L73.8 83.8L74.5 83.1L75.1 82.5L75.8 81.8L76.4 81.2L77.0 80.6L77.7 80.0L78.3 79.3L78.9 78.7L79.5 78.1L80.2 77.5L80.8 76.9L81.4 76.3L82.0 75.7L82.6 75.1L83.2 74.5L83.8 73.9L84.4 73.3L85.0 72.7L85.5 72.2L86.1 71.6L86.7 71.0L87.3 70.4L87.9 69.9L88.4 69.3M46.3 100.9L47.2 100.4L48.1 99.9L49.0 99.4L49.8 98.9L50.7 98.5L51.5 98.1L52.4 97.8L53.2 97.5L54.1 97.2L54.9 96.9L55.7 96.5L56.6 96.1L57.4 95.7L58.2 95.3L59.0 95.0L59.8 94.6L60.5 94.2L61.3 93.9L62.1 93.5L62.8 93.2L63.6 92.8L64.3 92.5L65.1 92.1L65.8 91.8L66.6 91.5L67.3 91.2L68.0 90.7L68.7 90.2L69.4 89.8L70.1 89.3L70.8 88.8L71.5 89.3L72.2 88.6L72.9 87.9L73.5 87.2L74.2 86.5L74.9 85.9L75.5 85.2L76.2 84.6L76.8 83.9L77.5 83.2L78.1 82.6L78.7 82.0L79.4 81.3L80.0 80.7L80.6 80.0L81.3 79.4L81.9 78.8L82.5 78.2L83.1 77.5L83.7 76.9L84.3 76.3L84.9 75.7L85.5 75.1L86.1 74.5L86.7 73.9L87.3 73.3L87.9 72.7L88.5 72.1L89.0 71.6L89.6 71.0L90.2 70.4L90.7 69.8L91.3 69.3M49.5 99.7L50.4 99.1L51.3 98.4L52.1 97.8L53.0 97.2L53.9 97.1L54.7 97.0L55.6 96.9L56.5 96.8L57.3 96.7L58.1 96.5L59.0 96.1L59.8 95.7L60.6 95.3L61.4 94.9L62.1 94.6L62.9 94.2L63.7 93.9L64.5 93.6L65.2 93.3L66.0 92.9L66.7 92.6L67.5 92.3L68.2 91.9L69.0 91.6L69.7 91.3L70.4 91.0L71.1 90.7L71.8 90.5L72.5 90.1L73.2 89.6L73.9 89.1L74.6 89.5L75.3 88.8L75.9 88.1L76.6 87.4L77.3 86.7L77.9 86.0L78.6 85.4L79.2 84.7L79.9 84.0L80.5 83.4L81.1 82.7L81.8 82.1L82.4 81.4L83.0 80.8L83.7 80.1L84.3 79.5L84.9 78.9L85.5 78.2L86.1 77.6L86.7 77.0L87.3 76.4L87.9 75.7L88.5 75.1L89.1 74.5L89.7 73.9L90.2 73.3L90.8 72.7L91.4 72.1L92.0 71.5L92.5 70.9L93.1 70.4L93.7 69.8L94.2 69.2M52.8 98.1L53.7 97.4L54.5 96.6L55.4 95.8L56.2 95.0L57.1 95.1L58.0 95.1L58.8 95.2L59.7 95.2L60.5 95.4L61.4 95.4L62.2 95.2L63.0 94.9L63.8 94.6L64.6 94.3L65.4 94.0L66.1 93.6L66.9 93.3L67.7 93.0L68.4 92.7L69.2 92.4L69.9 92.1L70.7 91.9L71.4 91.6L72.1 91.3L72.8 91.0L73.6 90.7L74.3 90.4L75.0 90.1L75.7 89.9L76.4 89.7L77.0 89.5L77.7 89.7L78.4 89.0L79.1 88.3L79.7 87.6L80.4 86.9L81.0 86.2L81.7 85.5L82.3 84.8L82.9 84.2L83.6 83.5L84.2 82.8L84.8 82.2L85.5 81.5L86.1 80.9L86.7 80.2L87.3 79.6L87.9 78.9L88.5 78.3L89.1 77.7L89.7 77.0L90.3 76.4L90.9 75.8L91.5 75.2L92.1 74.5L92.7 73.9L93.2 73.3L93.8 72.7L94.4 72.1L95.0 71.5L95.5 70.9L96.1 70.3L96.6 69.7L97.2 69.2M56.1 96.5L57.0 95.5L57.8 94.3L58.6 93.2L59.4 92.1L60.3 92.4L61.2 92.7L62.1 93.0L63.0 93.3L63.8 93.7L64.7 94.0L65.5 93.7L66.3 93.5L67.1 93.2L67.9 93.0L68.6 92.8L69.4 92.5L70.2 92.3L70.9 92.1L71.7 91.8L72.4 91.6L73.2 91.4L73.9 91.1L74.6 90.9L75.3 90.7L76.1 90.4L76.8 90.2L77.5 90.0L78.2 89.7L78.9 89.5L79.5 89.2L80.2 89.0L80.9 89.3L81.6 88.6L82.2 87.9L82.9 87.2L83.5 86.5L84.2 85.8L84.8 85.1L85.4 84.4L86.1 83.7L86.7 83.1L87.3 82.4L88.0 81.7L88.6 81.1L89.2 80.4L89.8 79.7L90.4 79.1L91.0 78.4L91.6 77.8L92.2 77.2L92.8 76.5L93.4 75.9L94.0 75.3L94.6 74.6L95.1 74.0L95.7 73.4L96.3 72.8L96.9 72.2L97.4 71.6L98.0 71.0L98.6 70.4L99.1 69.8L99.7 69.2L100.2 68.6M18.8 100.7L19.9 100.8L21.0 100.9L22.1 101.0L23.2 101.1L24.3 101.2L25.4 101.3L26.5 101.4L27.6 101.5L28.8 101.6L29.9 101.7L31.0 101.8L32.2 101.9L33.3 101.9L34.5 101.9L35.6 101.9L36.8 101.9L38.0 101.9L39.2 101.9L40.4 101.9L41.5 101.9L42.8 101.9L44.0 101.8L45.1 101.4L46.3 100.9L47.5 100.5L48.7 100.0L49.9 99.5L51.1 98.9L52.4 98.3L53.6 97.7L54.9 97.1L56.1 96.5M22.4 98.3L23.5 98.6L24.6 98.8L25.7 99.0L26.8 99.2L27.9 99.3L29.0 99.3L30.1 99.4L31.2 99.5L32.4 99.6L33.5 99.6L34.6 99.7L35.8 99.8L36.9 99.8L38.1 99.9L39.2 99.9L40.4 99.8L41.5 99.8L42.7 99.7L43.9 99.6L45.0 99.5L46.2 99.4L47.4 99.2L48.6 99.1L49.8 98.9L51.0 98.3L52.2 97.6L53.4 96.9L54.6 96.2L55.8 95.3L57.0 94.3L58.2 93.2L59.4 92.0M25.9 96.1L27.0 96.3L28.1 96.6L29.2 96.8L30.3 97.0L31.4 97.2L32.6 97.4L33.7 97.6L34.8 97.7L35.9 97.8L37.0 97.8L38.1 97.9L39.3 97.9L40.4 98.0L41.5 98.0L42.7 98.1L43.8 98.1L45.0 98.1L46.2 98.1L47.3 98.0L48.5 97.9L49.7 97.8L50.9 97.7L52.1 97.6L53.2 97.5L54.4 97.3L55.7 97.1L56.9 96.7L58.1 96.1L59.3 95.4L60.5 94.8L61.7 94.1L63.0 93.3M29.4 94.0L30.5 94.2L31.6 94.4L32.6 94.6L33.7 94.8L34.8 95.0L35.9 95.2L37.1 95.4L38.2 95.6L39.3 95.8L40.4 96.0L41.5 96.2L42.7 96.3L43.8 96.3L44.9 96.3L46.1 96.4L47.2 96.4L48.4 96.4L49.5 96.4L50.7 96.4L51.8 96.4L53.0 96.4L54.2 96.3L55.4 96.2L56.6 96.1L57.8 95.9L59.0 95.8L60.2 95.6L61.4 95.4L62.6 95.1L63.8 94.6L65.0 94.0L66.3 93.5M32.7 91.9L33.8 92.1L34.9 92.3L36.0 92.6L37.1 92.8L38.1 93.0L39.2 93.2L40.3 93.3L41.4 93.5L42.6 93.7L43.7 93.9L44.8 94.1L45.9 94.3L47.1 94.4L48.2 94.6L49.3 94.7L50.5 94.8L51.6 94.8L52.7 94.8L53.9 94.8L55.1 94.8L56.2 94.8L57.4 94.7L58.6 94.7L59.8 94.6L60.9 94.5L62.1 94.3L63.3 94.2L64.5 94.0L65.7 93.7L67.0 93.4L68.2 93.1L69.4 92.5M36.0 89.9L37.0 90.1L38.1 90.3L39.2 90.5L40.3 90.7L41.4 90.9L42.4 91.1L43.5 91.3L44.6 91.5L45.7 91.7L46.8 91.8L48.0 92.0L49.1 92.2L50.2 92.4L51.3 92.6L52.5 92.8L53.6 92.9L54.7 93.1L55.9 93.2L57.0 93.3L58.2 93.3L59.3 93.3L60.5 93.3L61.7 93.2L62.8 93.2L64.0 93.1L65.2 93.0L66.4 92.9L67.6 92.7L68.8 92.5L70.0 92.3L71.2 92.0L72.4 91.6M39.1 87.9L40.2 88.1L41.3 88.3L42.3 88.5L43.4 88.7L44.5 88.9L45.6 89.1L46.6 89.3L47.7 89.5L48.8 89.7L49.9 89.8L51.0 90.0L52.1 90.2L53.3 90.4L54.4 90.6L55.5 90.8L56.6 91.0L57.8 91.1L58.9 91.3L60.0 91.4L61.2 91.6L62.3 91.7L63.5 91.9L64.7 91.9L65.8 91.8L67.0 91.8L68.2 91.7L69.3 91.6L70.5 91.5L71.7 91.3L72.9 91.2L74.1 90.9L75.3 90.7M42.2 85.6L43.2 85.8L44.3 86.0L45.4 86.3L46.4 86.5L47.5 86.8L48.6 87.1L49.7 87.3L50.7 87.5L51.8 87.7L52.9 87.9L54.0 88.1L55.1 88.3L56.2 88.5L57.3 88.7L58.5 88.9L59.6 89.1L60.7 89.2L61.8 89.4L63.0 89.5L64.1 89.7L65.2 89.8L66.4 90.0L67.5 90.1L68.7 90.2L69.9 90.3L71.0 90.5L72.2 90.5L73.4 90.3L74.6 90.2L75.8 90.1L77.0 89.9L78.2 89.7M45.1 83.2L46.2 83.5L47.2 83.8L48.3 84.1L49.4 84.5L50.4 84.8L51.5 85.1L52.6 85.4L53.7 85.8L54.8 86.1L55.9 86.4L57.0 86.8L58.1 87.1L59.2 87.4L60.3 87.8L61.4 88.1L62.5 88.5L63.6 88.7L64.7 88.8L65.8 88.9L67.0 89.0L68.1 89.0L69.2 89.1L70.4 89.2L71.5 89.3L72.7 89.3L73.8 89.4L75.0 89.5L76.2 89.6L77.3 89.6L78.5 89.7L79.7 89.7L80.9 89.3M48.0 80.8L49.0 81.1L50.1 81.4L51.2 81.7L52.2 82.0L53.3 82.4L54.4 82.7L55.4 83.0L56.5 83.3L57.6 83.6L58.7 83.9L59.7 84.2L60.8 84.6L61.9 84.9L63.0 85.2L64.1 85.5L65.2 85.8L66.4 86.1L67.5 86.2L68.6 86.2L69.7 86.3L70.8 86.4L71.9 86.4L73.1 86.5L74.2 86.5L75.3 86.6L76.5 86.7L77.7 86.7L78.8 86.8L80.0 86.9L81.2 86.9L82.3 86.9L83.5 86.5M50.8 78.5L51.9 78.8L52.9 79.1L53.9 79.4L55.0 79.7L56.1 80.0L57.1 80.3L58.2 80.6L59.2 80.9L60.3 81.2L61.4 81.5L62.5 81.8L63.6 82.1L64.6 82.4L65.7 82.7L66.8 83.0L67.9 83.3L69.0 83.6L70.1 83.6L71.2 83.7L72.3 83.7L73.4 83.7L74.6 83.8L75.7 83.8L76.8 83.9L78.0 83.9L79.1 84.0L80.3 84.0L81.4 84.1L82.6 84.1L83.7 84.2L84.9 84.1L86.1 83.7M53.6 76.3L54.6 76.5L55.6 76.8L56.7 77.1L57.7 77.4L58.8 77.7L59.8 77.9L60.9 78.2L61.9 78.5L63.0 78.8L64.1 79.1L65.1 79.4L66.2 79.6L67.3 79.9L68.4 80.2L69.4 80.5L70.5 80.8L71.6 81.1L72.7 81.1L73.8 81.1L74.9 81.2L76.0 81.2L77.1 81.2L78.3 81.3L79.4 81.3L80.5 81.3L81.6 81.4L82.8 81.4L83.9 81.5L85.1 81.5L86.2 81.5L87.4 81.4L88.6 81.1M56.2 74.1L57.3 74.3L58.3 74.6L59.3 74.8L60.4 75.1L61.4 75.4L62.4 75.6L63.5 75.9L64.5 76.2L65.6 76.5L66.7 76.7L67.7 77.0L68.8 77.3L69.9 77.6L70.9 77.8L72.0 78.1L73.1 78.4L74.2 78.6L75.3 78.6L76.4 78.7L77.4 78.7L78.5 78.7L79.7 78.7L80.8 78.8L81.9 78.8L83.0 78.8L84.1 78.8L85.3 78.9L86.4 78.9L87.5 78.9L88.7 78.9L89.8 78.8L91.0 78.4M58.9 71.9L59.9 72.2L60.9 72.4L61.9 72.7L63.0 72.9L64.0 73.2L65.0 73.4L66.1 73.7L67.1 73.9L68.2 74.2L69.2 74.4L70.3 74.7L71.3 75.0L72.4 75.2L73.4 75.5L74.5 75.7L75.6 76.0L76.7 76.2L77.7 76.2L78.8 76.2L79.9 76.3L81.0 76.3L82.1 76.3L83.2 76.3L84.3 76.3L85.4 76.3L86.6 76.3L87.7 76.4L88.8 76.4L89.9 76.4L91.1 76.4L92.2 76.3L93.4 75.9M61.4 69.8L62.4 70.0L63.4 70.3L64.5 70.5L65.5 70.8L66.5 71.0L67.5 71.2L68.6 71.5L69.6 71.7L70.6 72.0L71.7 72.2L72.7 72.4L73.8 72.7L74.8 72.9L75.9 73.2L77.0 73.4L78.0 73.7L79.1 73.9L80.2 73.9L81.2 73.9L82.3 73.9L83.4 73.9L84.5 73.9L85.6 73.9L86.7 73.9L87.8 73.9L88.9 73.9L90.0 73.9L91.2 73.9L92.3 73.9L93.4 73.9L94.6 73.8L95.7 73.4M63.9 67.7L64.9 68.0L65.9 68.2L66.9 68.4L68.0 68.6L69.0 68.9L70.0 69.1L71.0 69.3L72.1 69.6L73.1 69.8L74.1 70.0L75.2 70.2L76.2 70.5L77.3 70.7L78.3 70.9L79.4 71.2L80.4 71.4L81.5 71.6L82.5 71.6L83.6 71.6L84.7 71.6L85.8 71.6L86.8 71.6L87.9 71.6L89.0 71.6L90.1 71.5L91.2 71.5L92.3 71.5L93.5 71.5L94.6 71.5L95.7 71.5L96.8 71.4L98.0 71.0M66.4 65.7L67.4 65.9L68.4 66.2L69.4 66.4L70.4 66.6L71.4 66.8L72.4 67.0L73.4 67.2L74.4 67.4L75.5 67.7L76.5 67.9L77.5 68.1L78.6 68.3L79.6 68.5L80.6 68.8L81.7 69.0L82.7 69.2L83.8 69.4L84.9 69.4L85.9 69.3L87.0 69.3L88.1 69.3L89.1 69.3L90.2 69.3L91.3 69.3L92.4 69.2L93.5 69.2L94.6 69.2L95.7 69.2L96.8 69.2L97.9 69.1L99.1 69.0L100.2 68.6" stroke="#10102a" stroke-opacity="0.66" stroke-width="0.4" fill="none" stroke-linejoin="round"/>
<g stroke-width="0.35" stroke-linejoin="round"><path class="k97" d="M99.1 69.8L100.2 68.6L100.2 67.7L99.1 68.8Z"/><path class="k97" d="M98.0 71.0L99.1 69.8L99.1 68.8L98.0 69.9Z"/><path class="k97" d="M96.9 72.2L98.0 71.0L98.0 69.9L96.9 71.0Z"/><path class="k97" d="M95.7 73.4L96.9 72.2L96.9 71.0L95.8 72.2Z"/><path class="k97" d="M94.6 74.6L95.7 73.4L95.8 72.2L94.6 73.3Z"/><path class="k97" d="M93.4 75.9L94.6 74.6L94.6 73.3L93.4 74.5Z"/><path class="k97" d="M92.2 77.2L93.4 75.9L93.4 74.5L92.2 75.7Z"/><path class="k97" d="M91.0 78.4L92.2 77.2L92.2 75.7L91.0 76.9Z"/><path class="k97" d="M89.8 79.7L91.0 78.4L91.0 76.9L89.8 78.1Z"/><path class="k97" d="M88.6 81.1L89.8 79.7L89.8 78.1L88.6 79.3Z"/><path class="k97" d="M87.3 82.4L88.6 81.1L88.6 79.3L87.3 80.6Z"/><path class="k97" d="M86.1 83.7L87.3 82.4L87.3 80.6L86.1 81.9Z"/><path class="k97" d="M84.8 85.1L86.1 83.7L86.1 81.9L84.8 83.1Z"/><path class="k97" d="M83.5 86.5L84.8 85.1L84.8 83.1L83.5 84.4Z"/><path class="k97" d="M82.2 87.9L83.5 86.5L83.5 84.4L82.2 85.7Z"/><path class="k97" d="M80.9 89.3L82.2 87.9L82.2 85.7L80.9 87.1Z"/><path class="k98" d="M79.5 89.2L80.9 88.7L80.9 87.1L79.5 87.3Z"/><path class="k98" d="M78.2 89.7L79.5 89.2L79.5 87.3L78.1 87.6Z"/><path class="k99" d="M76.8 90.2L78.2 89.7L78.1 87.6L76.7 87.9Z"/><path class="k99" d="M75.3 90.7L76.8 90.2L76.7 87.9L75.3 88.1Z"/><path class="k100" d="M73.9 91.1L75.3 90.7L75.3 88.1L73.8 88.4Z"/><path class="k101" d="M72.4 91.6L73.9 91.1L73.8 88.4L72.4 88.7Z"/><path class="k102" d="M70.9 92.1L72.4 91.6L72.4 88.7L70.8 89.0Z"/><path class="k103" d="M69.4 92.5L70.9 92.1L70.8 89.0L69.3 89.2Z"/><path class="k104" d="M67.9 93.0L69.4 92.5L69.3 89.2L67.7 89.5Z"/><path class="k105" d="M66.3 93.5L67.9 93.0L67.7 89.5L66.1 89.8Z"/><path class="k106" d="M64.7 94.0L66.3 93.5L66.1 89.8L64.5 90.1Z"/><path class="k107" d="M63.0 93.3L64.7 93.9L64.5 90.1L62.8 90.5Z"/><path class="k108" d="M61.2 92.7L63.0 93.3L62.8 90.5L61.1 90.8Z"/><path class="k109" d="M59.4 92.1L61.2 92.7L61.1 90.8L59.4 91.1Z"/><path class="k110" d="M57.8 94.3L59.4 92.1L59.4 91.1L57.6 91.4Z"/><path class="k109" d="M56.1 96.5L57.8 94.3L57.6 91.4L55.8 91.8Z"/></g>
<g stroke-width="0.35" stroke-linejoin="round"><path class="k111" d="M99.1 68.8L102.2 69.7L103.3 68.6L100.2 67.7Z"/><path class="k111" d="M98.0 69.9L101.1 70.8L102.2 69.7L99.1 68.8Z"/><path class="k111" d="M96.9 71.0L99.9 72.0L101.1 70.8L98.0 69.9Z"/><path class="k112" d="M95.8 72.2L98.8 73.1L99.9 72.0L96.9 71.0Z"/><path class="k112" d="M94.6 73.3L97.7 74.3L98.8 73.1L95.8 72.2Z"/><path class="k112" d="M93.4 74.5L96.5 75.5L97.7 74.3L94.6 73.3Z"/><path class="k112" d="M92.2 75.7L95.3 76.7L96.5 75.5L93.4 74.5Z"/><path class="k112" d="M91.0 76.9L94.1 77.9L95.3 76.7L92.2 75.7Z"/><path class="k112" d="M89.8 78.1L92.9 79.1L94.1 77.9L91.0 76.9Z"/><path class="k112" d="M88.6 79.3L91.7 80.4L92.9 79.1L89.8 78.1Z"/><path class="k112" d="M87.3 80.6L90.5 81.6L91.7 80.4L88.6 79.3Z"/><path class="k112" d="M86.1 81.9L89.3 82.9L90.5 81.6L87.3 80.6Z"/><path class="k112" d="M84.8 83.1L88.0 84.2L89.3 82.9L86.1 81.9Z"/><path class="k112" d="M83.5 84.4L86.7 85.5L88.0 84.2L84.8 83.1Z"/><path class="k112" d="M82.2 85.7L85.4 86.8L86.7 85.5L83.5 84.4Z"/><path class="k113" d="M80.9 87.1L84.1 88.2L85.4 86.8L82.2 85.7Z"/><path class="k37" d="M79.5 87.3L82.8 88.5L84.1 88.2L80.9 87.1Z"/><path class="k41" d="M78.1 87.6L81.4 88.7L82.8 88.5L79.5 87.3Z"/><path class="k45" d="M76.7 87.9L80.0 89.0L81.4 88.7L78.1 87.6Z"/><path class="k114" d="M75.3 88.1L78.6 89.3L80.0 89.0L76.7 87.9Z"/><path class="k115" d="M73.8 88.4L77.2 89.6L78.6 89.3L75.3 88.1Z"/><path class="k116" d="M72.4 88.7L75.7 89.9L77.2 89.6L73.8 88.4Z"/><path class="k117" d="M70.8 89.0L74.2 90.3L75.7 89.9L72.4 88.7Z"/><path class="k118" d="M69.3 89.2L72.7 90.6L74.2 90.2L70.8 89.0Z"/><path class="k119" d="M67.7 89.5L71.2 90.9L72.7 90.6L69.3 89.2Z"/><path class="k120" d="M66.1 89.8L69.6 91.2L71.2 90.9L67.7 89.5Z"/><path class="k121" d="M64.5 90.1L68.0 91.6L69.6 91.2L66.1 89.8Z"/><path class="k122" d="M62.8 90.5L66.4 91.9L68.0 91.6L64.5 90.1Z"/><path class="k123" d="M61.1 90.8L64.7 92.3L66.4 91.9L62.8 90.5Z"/><path class="k124" d="M59.4 91.1L63.0 92.6L64.7 92.3L61.1 90.8Z"/><path class="k125" d="M57.6 91.4L61.2 93.0L63.0 92.6L59.4 91.1Z"/><path class="k126" d="M55.8 91.8L59.5 93.4L61.2 93.0L57.6 91.4Z"/><path class="k111" d="M102.2 69.7L105.2 70.6L106.3 69.5L103.3 68.6Z"/><path class="k111" d="M101.1 70.8L104.1 71.8L105.2 70.6L102.2 69.7Z"/><path class="k111" d="M99.9 72.0L103.0 72.9L104.1 71.8L101.1 70.8Z"/><path class="k111" d="M98.8 73.1L101.9 74.1L103.0 72.9L99.9 72.0Z"/><path class="k112" d="M97.7 74.3L100.8 75.3L101.9 74.1L98.8 73.1Z"/><path class="k112" d="M96.5 75.5L99.6 76.5L100.8 75.3L97.7 74.3Z"/><path class="k112" d="M95.3 76.7L98.5 77.7L99.6 76.5L96.5 75.5Z"/><path class="k112" d="M94.1 77.9L97.3 78.9L98.5 77.7L95.3 76.7Z"/><path class="k112" d="M92.9 79.1L96.1 80.2L97.3 78.9L94.1 77.9Z"/><path class="k112" d="M91.7 80.4L94.9 81.4L96.1 80.2L92.9 79.1Z"/><path class="k112" d="M90.5 81.6L93.7 82.7L94.9 81.4L91.7 80.4Z"/><path class="k112" d="M89.3 82.9L92.5 84.0L93.7 82.7L90.5 81.6Z"/><path class="k112" d="M88.0 84.2L91.2 85.3L92.5 84.0L89.3 82.9Z"/><path class="k112" d="M86.7 85.5L89.9 86.6L91.2 85.3L88.0 84.2Z"/><path class="k112" d="M85.4 86.8L88.7 87.9L89.9 86.6L86.7 85.5Z"/><path class="k112" d="M84.1 88.2L87.4 89.3L88.7 87.9L85.4 86.8Z"/><path class="k50" d="M82.8 88.5L86.0 89.6L87.4 89.3L84.1 88.2Z"/><path class="k41" d="M81.4 88.7L84.7 89.9L86.0 89.6L82.8 88.5Z"/><path class="k45" d="M80.0 89.0L83.4 90.2L84.7 89.9L81.4 88.7Z"/><path class="k127" d="M78.6 89.3L82.0 90.5L83.4 90.2L80.0 89.0Z"/><path class="k115" d="M77.2 89.6L80.6 90.9L82.0 90.5L78.6 89.3Z"/><path class="k116" d="M75.7 89.9L79.1 91.2L80.6 90.9L77.2 89.6Z"/><path class="k128" d="M74.2 90.3L77.7 91.6L79.1 91.2L75.7 89.9Z"/><path class="k118" d="M72.7 90.6L76.2 91.9L77.7 91.6L74.2 90.3Z"/><path class="k129" d="M71.2 90.9L74.7 92.3L76.2 91.9L72.7 90.6Z"/><path class="k120" d="M69.6 91.2L73.1 92.6L74.7 92.3L71.2 90.9Z"/><path class="k130" d="M68.0 91.6L71.5 93.0L73.1 92.6L69.6 91.2Z"/><path class="k121" d="M66.4 91.9L69.9 93.4L71.5 93.0L68.0 91.6Z"/><path class="k123" d="M64.7 92.3L68.3 93.8L69.9 93.4L66.4 91.9Z"/><path class="k124" d="M63.0 92.6L66.6 94.2L68.3 93.8L64.7 92.3Z"/><path class="k131" d="M61.2 93.0L64.9 94.6L66.6 94.2L63.0 92.6Z"/><path class="k132" d="M59.5 93.4L63.1 95.0L64.9 94.6L61.2 93.0Z"/><path class="k111" d="M105.2 70.6L108.3 71.6L109.4 70.4L106.3 69.5Z"/><path class="k111" d="M104.1 71.8L107.2 72.7L108.3 71.6L105.2 70.6Z"/><path class="k111" d="M103.0 72.9L106.1 73.9L107.2 72.7L104.1 71.8Z"/><path class="k111" d="M101.9 74.1L105.0 75.1L106.1 73.9L103.0 72.9Z"/><path class="k111" d="M100.8 75.3L103.9 76.3L105.0 75.1L101.9 74.1Z"/><path class="k112" d="M99.6 76.5L102.8 77.5L103.9 76.3L100.8 75.3Z"/><path class="k112" d="M98.5 77.7L101.6 78.7L102.8 77.5L99.6 76.5Z"/><path class="k112" d="M97.3 78.9L100.5 79.9L101.6 78.7L98.5 77.7Z"/><path class="k112" d="M96.1 80.2L99.3 81.2L100.5 79.9L97.3 78.9Z"/><path class="k112" d="M94.9 81.4L98.1 82.5L99.3 81.2L96.1 80.2Z"/><path class="k112" d="M93.7 82.7L96.9 83.7L98.1 82.5L94.9 81.4Z"/><path class="k112" d="M92.5 84.0L95.7 85.0L96.9 83.7L93.7 82.7Z"/><path class="k112" d="M91.2 85.3L94.4 86.4L95.7 85.0L92.5 84.0Z"/><path class="k112" d="M89.9 86.6L93.2 87.7L94.4 86.4L91.2 85.3Z"/><path class="k112" d="M88.7 87.9L91.9 89.0L93.2 87.7L89.9 86.6Z"/><path class="k112" d="M87.4 89.3L90.6 90.4L91.9 89.0L88.7 87.9Z"/><path class="k50" d="M86.0 89.6L89.4 90.7L90.7 90.4L87.4 89.3Z"/><path class="k59" d="M84.7 89.9L88.1 91.1L89.4 90.7L86.0 89.6Z"/><path class="k133" d="M83.4 90.2L86.7 91.4L88.1 91.1L84.7 89.9Z"/><path class="k127" d="M82.0 90.5L85.4 91.8L86.7 91.4L83.4 90.2Z"/><path class="k134" d="M80.6 90.9L84.0 92.1L85.4 91.8L82.0 90.5Z"/><path class="k135" d="M79.1 91.2L82.6 92.5L84.0 92.1L80.6 90.9Z"/><path class="k136" d="M77.7 91.6L81.1 92.9L82.6 92.5L79.1 91.2Z"/><path class="k118" d="M76.2 91.9L79.7 93.3L81.1 92.9L77.7 91.6Z"/><path class="k129" d="M74.7 92.3L78.2 93.7L79.7 93.3L76.2 91.9Z"/><path class="k119" d="M73.1 92.6L76.6 94.0L78.2 93.6L74.7 92.3Z"/><path class="k130" d="M71.5 93.0L75.1 94.4L76.6 94.0L73.1 92.6Z"/><path class="k121" d="M69.9 93.4L73.5 94.9L75.1 94.4L71.5 93.0Z"/><path class="k122" d="M68.3 93.8L71.9 95.3L73.5 94.9L69.9 93.4Z"/><path class="k137" d="M66.6 94.2L70.2 95.7L71.9 95.3L68.3 93.8Z"/><path class="k131" d="M64.9 94.6L68.6 96.1L70.2 95.7L66.6 94.2Z"/><path class="k132" d="M63.1 95.0L66.9 96.6L68.6 96.1L64.9 94.6Z"/><path class="k111" d="M108.3 71.6L111.4 72.5L112.4 71.4L109.4 70.4Z"/><path class="k111" d="M107.2 72.7L110.3 73.7L111.4 72.5L108.3 71.6Z"/><path class="k111" d="M106.1 73.9L109.3 74.9L110.3 73.7L107.2 72.7Z"/><path class="k111" d="M105.0 75.1L108.2 76.1L109.3 74.9L106.1 73.9Z"/><path class="k111" d="M103.9 76.3L107.1 77.3L108.2 76.1L105.0 75.1Z"/><path class="k111" d="M102.8 77.5L105.9 78.5L107.1 77.3L103.9 76.3Z"/><path class="k138" d="M101.6 78.7L104.8 79.7L105.9 78.5L102.8 77.5Z"/><path class="k112" d="M100.5 79.9L103.7 81.0L104.8 79.7L101.6 78.7Z"/><path class="k112" d="M99.3 81.2L102.5 82.2L103.7 81.0L100.5 79.9Z"/><path class="k112" d="M98.1 82.5L101.3 83.5L102.5 82.2L99.3 81.2Z"/><path class="k112" d="M96.9 83.7L100.1 84.8L101.3 83.5L98.1 82.5Z"/><path class="k112" d="M95.7 85.0L98.9 86.1L100.1 84.8L96.9 83.7Z"/><path class="k112" d="M94.4 86.4L97.7 87.5L98.9 86.1L95.7 85.0Z"/><path class="k112" d="M93.2 87.7L96.5 88.8L97.7 87.5L94.4 86.4Z"/><path class="k112" d="M91.9 89.0L95.2 90.2L96.5 88.8L93.2 87.7Z"/><path class="k112" d="M90.6 90.4L94.0 91.6L95.2 90.2L91.9 89.0Z"/><path class="k39" d="M89.4 90.7L92.7 91.9L94.0 91.5L90.7 90.4Z"/><path class="k139" d="M88.1 91.1L91.4 92.3L92.7 91.9L89.4 90.7Z"/><path class="k140" d="M86.7 91.4L90.1 92.6L91.4 92.3L88.1 91.1Z"/><path class="k141" d="M85.4 91.8L88.8 93.0L90.1 92.6L86.7 91.4Z"/><path class="k142" d="M84.0 92.1L87.4 93.4L88.8 93.0L85.4 91.8Z"/><path class="k135" d="M82.6 92.5L86.0 93.8L87.4 93.4L84.0 92.1Z"/><path class="k136" d="M81.1 92.9L84.6 94.2L86.0 93.8L82.6 92.5Z"/><path class="k117" d="M79.7 93.3L83.2 94.6L84.6 94.2L81.1 92.9Z"/><path class="k143" d="M78.2 93.7L81.7 95.0L83.2 94.6L79.7 93.3Z"/><path class="k119" d="M76.6 94.0L80.2 95.5L81.7 95.0L78.2 93.6Z"/><path class="k130" d="M75.1 94.4L78.7 95.9L80.2 95.5L76.6 94.0Z"/><path class="k121" d="M73.5 94.9L77.1 96.4L78.7 95.9L75.1 94.4Z"/><path class="k122" d="M71.9 95.3L75.6 96.8L77.1 96.4L73.5 94.9Z"/><path class="k137" d="M70.2 95.7L73.9 97.3L75.6 96.8L71.9 95.3Z"/><path class="k124" d="M68.6 96.1L72.3 97.7L73.9 97.3L70.2 95.7Z"/><path class="k125" d="M66.9 96.6L70.6 98.2L72.3 97.7L68.6 96.1Z"/><path class="k111" d="M111.4 72.5L114.5 73.5L115.6 72.3L112.4 71.4Z"/><path class="k111" d="M110.3 73.7L113.5 74.7L114.5 73.5L111.4 72.5Z"/><path class="k111" d="M109.3 74.9L112.4 75.8L113.5 74.7L110.3 73.7Z"/><path class="k111" d="M108.2 76.1L111.3 77.0L112.4 75.8L109.3 74.9Z"/><path class="k111" d="M107.1 77.3L110.2 78.3L111.3 77.0L108.2 76.1Z"/><path class="k111" d="M105.9 78.5L109.1 79.5L110.2 78.3L107.1 77.3Z"/><path class="k111" d="M104.8 79.7L108.0 80.7L109.1 79.5L105.9 78.5Z"/><path class="k138" d="M103.7 81.0L106.9 82.0L108.0 80.7L104.8 79.7Z"/><path class="k112" d="M102.5 82.2L105.8 83.3L106.9 82.0L103.7 81.0Z"/><path class="k112" d="M101.3 83.5L104.6 84.6L105.8 83.3L102.5 82.2Z"/><path class="k112" d="M100.1 84.8L103.4 85.9L104.6 84.6L101.3 83.5Z"/><path class="k112" d="M98.9 86.1L102.2 87.2L103.4 85.9L100.1 84.8Z"/><path class="k112" d="M97.7 87.5L101.0 88.6L102.2 87.2L98.9 86.1Z"/><path class="k112" d="M96.5 88.8L99.8 89.9L101.0 88.6L97.7 87.5Z"/><path class="k112" d="M95.2 90.2L98.6 91.3L99.8 89.9L96.5 88.8Z"/><path class="k112" d="M94.0 91.6L97.3 92.7L98.6 91.3L95.2 90.2Z"/><path class="k39" d="M92.7 91.9L96.1 93.1L97.3 92.7L94.0 91.5Z"/><path class="k144" d="M91.4 92.3L94.8 93.5L96.1 93.1L92.7 91.9Z"/><path class="k145" d="M90.1 92.6L93.5 93.9L94.8 93.5L91.4 92.3Z"/><path class="k54" d="M88.8 93.0L92.2 94.3L93.5 93.9L90.1 92.6Z"/><path class="k56" d="M87.4 93.4L90.9 94.7L92.2 94.3L88.8 93.0Z"/><path class="k135" d="M86.0 93.8L89.5 95.1L90.9 94.7L87.4 93.4Z"/><path class="k146" d="M84.6 94.2L88.1 95.6L89.5 95.1L86.0 93.8Z"/><path class="k117" d="M83.2 94.6L86.7 96.0L88.1 95.6L84.6 94.2Z"/><path class="k143" d="M81.7 95.0L85.3 96.5L86.7 96.0L83.2 94.6Z"/><path class="k119" d="M80.2 95.5L83.8 96.9L85.3 96.5L81.7 95.0Z"/><path class="k120" d="M78.7 95.9L82.3 97.4L83.8 96.9L80.2 95.5Z"/><path class="k121" d="M77.1 96.4L80.8 97.9L82.3 97.4L78.7 95.9Z"/><path class="k122" d="M75.6 96.8L79.3 98.4L80.8 97.9L77.1 96.4Z"/><path class="k147" d="M73.9 97.3L77.7 98.9L79.3 98.4L75.6 96.8Z"/><path class="k124" d="M72.3 97.7L76.0 99.4L77.7 98.9L73.9 97.3Z"/><path class="k125" d="M70.6 98.2L74.4 99.9L76.0 99.4L72.3 97.7Z"/><path class="k111" d="M114.5 73.5L117.7 74.4L118.7 73.3L115.6 72.3Z"/><path class="k111" d="M113.5 74.7L116.6 75.6L117.7 74.4L114.5 73.5Z"/><path class="k111" d="M112.4 75.8L115.6 76.8L116.6 75.6L113.5 74.7Z"/><path class="k111" d="M111.3 77.0L114.5 78.0L115.6 76.8L112.4 75.8Z"/><path class="k111" d="M110.2 78.3L113.5 79.3L114.5 78.0L111.3 77.0Z"/><path class="k111" d="M109.1 79.5L112.4 80.5L113.5 79.3L110.2 78.3Z"/><path class="k111" d="M108.0 80.7L111.3 81.8L112.4 80.5L109.1 79.5Z"/><path class="k111" d="M106.9 82.0L110.2 83.0L111.3 81.8L108.0 80.7Z"/><path class="k138" d="M105.8 83.3L109.0 84.3L110.2 83.0L106.9 82.0Z"/><path class="k112" d="M104.6 84.6L107.9 85.6L109.0 84.3L105.8 83.3Z"/><path class="k112" d="M103.4 85.9L106.7 87.0L107.9 85.6L104.6 84.6Z"/><path class="k112" d="M102.2 87.2L105.6 88.3L106.7 87.0L103.4 85.9Z"/><path class="k112" d="M101.0 88.6L104.4 89.7L105.6 88.3L102.2 87.2Z"/><path class="k112" d="M99.8 89.9L103.2 91.0L104.4 89.7L101.0 88.6Z"/><path class="k112" d="M98.6 91.3L101.9 92.4L103.2 91.0L99.8 89.9Z"/><path class="k112" d="M97.3 92.7L100.7 93.9L101.9 92.4L98.6 91.3Z"/><path class="k32" d="M96.1 93.1L99.5 94.2L100.7 93.8L97.3 92.7Z"/><path class="k144" d="M94.8 93.5L98.3 94.7L99.5 94.2L96.1 93.1Z"/><path class="k145" d="M93.5 93.9L97.0 95.1L98.3 94.7L94.8 93.5Z"/><path class="k46" d="M92.2 94.3L95.7 95.5L97.0 95.1L93.5 93.9Z"/><path class="k56" d="M90.9 94.7L94.4 96.0L95.7 95.5L92.2 94.3Z"/><path class="k135" d="M89.5 95.1L93.1 96.5L94.4 96.0L90.9 94.7Z"/><path class="k116" d="M88.1 95.6L91.7 96.9L93.1 96.5L89.5 95.1Z"/><path class="k117" d="M86.7 96.0L90.3 97.4L91.7 96.9L88.1 95.6Z"/><path class="k118" d="M85.3 96.5L88.9 97.9L90.3 97.4L86.7 96.0Z"/><path class="k119" d="M83.8 96.9L87.5 98.4L88.9 97.9L85.3 96.5Z"/><path class="k120" d="M82.3 97.4L86.0 98.9L87.5 98.4L83.8 96.9Z"/><path class="k130" d="M80.8 97.9L84.5 99.4L86.0 98.9L82.3 97.4Z"/><path class="k121" d="M79.3 98.4L83.0 99.9L84.5 99.4L80.8 97.9Z"/><path class="k122" d="M77.7 98.9L81.4 100.5L83.0 99.9L79.3 98.4Z"/><path class="k124" d="M76.0 99.4L79.8 101.0L81.4 100.5L77.7 98.9Z"/><path class="k131" d="M74.4 99.9L78.2 101.6L79.8 101.0L76.0 99.4Z"/><path class="k111" d="M117.7 74.4L120.9 75.4L121.9 74.2L118.7 73.3Z"/><path class="k111" d="M116.6 75.6L119.8 76.6L120.9 75.4L117.7 74.4Z"/><path class="k111" d="M115.6 76.8L118.8 77.8L119.8 76.6L116.6 75.6Z"/><path class="k111" d="M114.5 78.0L117.8 79.1L118.8 77.8L115.6 76.8Z"/><path class="k111" d="M113.5 79.3L116.7 80.3L117.8 79.1L114.5 78.0Z"/><path class="k111" d="M112.4 80.5L115.6 81.6L116.7 80.3L113.5 79.3Z"/><path class="k111" d="M111.3 81.8L114.5 82.8L115.6 81.6L112.4 80.5Z"/><path class="k111" d="M110.2 83.1L113.5 84.1L114.5 82.8L111.3 81.8Z"/><path class="k111" d="M109.0 84.3L112.3 85.4L113.5 84.1L110.2 83.0Z"/><path class="k138" d="M107.9 85.6L111.2 86.7L112.3 85.4L109.0 84.3Z"/><path class="k112" d="M106.7 87.0L110.1 88.1L111.2 86.7L107.9 85.6Z"/><path class="k112" d="M105.6 88.3L108.9 89.4L110.1 88.1L106.7 87.0Z"/><path class="k112" d="M104.4 89.7L107.7 90.8L108.9 89.4L105.6 88.3Z"/><path class="k112" d="M103.2 91.0L106.6 92.2L107.7 90.8L104.4 89.7Z"/><path class="k112" d="M101.9 92.4L105.4 93.6L106.6 92.2L103.2 91.0Z"/><path class="k112" d="M100.7 93.9L104.1 95.0L105.4 93.6L101.9 92.4Z"/><path class="k32" d="M99.5 94.2L102.9 95.4L104.1 95.0L100.7 93.8Z"/><path class="k38" d="M98.3 94.7L101.7 95.9L102.9 95.4L99.5 94.2Z"/><path class="k148" d="M97.0 95.1L100.5 96.4L101.7 95.9L98.3 94.7Z"/><path class="k149" d="M95.7 95.5L99.2 96.8L100.5 96.4L97.0 95.1Z"/><path class="k150" d="M94.4 96.0L97.9 97.3L99.2 96.8L95.7 95.5Z"/><path class="k115" d="M93.1 96.5L96.6 97.8L97.9 97.3L94.4 96.0Z"/><path class="k116" d="M91.7 96.9L95.3 98.3L96.6 97.8L93.1 96.5Z"/><path class="k151" d="M90.3 97.4L94.0 98.8L95.3 98.3L91.7 96.9Z"/><path class="k118" d="M88.9 97.9L92.6 99.3L94.0 98.8L90.3 97.4Z"/><path class="k119" d="M87.5 98.4L91.2 99.9L92.6 99.3L88.9 97.9Z"/><path class="k152" d="M86.0 98.9L89.7 100.4L91.2 99.8L87.5 98.4Z"/><path class="k130" d="M84.5 99.4L88.3 100.9L89.7 100.4L86.0 98.9Z"/><path class="k121" d="M83.0 99.9L86.8 101.5L88.3 100.9L84.5 99.4Z"/><path class="k122" d="M81.4 100.5L85.2 102.1L86.8 101.5L83.0 99.9Z"/><path class="k137" d="M79.8 101.0L83.7 102.7L85.2 102.1L81.4 100.5Z"/><path class="k131" d="M78.2 101.6L82.1 103.2L83.7 102.7L79.8 101.0Z"/><path class="k111" d="M120.9 75.4L124.1 76.4L125.1 75.2L121.9 74.2Z"/><path class="k111" d="M119.8 76.6L123.1 77.6L124.1 76.4L120.9 75.4Z"/><path class="k111" d="M118.8 77.8L122.1 78.8L123.1 77.6L119.8 76.6Z"/><path class="k111" d="M117.8 79.1L121.0 80.1L122.1 78.8L118.8 77.8Z"/><path class="k111" d="M116.7 80.3L120.0 81.3L121.0 80.1L117.8 79.1Z"/><path class="k111" d="M115.6 81.6L118.9 82.6L120.0 81.3L116.7 80.3Z"/><path class="k111" d="M114.5 82.8L117.9 83.9L118.9 82.6L115.6 81.6Z"/><path class="k111" d="M113.5 84.1L116.8 85.2L117.9 83.9L114.5 82.8Z"/><path class="k111" d="M112.3 85.4L115.7 86.5L116.8 85.2L113.5 84.1Z"/><path class="k111" d="M111.2 86.7L114.6 87.8L115.7 86.5L112.3 85.4Z"/><path class="k138" d="M110.1 88.1L113.4 89.2L114.6 87.8L111.2 86.7Z"/><path class="k112" d="M108.9 89.4L112.3 90.5L113.4 89.2L110.1 88.1Z"/><path class="k112" d="M107.7 90.8L111.1 91.9L112.3 90.5L108.9 89.4Z"/><path class="k112" d="M106.6 92.2L110.0 93.3L111.1 91.9L107.7 90.8Z"/><path class="k112" d="M105.4 93.6L108.8 94.8L110.0 93.3L106.6 92.2Z"/><path class="k112" d="M104.1 95.0L107.6 96.2L108.8 94.8L105.4 93.6Z"/><path class="k32" d="M102.9 95.4L106.4 96.6L107.6 96.2L104.1 95.0Z"/><path class="k40" d="M101.7 95.9L105.2 97.1L106.4 96.6L102.9 95.4Z"/><path class="k153" d="M100.5 96.4L104.0 97.6L105.2 97.1L101.7 95.9Z"/><path class="k154" d="M99.2 96.8L102.8 98.1L104.0 97.6L100.5 96.4Z"/><path class="k55" d="M97.9 97.3L101.5 98.6L102.8 98.1L99.2 96.8Z"/><path class="k115" d="M96.6 97.8L100.2 99.2L101.5 98.6L97.9 97.3Z"/><path class="k116" d="M95.3 98.3L98.9 99.7L100.2 99.2L96.6 97.8Z"/><path class="k136" d="M94.0 98.8L97.6 100.2L98.9 99.7L95.3 98.3Z"/><path class="k118" d="M92.6 99.3L96.3 100.8L97.6 100.2L94.0 98.8Z"/><path class="k155" d="M91.2 99.9L94.9 101.3L96.3 100.8L92.6 99.3Z"/><path class="k156" d="M89.7 100.4L93.5 101.9L94.9 101.3L91.2 99.8Z"/><path class="k130" d="M88.3 100.9L92.0 102.5L93.5 101.9L89.7 100.4Z"/><path class="k121" d="M86.8 101.5L90.6 103.1L92.0 102.5L88.3 100.9Z"/><path class="k122" d="M85.2 102.1L89.1 103.7L90.6 103.1L86.8 101.5Z"/><path class="k147" d="M83.7 102.7L87.5 104.3L89.1 103.7L85.2 102.1Z"/><path class="k124" d="M82.1 103.2L86.0 105.0L87.5 104.3L83.7 102.7Z"/><path class="k111" d="M124.1 76.4L127.3 77.4L128.3 76.2L125.1 75.2Z"/><path class="k111" d="M123.1 77.6L126.3 78.6L127.3 77.4L124.1 76.4Z"/><path class="k111" d="M122.1 78.8L125.3 79.9L126.3 78.6L123.1 77.6Z"/><path class="k111" d="M121.0 80.1L124.3 81.1L125.3 79.9L122.1 78.8Z"/><path class="k111" d="M120.0 81.3L123.3 82.4L124.3 81.1L121.0 80.1Z"/><path class="k111" d="M118.9 82.6L122.2 83.6L123.3 82.4L120.0 81.3Z"/><path class="k111" d="M117.9 83.9L121.2 84.9L122.2 83.6L118.9 82.6Z"/><path class="k111" d="M116.8 85.2L120.1 86.3L121.2 84.9L117.9 83.9Z"/><path class="k111" d="M115.7 86.5L119.0 87.6L120.1 86.3L116.8 85.2Z"/><path class="k111" d="M114.6 87.8L118.0 88.9L119.0 87.6L115.7 86.5Z"/><path class="k111" d="M113.4 89.2L116.8 90.3L118.0 88.9L114.6 87.8Z"/><path class="k111" d="M112.3 90.5L115.7 91.7L116.8 90.3L113.4 89.2Z"/><path class="k112" d="M111.1 91.9L114.6 93.1L115.7 91.7L112.3 90.5Z"/><path class="k112" d="M110.0 93.3L113.4 94.5L114.6 93.1L111.1 91.9Z"/><path class="k112" d="M108.8 94.8L112.3 95.9L113.4 94.5L110.0 93.3Z"/><path class="k112" d="M107.6 96.2L111.1 97.4L112.3 95.9L108.8 94.8Z"/><path class="k32" d="M106.4 96.6L109.9 97.9L111.1 97.4L107.6 96.2Z"/><path class="k157" d="M105.2 97.1L108.8 98.4L109.9 97.9L106.4 96.6Z"/><path class="k158" d="M104.0 97.6L107.6 98.9L108.8 98.4L105.2 97.1Z"/><path class="k154" d="M102.8 98.1L106.4 99.4L107.6 98.9L104.0 97.6Z"/><path class="k114" d="M101.5 98.6L105.1 100.0L106.4 99.4L102.8 98.1Z"/><path class="k159" d="M100.2 99.2L103.9 100.5L105.1 100.0L101.5 98.6Z"/><path class="k116" d="M98.9 99.7L102.6 101.1L103.9 100.5L100.2 99.2Z"/><path class="k136" d="M97.6 100.2L101.3 101.7L102.6 101.1L98.9 99.7Z"/><path class="k160" d="M96.3 100.8L100.0 102.2L101.3 101.7L97.6 100.2Z"/><path class="k143" d="M94.9 101.3L98.6 102.8L100.0 102.2L96.3 100.8Z"/><path class="k156" d="M93.5 101.9L97.3 103.4L98.6 102.8L94.9 101.3Z"/><path class="k120" d="M92.0 102.5L95.8 104.1L97.3 103.4L93.5 101.9Z"/><path class="k130" d="M90.6 103.1L94.4 104.7L95.8 104.1L92.0 102.5Z"/><path class="k121" d="M89.1 103.7L92.9 105.3L94.4 104.7L90.6 103.1Z"/><path class="k147" d="M87.5 104.3L91.4 106.0L92.9 105.3L89.1 103.7Z"/><path class="k124" d="M86.0 105.0L89.9 106.7L91.4 106.0L87.5 104.3Z"/><path class="k111" d="M127.3 77.4L130.6 78.4L131.6 77.2L128.3 76.2Z"/><path class="k111" d="M126.3 78.6L129.6 79.6L130.6 78.4L127.3 77.4Z"/><path class="k111" d="M125.3 79.9L128.6 80.9L129.6 79.6L126.3 78.6Z"/><path class="k111" d="M124.3 81.1L127.6 82.1L128.6 80.9L125.3 79.9Z"/><path class="k111" d="M123.3 82.4L126.6 83.4L127.6 82.1L124.3 81.1Z"/><path class="k111" d="M122.2 83.6L125.6 84.7L126.6 83.4L123.3 82.4Z"/><path class="k111" d="M121.2 84.9L124.6 86.0L125.6 84.7L122.2 83.6Z"/><path class="k111" d="M120.1 86.3L123.5 87.3L124.6 86.0L121.2 84.9Z"/><path class="k111" d="M119.0 87.6L122.4 88.7L123.5 87.3L120.1 86.3Z"/><path class="k111" d="M118.0 88.9L121.4 90.1L122.4 88.7L119.0 87.6Z"/><path class="k111" d="M116.8 90.3L120.3 91.4L121.4 90.1L118.0 88.9Z"/><path class="k111" d="M115.7 91.7L119.2 92.8L120.3 91.4L116.8 90.3Z"/><path class="k111" d="M114.6 93.1L118.1 94.2L119.2 92.8L115.7 91.7Z"/><path class="k112" d="M113.4 94.5L116.9 95.7L118.1 94.2L114.6 93.1Z"/><path class="k112" d="M112.3 95.9L115.8 97.1L116.9 95.7L113.4 94.5Z"/><path class="k112" d="M111.1 97.4L114.6 98.6L115.8 97.1L112.3 95.9Z"/><path class="k32" d="M109.9 97.9L113.5 99.1L114.6 98.6L111.1 97.4Z"/><path class="k161" d="M108.8 98.4L112.3 99.6L113.5 99.1L109.9 97.9Z"/><path class="k41" d="M107.6 98.9L111.2 100.2L112.3 99.6L108.8 98.4Z"/><path class="k45" d="M106.4 99.4L110.0 100.7L111.2 100.2L107.6 98.9Z"/><path class="k127" d="M105.1 100.0L108.8 101.3L110.0 100.7L106.4 99.4Z"/><path class="k134" d="M103.9 100.5L107.6 101.9L108.8 101.3L105.1 100.0Z"/><path class="k135" d="M102.6 101.1L106.3 102.5L107.6 101.9L103.9 100.5Z"/><path class="k146" d="M101.3 101.7L105.0 103.1L106.3 102.5L102.6 101.1Z"/><path class="k117" d="M100.0 102.2L103.8 103.7L105.0 103.1L101.3 101.7Z"/><path class="k143" d="M98.6 102.8L102.4 104.4L103.8 103.7L100.0 102.2Z"/><path class="k119" d="M97.3 103.4L101.1 105.0L102.4 104.4L98.6 102.8Z"/><path class="k120" d="M95.8 104.1L99.7 105.7L101.1 105.0L97.3 103.4Z"/><path class="k130" d="M94.4 104.7L98.3 106.3L99.7 105.7L95.8 104.1Z"/><path class="k121" d="M92.9 105.3L96.9 107.0L98.3 106.3L94.4 104.7Z"/><path class="k162" d="M91.4 106.0L95.4 107.7L96.9 107.0L92.9 105.3Z"/><path class="k137" d="M89.9 106.7L93.9 108.4L95.4 107.7L91.4 106.0Z"/><path class="k111" d="M130.6 78.4L133.9 79.4L134.8 78.2L131.6 77.2Z"/><path class="k111" d="M129.6 79.6L132.9 80.7L133.9 79.4L130.6 78.4Z"/><path class="k111" d="M128.6 80.9L132.0 81.9L132.9 80.7L129.6 79.6Z"/><path class="k111" d="M127.6 82.1L131.0 83.2L132.0 81.9L128.6 80.9Z"/><path class="k111" d="M126.6 83.4L130.0 84.5L131.0 83.2L127.6 82.1Z"/><path class="k111" d="M125.6 84.7L129.0 85.8L130.0 84.5L126.6 83.4Z"/><path class="k111" d="M124.6 86.0L128.0 87.1L129.0 85.8L125.6 84.7Z"/><path class="k111" d="M123.5 87.3L126.9 88.4L128.0 87.1L124.6 86.0Z"/><path class="k111" d="M122.4 88.7L125.9 89.8L126.9 88.4L123.5 87.3Z"/><path class="k111" d="M121.4 90.1L124.8 91.2L125.9 89.8L122.4 88.7Z"/><path class="k111" d="M120.3 91.4L123.7 92.6L124.8 91.2L121.4 90.1Z"/><path class="k111" d="M119.2 92.8L122.7 94.0L123.7 92.6L120.3 91.4Z"/><path class="k111" d="M118.1 94.2L121.6 95.4L122.7 94.0L119.2 92.8Z"/><path class="k111" d="M116.9 95.7L120.4 96.9L121.6 95.4L118.1 94.2Z"/><path class="k112" d="M115.8 97.1L119.3 98.3L120.4 96.9L116.9 95.7Z"/><path class="k112" d="M114.6 98.6L118.2 99.8L119.3 98.3L115.8 97.1Z"/><path class="k32" d="M113.5 99.1L117.1 100.3L118.2 99.8L114.6 98.6Z"/><path class="k163" d="M112.3 99.6L116.0 100.9L117.1 100.3L113.5 99.1Z"/><path class="k41" d="M111.2 100.2L114.8 101.5L116.0 100.9L112.3 99.6Z"/><path class="k133" d="M110.0 100.7L113.7 102.1L114.8 101.5L111.2 100.2Z"/><path class="k141" d="M108.8 101.3L112.5 102.7L113.7 102.1L110.0 100.7Z"/><path class="k142" d="M107.6 101.9L111.3 103.3L112.5 102.7L108.8 101.3Z"/><path class="k135" d="M106.3 102.5L110.1 103.9L111.3 103.3L107.6 101.9Z"/><path class="k146" d="M105.0 103.1L108.8 104.6L110.1 103.9L106.3 102.5Z"/><path class="k151" d="M103.8 103.7L107.6 105.2L108.8 104.6L105.0 103.1Z"/><path class="k143" d="M102.4 104.4L106.3 105.9L107.6 105.2L103.8 103.7Z"/><path class="k164" d="M101.1 105.0L104.9 106.6L106.3 105.9L102.4 104.4Z"/><path class="k156" d="M99.7 105.7L103.6 107.3L104.9 106.6L101.1 105.0Z"/><path class="k130" d="M98.3 106.3L102.2 108.0L103.6 107.3L99.7 105.7Z"/><path class="k121" d="M96.9 107.0L100.8 108.7L102.2 108.0L98.3 106.3Z"/><path class="k162" d="M95.4 107.7L99.4 109.4L100.8 108.7L96.9 107.0Z"/><path class="k147" d="M93.9 108.4L97.9 110.2L99.4 109.4L95.4 107.7Z"/><path class="k111" d="M133.9 79.4L137.2 80.4L138.2 79.2L134.8 78.2Z"/><path class="k111" d="M132.9 80.7L136.3 81.7L137.2 80.4L133.9 79.4Z"/><path class="k111" d="M132.0 81.9L135.3 83.0L136.3 81.7L132.9 80.7Z"/><path class="k111" d="M131.0 83.2L134.4 84.2L135.3 83.0L132.0 81.9Z"/><path class="k111" d="M130.0 84.5L133.4 85.6L134.4 84.2L131.0 83.2Z"/><path class="k111" d="M129.0 85.8L132.4 86.9L133.4 85.6L130.0 84.5Z"/><path class="k111" d="M128.0 87.1L131.4 88.2L132.4 86.9L129.0 85.8Z"/><path class="k111" d="M126.9 88.4L130.4 89.6L131.4 88.2L128.0 87.1Z"/><path class="k111" d="M125.9 89.8L129.3 90.9L130.4 89.6L126.9 88.4Z"/><path class="k111" d="M124.8 91.2L128.3 92.3L129.3 90.9L125.9 89.8Z"/><path class="k111" d="M123.7 92.6L127.2 93.7L128.3 92.3L124.8 91.2Z"/><path class="k111" d="M122.7 94.0L126.2 95.1L127.2 93.7L123.7 92.6Z"/><path class="k111" d="M121.6 95.4L125.1 96.6L126.2 95.1L122.7 94.0Z"/><path class="k111" d="M120.4 96.9L124.0 98.1L125.1 96.6L121.6 95.4Z"/><path class="k111" d="M119.3 98.3L122.9 99.5L124.0 98.1L120.4 96.9Z"/><path class="k112" d="M118.2 99.8L121.7 101.0L122.9 99.5L119.3 98.3Z"/><path class="k32" d="M117.1 100.3L120.7 101.6L121.8 101.0L118.2 99.8Z"/><path class="k165" d="M116.0 100.9L119.6 102.2L120.7 101.6L117.1 100.3Z"/><path class="k166" d="M114.8 101.5L118.5 102.8L119.6 102.2L116.0 100.9Z"/><path class="k140" d="M113.7 102.1L117.4 103.4L118.5 102.8L114.8 101.5Z"/><path class="k167" d="M112.5 102.7L116.2 104.1L117.4 103.4L113.7 102.1Z"/><path class="k56" d="M111.3 103.3L115.0 104.7L116.2 104.1L112.5 102.7Z"/><path class="k168" d="M110.1 103.9L113.9 105.4L115.0 104.7L111.3 103.3Z"/><path class="k116" d="M108.8 104.6L112.6 106.1L113.9 105.4L110.1 103.9Z"/><path class="k151" d="M107.6 105.2L111.4 106.7L112.6 106.1L108.8 104.6Z"/><path class="k118" d="M106.3 105.9L110.1 107.4L111.4 106.7L107.6 105.2Z"/><path class="k164" d="M104.9 106.6L108.8 108.2L110.1 107.4L106.3 105.9Z"/><path class="k156" d="M103.6 107.3L107.5 108.9L108.8 108.2L104.9 106.6Z"/><path class="k120" d="M102.2 108.0L106.2 109.6L107.5 108.9L103.6 107.3Z"/><path class="k130" d="M100.8 108.7L104.8 110.4L106.2 109.6L102.2 108.0Z"/><path class="k162" d="M99.4 109.4L103.4 111.2L104.8 110.4L100.8 108.7Z"/><path class="k147" d="M97.9 110.2L102.0 112.0L103.4 111.2L99.4 109.4Z"/></g>
<path d="M55.8 91.8L56.7 91.6L57.6 91.4L58.5 91.3L59.4 91.1L60.3 90.9L61.1 90.8L62.0 90.6L62.8 90.5L63.7 90.3L64.5 90.1L65.3 90.0L66.1 89.8L66.9 89.7L67.7 89.5L68.5 89.4L69.3 89.2L70.1 89.1L70.8 89.0L71.6 88.8L72.4 88.7L73.1 88.5L73.8 88.4L74.6 88.3L75.3 88.1L76.0 88.0L76.7 87.9L77.4 87.7L78.1 87.6L78.8 87.5L79.5 87.3L80.2 87.2L80.9 87.1L81.5 86.4L82.2 85.7L82.9 85.1L83.5 84.4L84.2 83.8L84.8 83.1L85.4 82.5L86.1 81.9L86.7 81.2L87.3 80.6L88.0 80.0L88.6 79.3L89.2 78.7L89.8 78.1L90.4 77.5L91.0 76.9L91.6 76.3L92.2 75.7L92.8 75.1L93.4 74.5L94.0 73.9L94.6 73.3L95.2 72.7L95.8 72.2L96.3 71.6L96.9 71.0L97.5 70.5L98.0 69.9L98.6 69.3L99.1 68.8L99.7 68.2L100.2 67.7M59.5 93.4L60.4 93.2L61.2 93.0L62.1 92.8L63.0 92.6L63.8 92.4L64.7 92.3L65.5 92.1L66.4 91.9L67.2 91.7L68.0 91.6L68.8 91.4L69.6 91.2L70.4 91.1L71.2 90.9L72.0 90.7L72.7 90.6L73.5 90.4L74.2 90.3L75.0 90.1L75.7 89.9L76.5 89.8L77.2 89.6L77.9 89.5L78.6 89.3L79.3 89.2L80.0 89.0L80.7 88.9L81.4 88.7L82.1 88.6L82.8 88.5L83.4 88.3L84.1 88.2L84.8 87.5L85.4 86.8L86.1 86.2L86.7 85.5L87.4 84.9L88.0 84.2L88.6 83.6L89.3 82.9L89.9 82.3L90.5 81.6L91.1 81.0L91.7 80.4L92.3 79.7L92.9 79.1L93.6 78.5L94.1 77.9L94.7 77.3L95.3 76.7L95.9 76.1L96.5 75.5L97.1 74.9L97.7 74.3L98.2 73.7L98.8 73.1L99.4 72.5L99.9 72.0L100.5 71.4L101.1 70.8L101.6 70.3L102.2 69.7L102.7 69.1L103.3 68.6M63.1 95.0L64.0 94.8L64.9 94.6L65.7 94.4L66.6 94.2L67.4 94.0L68.3 93.8L69.1 93.6L69.9 93.4L70.7 93.2L71.5 93.0L72.3 92.8L73.1 92.6L73.9 92.4L74.7 92.3L75.4 92.1L76.2 91.9L76.9 91.7L77.7 91.6L78.4 91.4L79.1 91.2L79.8 91.0L80.6 90.9L81.3 90.7L82.0 90.5L82.7 90.4L83.4 90.2L84.0 90.1L84.7 89.9L85.4 89.7L86.0 89.6L86.7 89.4L87.4 89.3L88.0 88.6L88.7 87.9L89.3 87.3L89.9 86.6L90.6 85.9L91.2 85.3L91.8 84.6L92.5 84.0L93.1 83.3L93.7 82.7L94.3 82.0L94.9 81.4L95.5 80.8L96.1 80.2L96.7 79.5L97.3 78.9L97.9 78.3L98.5 77.7L99.0 77.1L99.6 76.5L100.2 75.9L100.8 75.3L101.3 74.7L101.9 74.1L102.5 73.5L103.0 72.9L103.6 72.3L104.1 71.8L104.7 71.2L105.2 70.6L105.8 70.1L106.3 69.5M66.9 96.6L67.7 96.4L68.6 96.1L69.4 95.9L70.2 95.7L71.1 95.5L71.9 95.3L72.7 95.1L73.5 94.9L74.3 94.7L75.1 94.4L75.9 94.2L76.6 94.0L77.4 93.8L78.2 93.6L78.9 93.5L79.7 93.3L80.4 93.1L81.1 92.9L81.8 92.7L82.6 92.5L83.3 92.3L84.0 92.1L84.7 92.0L85.4 91.8L86.0 91.6L86.7 91.4L87.4 91.3L88.1 91.1L88.7 90.9L89.4 90.7L90.0 90.6L90.6 90.4L91.3 89.7L91.9 89.0L92.6 88.4L93.2 87.7L93.8 87.0L94.4 86.4L95.1 85.7L95.7 85.0L96.3 84.4L96.9 83.7L97.5 83.1L98.1 82.5L98.7 81.8L99.3 81.2L99.9 80.6L100.5 79.9L101.0 79.3L101.6 78.7L102.2 78.1L102.8 77.5L103.3 76.9L103.9 76.3L104.5 75.7L105.0 75.1L105.6 74.5L106.1 73.9L106.7 73.3L107.2 72.7L107.8 72.1L108.3 71.6L108.8 71.0L109.4 70.4M70.6 98.2L71.4 98.0L72.3 97.7L73.1 97.5L73.9 97.3L74.7 97.0L75.6 96.8L76.4 96.6L77.1 96.4L77.9 96.1L78.7 95.9L79.5 95.7L80.2 95.5L81.0 95.3L81.7 95.0L82.4 94.8L83.2 94.6L83.9 94.4L84.6 94.2L85.3 94.0L86.0 93.8L86.7 93.6L87.4 93.4L88.1 93.2L88.8 93.0L89.4 92.8L90.1 92.6L90.8 92.5L91.4 92.3L92.1 92.1L92.7 91.9L93.3 91.7L94.0 91.6L94.6 90.9L95.2 90.2L95.9 89.5L96.5 88.8L97.1 88.1L97.7 87.5L98.3 86.8L98.9 86.1L99.5 85.5L100.1 84.8L100.7 84.2L101.3 83.5L101.9 82.9L102.5 82.2L103.1 81.6L103.7 81.0L104.2 80.3L104.8 79.7L105.4 79.1L105.9 78.5L106.5 77.9L107.1 77.3L107.6 76.7L108.2 76.1L108.7 75.5L109.3 74.9L109.8 74.3L110.3 73.7L110.9 73.1L111.4 72.5L111.9 71.9L112.4 71.4M74.4 99.9L75.2 99.6L76.0 99.4L76.9 99.1L77.7 98.9L78.5 98.6L79.3 98.4L80.0 98.1L80.8 97.9L81.6 97.6L82.3 97.4L83.1 97.2L83.8 96.9L84.6 96.7L85.3 96.5L86.0 96.2L86.7 96.0L87.4 95.8L88.1 95.6L88.8 95.3L89.5 95.1L90.2 94.9L90.9 94.7L91.6 94.5L92.2 94.3L92.9 94.1L93.5 93.9L94.2 93.7L94.8 93.5L95.5 93.3L96.1 93.1L96.7 92.9L97.3 92.7L98.0 92.0L98.6 91.3L99.2 90.6L99.8 89.9L100.4 89.2L101.0 88.6L101.6 87.9L102.2 87.2L102.8 86.5L103.4 85.9L104.0 85.2L104.6 84.6L105.2 83.9L105.8 83.3L106.3 82.6L106.9 82.0L107.5 81.4L108.0 80.7L108.6 80.1L109.1 79.5L109.7 78.9L110.2 78.3L110.8 77.6L111.3 77.0L111.9 76.4L112.4 75.8L112.9 75.2L113.5 74.7L114.0 74.1L114.5 73.5L115.0 72.9L115.6 72.3M78.2 101.6L79.0 101.3L79.8 101.0L80.6 100.7L81.4 100.5L82.2 100.2L83.0 99.9L83.8 99.7L84.5 99.4L85.3 99.1L86.0 98.9L86.7 98.6L87.5 98.4L88.2 98.1L88.9 97.9L89.6 97.6L90.3 97.4L91.0 97.2L91.7 96.9L92.4 96.7L93.1 96.5L93.7 96.2L94.4 96.0L95.1 95.8L95.7 95.5L96.4 95.3L97.0 95.1L97.6 94.9L98.3 94.7L98.9 94.5L99.5 94.2L100.1 94.0L100.7 93.9L101.3 93.1L101.9 92.4L102.6 91.7L103.2 91.0L103.8 90.4L104.4 89.7L105.0 89.0L105.6 88.3L106.1 87.6L106.7 87.0L107.3 86.3L107.9 85.6L108.5 85.0L109.0 84.3L109.6 83.7L110.2 83.0L110.7 82.4L111.3 81.8L111.8 81.1L112.4 80.5L112.9 79.9L113.5 79.3L114.0 78.7L114.5 78.0L115.1 77.4L115.6 76.8L116.1 76.2L116.6 75.6L117.2 75.0L117.7 74.4L118.2 73.9L118.7 73.3M82.1 103.2L82.9 102.9L83.7 102.7L84.5 102.4L85.2 102.1L86.0 101.8L86.8 101.5L87.5 101.2L88.3 100.9L89.0 100.7L89.7 100.4L90.4 100.1L91.2 99.9L91.9 99.6L92.6 99.3L93.3 99.1L94.0 98.8L94.6 98.5L95.3 98.3L96.0 98.0L96.6 97.8L97.3 97.6L97.9 97.3L98.6 97.1L99.2 96.8L99.9 96.6L100.5 96.4L101.1 96.1L101.7 95.9L102.3 95.7L102.9 95.4L103.5 95.2L104.1 95.0L104.7 94.3L105.4 93.6L106.0 92.9L106.6 92.2L107.1 91.5L107.7 90.8L108.3 90.1L108.9 89.4L109.5 88.7L110.1 88.1L110.6 87.4L111.2 86.7L111.8 86.1L112.3 85.4L112.9 84.8L113.5 84.1L114.0 83.5L114.5 82.8L115.1 82.2L115.6 81.6L116.2 80.9L116.7 80.3L117.2 79.7L117.8 79.1L118.3 78.4L118.8 77.8L119.3 77.2L119.8 76.6L120.4 76.0L120.9 75.4L121.4 74.8L121.9 74.2M86.0 105.0L86.8 104.6L87.5 104.3L88.3 104.0L89.1 103.7L89.8 103.4L90.6 103.1L91.3 102.8L92.0 102.5L92.8 102.2L93.5 101.9L94.2 101.6L94.9 101.3L95.6 101.1L96.3 100.8L96.9 100.5L97.6 100.2L98.3 100.0L98.9 99.7L99.6 99.4L100.2 99.2L100.9 98.9L101.5 98.6L102.2 98.4L102.8 98.1L103.4 97.9L104.0 97.6L104.6 97.4L105.2 97.1L105.8 96.9L106.4 96.6L107.0 96.4L107.6 96.2L108.2 95.5L108.8 94.8L109.4 94.0L110.0 93.3L110.6 92.6L111.1 91.9L111.7 91.2L112.3 90.5L112.9 89.9L113.4 89.2L114.0 88.5L114.6 87.8L115.1 87.2L115.7 86.5L116.2 85.8L116.8 85.2L117.3 84.5L117.9 83.9L118.4 83.2L118.9 82.6L119.5 82.0L120.0 81.3L120.5 80.7L121.0 80.1L121.5 79.5L122.1 78.8L122.6 78.2L123.1 77.6L123.6 77.0L124.1 76.4L124.6 75.8L125.1 75.2M89.9 106.7L90.7 106.3L91.4 106.0L92.2 105.7L92.9 105.3L93.7 105.0L94.4 104.7L95.1 104.4L95.8 104.1L96.6 103.8L97.3 103.4L97.9 103.1L98.6 102.8L99.3 102.5L100.0 102.2L100.7 102.0L101.3 101.7L102.0 101.4L102.6 101.1L103.3 100.8L103.9 100.5L104.5 100.2L105.1 100.0L105.8 99.7L106.4 99.4L107.0 99.2L107.6 98.9L108.2 98.6L108.8 98.4L109.4 98.1L109.9 97.9L110.5 97.6L111.1 97.4L111.7 96.7L112.3 95.9L112.8 95.2L113.4 94.5L114.0 93.8L114.6 93.1L115.2 92.4L115.7 91.7L116.3 91.0L116.8 90.3L117.4 89.6L118.0 88.9L118.5 88.3L119.0 87.6L119.6 86.9L120.1 86.3L120.7 85.6L121.2 84.9L121.7 84.3L122.2 83.6L122.8 83.0L123.3 82.4L123.8 81.7L124.3 81.1L124.8 80.5L125.3 79.9L125.8 79.2L126.3 78.6L126.8 78.0L127.3 77.4L127.8 76.8L128.3 76.2M93.9 108.4L94.7 108.1L95.4 107.7L96.1 107.4L96.9 107.0L97.6 106.7L98.3 106.3L99.0 106.0L99.7 105.7L100.4 105.3L101.1 105.0L101.8 104.7L102.4 104.4L103.1 104.0L103.8 103.7L104.4 103.4L105.0 103.1L105.7 102.8L106.3 102.5L106.9 102.2L107.6 101.9L108.2 101.6L108.8 101.3L109.4 101.0L110.0 100.7L110.6 100.5L111.2 100.2L111.8 99.9L112.3 99.6L112.9 99.4L113.5 99.1L114.0 98.8L114.6 98.6L115.2 97.9L115.8 97.1L116.3 96.4L116.9 95.7L117.5 95.0L118.1 94.2L118.6 93.5L119.2 92.8L119.7 92.1L120.3 91.4L120.8 90.7L121.4 90.1L121.9 89.4L122.4 88.7L123.0 88.0L123.5 87.3L124.0 86.7L124.6 86.0L125.1 85.4L125.6 84.7L126.1 84.1L126.6 83.4L127.1 82.8L127.6 82.1L128.1 81.5L128.6 80.9L129.1 80.3L129.6 79.6L130.1 79.0L130.6 78.4L131.1 77.8L131.6 77.2M97.9 110.2L98.7 109.8L99.4 109.4L100.1 109.1L100.8 108.7L101.5 108.3L102.2 108.0L102.9 107.6L103.6 107.3L104.3 106.9L104.9 106.6L105.6 106.2L106.3 105.9L106.9 105.6L107.6 105.2L108.2 104.9L108.8 104.6L109.4 104.3L110.1 103.9L110.7 103.6L111.3 103.3L111.9 103.0L112.5 102.7L113.1 102.4L113.7 102.1L114.2 101.8L114.8 101.5L115.4 101.2L116.0 100.9L116.5 100.6L117.1 100.3L117.6 100.0L118.2 99.8L118.7 99.1L119.3 98.3L119.9 97.6L120.4 96.9L121.0 96.1L121.6 95.4L122.1 94.7L122.7 94.0L123.2 93.3L123.7 92.6L124.3 91.9L124.8 91.2L125.4 90.5L125.9 89.8L126.4 89.1L126.9 88.4L127.4 87.8L128.0 87.1L128.5 86.4L129.0 85.8L129.5 85.1L130.0 84.5L130.5 83.8L131.0 83.2L131.5 82.6L132.0 81.9L132.4 81.3L132.9 80.7L133.4 80.0L133.9 79.4L134.4 78.8L134.8 78.2M102.0 112.0L102.7 111.6L103.4 111.2L104.1 110.8L104.8 110.4L105.5 110.0L106.2 109.6L106.9 109.3L107.5 108.9L108.2 108.5L108.8 108.2L109.5 107.8L110.1 107.4L110.8 107.1L111.4 106.7L112.0 106.4L112.6 106.1L113.2 105.7L113.9 105.4L114.5 105.0L115.0 104.7L115.6 104.4L116.2 104.1L116.8 103.7L117.4 103.4L117.9 103.1L118.5 102.8L119.0 102.5L119.6 102.2L120.1 101.9L120.7 101.6L121.2 101.3L121.7 101.0L122.3 100.3L122.9 99.5L123.4 98.8L124.0 98.1L124.5 97.3L125.1 96.6L125.6 95.9L126.2 95.1L126.7 94.4L127.2 93.7L127.8 93.0L128.3 92.3L128.8 91.6L129.3 90.9L129.9 90.2L130.4 89.6L130.9 88.9L131.4 88.2L131.9 87.5L132.4 86.9L132.9 86.2L133.4 85.6L133.9 84.9L134.4 84.2L134.8 83.6L135.3 83.0L135.8 82.3L136.3 81.7L136.8 81.1L137.2 80.4L137.7 79.8L138.2 79.2M55.8 91.8L61.3 94.2L66.9 96.6L72.5 99.1L78.2 101.6L84.0 104.1L89.9 106.7L95.9 109.3L102.0 112.0M59.4 91.1L64.8 93.4L70.2 95.7L75.8 98.1L81.4 100.5L87.1 102.9L92.9 105.3L98.8 107.9L104.8 110.4M62.8 90.5L68.1 92.6L73.5 94.9L79.0 97.1L84.5 99.4L90.1 101.7L95.8 104.1L101.6 106.5L107.5 108.9M66.1 89.8L71.3 91.9L76.6 94.0L82.0 96.2L87.5 98.4L93.0 100.6L98.6 102.8L104.3 105.1L110.1 107.4M69.3 89.2L74.4 91.2L79.7 93.3L85.0 95.3L90.3 97.4L95.8 99.5L101.3 101.7L106.9 103.8L112.6 106.1M72.4 88.7L77.4 90.6L82.6 92.5L87.8 94.5L93.1 96.5L98.4 98.5L103.9 100.5L109.4 102.6L115.0 104.7M75.3 88.1L80.3 89.9L85.4 91.8L90.5 93.7L95.7 95.5L101.0 97.5L106.4 99.4L111.8 101.4L117.4 103.4M78.1 87.6L83.1 89.3L88.1 91.1L93.1 92.9L98.3 94.7L103.5 96.5L108.8 98.4L114.1 100.3L119.6 102.2M80.9 87.1L85.7 88.7L90.6 90.4L95.6 92.1L100.7 93.9L105.9 95.6L111.1 97.4L116.4 99.2L121.7 101.0M83.5 84.4L88.3 86.1L93.2 87.7L98.1 89.4L103.2 91.0L108.3 92.8L113.4 94.5L118.7 96.3L124.0 98.1M86.1 81.9L90.8 83.4L95.7 85.0L100.6 86.7L105.6 88.3L110.6 90.0L115.7 91.7L120.9 93.4L126.2 95.1M88.6 79.3L93.3 80.9L98.1 82.5L103.0 84.0L107.9 85.6L112.9 87.3L118.0 88.9L123.1 90.6L128.3 92.3M91.0 76.9L95.7 78.4L100.5 79.9L105.3 81.5L110.2 83.0L115.1 84.6L120.1 86.3L125.2 87.9L130.4 89.6M93.4 74.5L98.1 76.0L102.8 77.5L107.5 79.0L112.4 80.5L117.3 82.1L122.2 83.6L127.3 85.2L132.4 86.9M95.8 72.2L100.4 73.6L105.0 75.1L109.7 76.5L114.5 78.0L119.4 79.6L124.3 81.1L129.3 82.7L134.4 84.2M98.0 69.9L102.6 71.3L107.2 72.7L111.9 74.2L116.6 75.6L121.5 77.1L126.3 78.6L131.3 80.1L136.3 81.7M100.2 67.7L104.8 69.0L109.4 70.4L114.0 71.8L118.7 73.3L123.5 74.7L128.3 76.2L133.2 77.7L138.1 79.2" stroke="#10102a" stroke-opacity="0.66" stroke-width="0.4" fill="none" stroke-linejoin="round"/>
<text x="14.0" y="118.7" font-size="9.6" font-weight="bold" text-anchor="middle" fill="#000" >−2</text>
<text x="31.5" y="126.2" font-size="9.6" font-weight="bold" text-anchor="middle" fill="#000" >−1</text>
<text x="54.4" y="133.2" font-size="9.6" font-weight="bold" text-anchor="middle" fill="#000" >0</text>
<text x="75.2" y="141.4" font-size="9.6" font-weight="bold" text-anchor="middle" fill="#000" >1</text>
<text x="97.8" y="149.7" font-size="9.6" font-weight="bold" text-anchor="middle" fill="#000" >2</text>
<text x="109.9" y="144.7" font-size="9.6" font-weight="bold" text-anchor="middle" fill="#000" >−2</text>
<text x="118.6" y="130.0" font-size="9.6" font-weight="bold" text-anchor="middle" fill="#000" >−1</text>
<text x="125.7" y="116.3" font-size="9.6" font-weight="bold" text-anchor="middle" fill="#000" >0</text>
<text x="133.4" y="102.9" font-size="9.6" font-weight="bold" text-anchor="middle" fill="#000" >1</text>
<text x="140.1" y="92.1" font-size="9.6" font-weight="bold" text-anchor="middle" fill="#000" >2</text>
<text x="47.9" y="140.9" font-size="10.5" font-weight="bold" font-style="italic" text-anchor="middle" fill="#000" >x</text>
<text x="131.3" y="117.5" font-size="10.5" font-weight="bold" font-style="italic" text-anchor="middle" fill="#000" >t</text>
<text x="14.7" y="84.0" font-size="9.9" font-weight="bold" text-anchor="end" fill="#000" >1.5</text>
<text x="15.6" y="93.7" font-size="9.9" font-weight="bold" text-anchor="end" fill="#000" >1.0</text>
<text x="17.4" y="103.1" font-size="9.9" font-weight="bold" text-anchor="end" fill="#000" >0.5</text>
<rect x="152.6" y="57.3" width="5.4" height="48.2" fill="url(#cb)"/>
<text x="161.6" y="66.9" font-size="9.7" font-weight="bold" text-anchor="start" fill="#000" >1.50</text>
<text x="161.6" y="75.6" font-size="9.7" font-weight="bold" text-anchor="start" fill="#000" >1.25</text>
<text x="161.6" y="84.3" font-size="9.7" font-weight="bold" text-anchor="start" fill="#000" >1.00</text>
<text x="161.6" y="93.1" font-size="9.7" font-weight="bold" text-anchor="start" fill="#000" >0.75</text>
<text x="161.6" y="101.8" font-size="9.7" font-weight="bold" text-anchor="start" fill="#000" >0.50</text></g>
</svg>
</body></html>
